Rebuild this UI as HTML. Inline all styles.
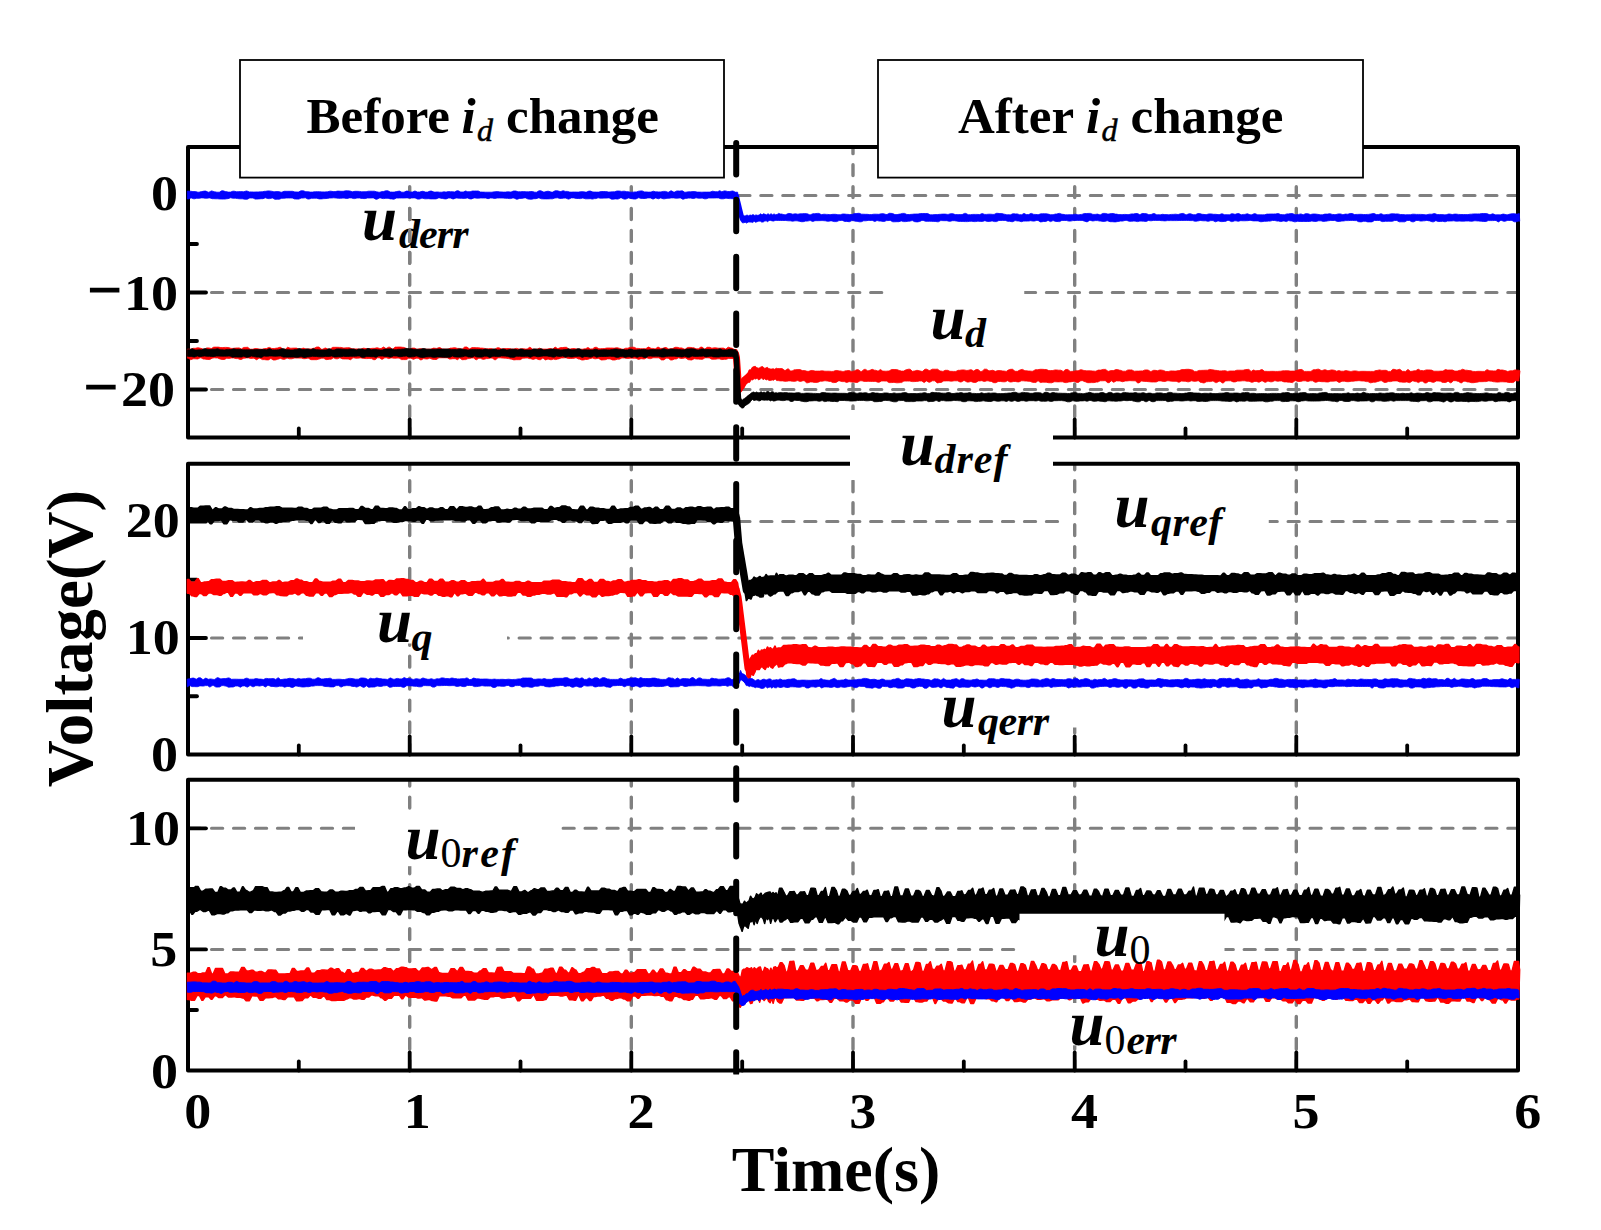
<!DOCTYPE html>
<html><head><meta charset="utf-8"><title>Voltage(V) vs Time(s)</title>
<style>html,body{margin:0;padding:0;background:#fff;overflow:hidden}svg{display:block}text{font-family:"Liberation Serif","Times New Roman",serif;fill:#000}.b{font-weight:bold}.bi{font-weight:bold;font-style:italic}.i{font-style:italic}</style></head><body>
<svg width="1601" height="1230" viewBox="0 0 1601 1230">
<rect x="0" y="0" width="1601" height="1230" fill="#fff"/>
<g stroke="#808080" stroke-width="3" stroke-linecap="round" stroke-dasharray="11.3 10.67" fill="none">
<line x1="189.5" y1="195.5" x2="1518.0" y2="195.5"/>
<line x1="189.5" y1="292.5" x2="1518.0" y2="292.5"/>
<line x1="189.5" y1="389.5" x2="1518.0" y2="389.5"/>
<line x1="189.5" y1="521.5" x2="1518.0" y2="521.5"/>
<line x1="189.5" y1="638.0" x2="1518.0" y2="638.0"/>
<line x1="189.5" y1="828.3" x2="1518.0" y2="828.3"/>
<line x1="189.5" y1="949.4" x2="1518.0" y2="949.4"/>
</g>
<rect x="883.75" y="283.00" width="140.50" height="20.00" fill="#fff"/>
<rect x="303.00" y="628.00" width="204.00" height="20.00" fill="#fff"/>
<rect x="1060.00" y="511.00" width="208.75" height="20.00" fill="#fff"/>
<rect x="355.00" y="818.00" width="206.25" height="20.00" fill="#fff"/>
<g stroke="#808080" stroke-width="3.4" stroke-linecap="round" fill="none">
<line x1="409.7" y1="147.00" x2="409.7" y2="437.50" stroke-dasharray="10.90 11.03" stroke-dashoffset="4.23"/>
<line x1="631.3" y1="147.00" x2="631.3" y2="437.50" stroke-dasharray="10.90 11.03" stroke-dashoffset="4.23"/>
<line x1="853.0" y1="147.00" x2="853.0" y2="437.50" stroke-dasharray="10.90 11.03" stroke-dashoffset="4.23"/>
<line x1="1074.7" y1="147.00" x2="1074.7" y2="437.50" stroke-dasharray="10.90 11.03" stroke-dashoffset="4.23"/>
<line x1="1296.3" y1="147.00" x2="1296.3" y2="437.50" stroke-dasharray="10.90 11.03" stroke-dashoffset="4.23"/>
<line x1="409.7" y1="463.75" x2="409.7" y2="754.50" stroke-dasharray="10.90 11.03" stroke-dashoffset="4.88"/>
<line x1="631.3" y1="463.75" x2="631.3" y2="754.50" stroke-dasharray="10.90 11.03" stroke-dashoffset="4.88"/>
<line x1="853.0" y1="463.75" x2="853.0" y2="754.50" stroke-dasharray="10.90 11.03" stroke-dashoffset="4.88"/>
<line x1="1074.7" y1="463.75" x2="1074.7" y2="754.50" stroke-dasharray="10.90 11.03" stroke-dashoffset="4.88"/>
<line x1="1296.3" y1="463.75" x2="1296.3" y2="754.50" stroke-dasharray="10.90 11.03" stroke-dashoffset="4.88"/>
<line x1="409.7" y1="779.75" x2="409.7" y2="1070.50" stroke-dasharray="10.90 11.03" stroke-dashoffset="4.58"/>
<line x1="631.3" y1="779.75" x2="631.3" y2="1070.50" stroke-dasharray="10.90 11.03" stroke-dashoffset="4.58"/>
<line x1="853.0" y1="779.75" x2="853.0" y2="1070.50" stroke-dasharray="10.90 11.03" stroke-dashoffset="4.58"/>
<line x1="1074.7" y1="779.75" x2="1074.7" y2="1070.50" stroke-dasharray="10.90 11.03" stroke-dashoffset="4.58"/>
<line x1="1296.3" y1="779.75" x2="1296.3" y2="1070.50" stroke-dasharray="10.90 11.03" stroke-dashoffset="4.58"/>
</g>
<rect x="395.00" y="601.00" width="30.00" height="42.50" fill="#fff"/>
<rect x="395.00" y="813.00" width="30.00" height="53.20" fill="#fff"/>
<rect x="1060.00" y="1003.00" width="30.00" height="42.30" fill="#fff"/>
<rect x="1060.00" y="688.00" width="30.00" height="39.50" fill="#fff"/>
<g stroke="#000" stroke-width="4" fill="none" stroke-linecap="round" stroke-linejoin="round">
<rect x="188.0" y="147.0" width="1330.0" height="290.5"/>
<rect x="188.0" y="463.75" width="1330.0" height="290.75"/>
<rect x="188.0" y="779.75" width="1330.0" height="290.75"/>
</g>
<g stroke="#000" stroke-width="3.8" fill="none" stroke-linecap="round">
<line x1="298.8" y1="437.5" x2="298.8" y2="428.5"/>
<line x1="409.7" y1="437.5" x2="409.7" y2="419.5"/>
<line x1="520.5" y1="437.5" x2="520.5" y2="428.5"/>
<line x1="631.3" y1="437.5" x2="631.3" y2="419.5"/>
<line x1="742.2" y1="437.5" x2="742.2" y2="428.5"/>
<line x1="853.0" y1="437.5" x2="853.0" y2="419.5"/>
<line x1="963.8" y1="437.5" x2="963.8" y2="428.5"/>
<line x1="1074.7" y1="437.5" x2="1074.7" y2="419.5"/>
<line x1="1185.5" y1="437.5" x2="1185.5" y2="428.5"/>
<line x1="1296.3" y1="437.5" x2="1296.3" y2="419.5"/>
<line x1="1407.2" y1="437.5" x2="1407.2" y2="428.5"/>
<line x1="298.8" y1="754.5" x2="298.8" y2="745.5"/>
<line x1="409.7" y1="754.5" x2="409.7" y2="736.5"/>
<line x1="520.5" y1="754.5" x2="520.5" y2="745.5"/>
<line x1="631.3" y1="754.5" x2="631.3" y2="736.5"/>
<line x1="742.2" y1="754.5" x2="742.2" y2="745.5"/>
<line x1="853.0" y1="754.5" x2="853.0" y2="736.5"/>
<line x1="963.8" y1="754.5" x2="963.8" y2="745.5"/>
<line x1="1074.7" y1="754.5" x2="1074.7" y2="736.5"/>
<line x1="1185.5" y1="754.5" x2="1185.5" y2="745.5"/>
<line x1="1296.3" y1="754.5" x2="1296.3" y2="736.5"/>
<line x1="1407.2" y1="754.5" x2="1407.2" y2="745.5"/>
<line x1="298.8" y1="1070.5" x2="298.8" y2="1061.5"/>
<line x1="409.7" y1="1070.5" x2="409.7" y2="1052.5"/>
<line x1="520.5" y1="1070.5" x2="520.5" y2="1061.5"/>
<line x1="631.3" y1="1070.5" x2="631.3" y2="1052.5"/>
<line x1="742.2" y1="1070.5" x2="742.2" y2="1061.5"/>
<line x1="853.0" y1="1070.5" x2="853.0" y2="1052.5"/>
<line x1="963.8" y1="1070.5" x2="963.8" y2="1061.5"/>
<line x1="1074.7" y1="1070.5" x2="1074.7" y2="1052.5"/>
<line x1="1185.5" y1="1070.5" x2="1185.5" y2="1061.5"/>
<line x1="1296.3" y1="1070.5" x2="1296.3" y2="1052.5"/>
<line x1="1407.2" y1="1070.5" x2="1407.2" y2="1061.5"/>
<line x1="188.0" y1="195.5" x2="206.0" y2="195.5"/>
<line x1="188.0" y1="292.5" x2="206.0" y2="292.5"/>
<line x1="188.0" y1="389.5" x2="206.0" y2="389.5"/>
<line x1="188.0" y1="521.5" x2="206.0" y2="521.5"/>
<line x1="188.0" y1="638.0" x2="206.0" y2="638.0"/>
<line x1="188.0" y1="828.3" x2="206.0" y2="828.3"/>
<line x1="188.0" y1="949.4" x2="206.0" y2="949.4"/>
<line x1="188.0" y1="244.0" x2="197.0" y2="244.0"/>
<line x1="188.0" y1="341.0" x2="197.0" y2="341.0"/>
<line x1="188.0" y1="579.75" x2="197.0" y2="579.75"/>
<line x1="188.0" y1="696.25" x2="197.0" y2="696.25"/>
<line x1="188.0" y1="888.9" x2="197.0" y2="888.9"/>
<line x1="188.0" y1="1010.0" x2="197.0" y2="1010.0"/>
</g>
<g>
<path d="M187.3 191.1h0.1l2.2 0.1h0.9l2.4 0.4h2.6l2.4 0.6h1.1l2.4-0.6h0.4l2.4-0.5h1.6l2.4 1.1h0.8l2.4-1.3h0.4l2.4 0.8h0.3l2.4 0.5h2.4l2.4-1.4h1.4l2.4 0.8h0.3l2.4 0.5h2.3l2.4-0.9h1.2l2.4 0.5h1.6l2.4-0.1h0.2l2.4 0.1h0.7l2.4-0.7h0.7l2.4 0.9h1.9l2.4 0.1h1.3l2.4-0.1h1l2.4-0.1h1.5l2.4-0.5h1l2.4-0.4h0.9l2.4 0.3h0.1l2.4 0.5h0.9l2.4-0.1h1.5l2.4 0.6h0.8l2.3-0.9h0.1h2.3h1.2h2.4h2.4l2.3 0.6h0.1l2.2 0.1h1.4l2.4-1.2h2.5l2.4 0.9h2.1l2.4 0.4h2.1l2.4-0.4h0.6h2.4h1.8l2.3 0.2h0.1h2.4h0.6l2.4-0.1h0.1l2.4-0.6h0.9l2.4 0.4h2l2.4-0.5h1l2.4 0.2h2.2l2.4-0.5h2l2.3 0.2h0.1l2.2 0.7h0.4l2.4-0.4h2l2.4 0.1h0.1l2.2 0.4h0.1l2.2-0.1h2.1l2.4-0.5h1.4h2.4h2l2.2 0.6h0.1l2.2 0.4h1l2.4-0.7h1.2l2.4-0.7h2.1l2.3 1.2h0.1l2.3 0.1h1.6l2.4-0.6h0.3l2.4-0.4h0.1l2.4 1.1h2.2l2.4-1.1h1.2l2.4 0.9h2.5l2.4-1h0.1l2.4 1h2.3l2.4-0.7h1l2.4 0.8h2.1l2.4-1h1.6l2.4 1h1.2l2.2-0.2h0.1l2.2 0.3h2.1l2.1-0.4h0.1l2 0.3h0.1l2.1-0.5h0.1l2.2 0.1h1.6l2.4 0.2h0.1l2.3-1.1h1.4l2.4 1.2h2.6l2.2-1h0.1l2.1 0.7h2.4l2.4-0.7h1.9h2.4h1.5l2.1 1h0.1l2.2 0.1h0.5l2.4 0.1h2.3h2.4h1.6l2.4-0.4h0.7l2.4-0.2h0.1l2.4 0.3h1.2l2.4 0.2h1.8l2.4-0.3h0.2l2.4 0.2h0.8l2.4-1h2.3l2.3 0.8h0.1l2.3-0.1h0.3l2.4-0.1h0.5l2.4 0.2h2.3l2.4-0.3h1.6l2.4 0.7h1.8l2.4-1.4h1.9l2.4 1.1h1.4l2.4-0.6h1.6l2.4 0.8h1.6l2.4-1.3h2.5l2.4 0.7h0.9l2.2-0.8h0.1l2.2 0.7h2l2.4 0.7h1.9l2.4-0.1h0.5l2.4 0.1h1.4l2.4-0.4h2.3l2.4 0.4h1l2.4-1h1.6l2.4 0.9h1.5l2.4 0.1h2l2.4-0.6h2l2.4 0.1h0.5l2.4 0.4h1.5l2.4-0.2h2.1l2.4-0.8h2.3l2.3 0.4h0.1l2.3-0.2h0.5l2.4 0.5h1.3l2.4 0.5h2.3l2.4-0.3h1.2l2.2-0.7h0.1l2.2-0.3h1.3l2.4 1h1.4l2.4 0.2h2.6l2.2-0.9h0.1l2.2 0.6h0.7l2.4 0.1h2.3l2.4-0.5h2.2l2.4 0.8h0.6l2.4-1.4h0.4l2.4 1.3h0.8l2.4-1.2h0.5l2.4 0.2h0.1l2.3-0.3h0.1l2.4 1.4h1.2l2.4-0.4h2.3l2.4-0.2h1.8l2.3 0.5h0.1h2.3h0.1l2.2 0.1h0.1l2.2-0.1h2.5h2.4h1.1l2.4-0.9h0.2l2.4 0.5h2.5l2.1-1h0.1l2 1.1h0.1l2.2-0.9h1.2l2.4 0.6h2.1l2.4-0.5h0.8l2.4 1.2h2.2l1.9 12.8h0.1l1.4 7h0.1l1.4 4.4h0.1l1.4-0.5h0.1l1.4-0.2h0.1l1.4-0.7h0.1l1.4 0.8h0.1l1.4-0.8h0.1l1.4 0.3h0.1l1.4-0.7h0.1l1.4 0.8h0.1l1.4-0.5h0.1l1.4 0.4h0.1l1.4-0.2h0.1l1.4-1.3h0.1l1.4 1h0.1l1.4-1.1h0.1l1.4 0.6h0.1l1.4 0.5h0.1l1.4-1.1h0.1l1.4 1.1h0.1l1.4-1.1h0.1l1.4 1.1h0.1l1.4-0.9h0.1l1.4 0.8h0.1l1.4-0.2h0.1l1.4-1.1h0.1l1.9 0.6h1.1l2.4 0.7h1.8l2.4-1.2h2.1l2.4 0.7h0.1l2.4-0.4h0.4l2.2 0.4h0.1l2.2-0.4h2l2.3-0.2h0.1l2.3 0.1h0.3l2.4 1h1.1l2.4-1h1.8l2.4-0.3h1.7l2.4 1.2h0.4l2.3-0.4h0.1l2.4 0.2h0.8l2.4 0.2h1l2.2-0.3h0.1h2.1h0.4l2.4 0.4h2.4l2.4-0.7h1.5l2.4 0.3h0.5l2.4 0.2h2.5l2.4-0.9h1.7l2.4-0.3h0.7l2.4 0.9h1.5l2.4 0.1h1.7l2.4 0.3h1.8l2.4-0.4h2.4l2.4 0.1h0.3l2.4-0.6h2.3l2.4 0.8h1l2.4-1.2h0.7l2.4 0.2h0.1l2.3 1.1h2.2l2.4-0.5h0.6l2.4-0.7h2l2.4 1.1h2.6l2.4-0.2h0.2l2.4-0.3h1.2h2.3h0.1l2.4-0.5h2.3h2.4h2.5l2.4 1.3h2.4l2.4-0.2h2.4l2.4-0.3h0.5l2.4-0.2h2.5l2.4 0.3h0.7l2.4-0.7h2.3l2.3 0.9h0.1h2.4h0.7h2.4h1.3l2.4-1.2h1.3l2.4 1.3h2.2l2.4-0.3h0.2h2.4h1.5l2.4 0.1h0.4l2.4-0.9h0.2l2.4 0.8h1.7l2.4-0.2h1.7l2.4 0.2h1.2l2.4-1.1h1l2.4 0.3h2l2.3 0.6h0.1l2.4 0.5h0.7l2.4 0.1h0.7l2.4-1.1h0.3l2.4 0.2h1.7l2.3 0.8h0.1h2h0.1l2.1-1.3h0.1l2.3 1.2h2.3l2.4-1.2h0.4l2.4 1h1.3l2.4 0.2h1l2.4-0.8h1.3l2.4-0.1h1.2l2.3 0.4h0.1l2.3 0.6h2.6l2.4-0.7h1.1l2.4-0.6h0.6l2.4 0.9h1l2.4 0.5h2.3l2.4-0.1h2.2l2.4-0.5h0.8l2.4 0.6h1l2.4-0.4h0.6l2.4-0.9h2.4l2.4-0.1h1.4l2.4 1h2.2l2.3-0.3h0.1l2.3 0.7h0.6l2.4-1.4h2.5l2.4 0.6h1.2l2.4-0.5h1.7l2.4 0.6h1l2.4 0.5h0.2h2.4h1.2l2.2-0.2h0.1l2.2 0.2h1.8l2.4-0.7h2.2l2.4-0.4h1.6l2.3 1.2h0.1l2.2-1.2h2.3l2.3 0.3h0.1l2 0.9h0.1l2.1-0.2h0.1l2.4-1h0.7l2.4 1.2h0.9l2.4 0.1h0.4l2.2-0.5h0.1l2.2 0.3h1.2l2.4 0.1h0.7l2.4-0.3h1.6l2.4-0.2h0.1l2.4 0.3h0.2l2.3-0.8h0.1l2.4-0.3h0.4l2.4 1.3h0.8l2.4-0.9h1.7l2.4 0.9h2.3l2.4-1.1h1.9l2.4 0.7h0.6l2.4 0.3h1.4l2.4-0.7h2.2l2.4 0.4h2.2l2.4 0.3h1.2l2.4-0.8h0.5l2.4 0.9h2.5l2.2 0.1h0.1l2.2-1.1h0.9l2.4 0.6h0.3l2.4-0.7h1.2l2.4 1.2h0.1l2.3-0.4h1.2l2.4-0.6h0.4l2.4 1h1.7l2.4-1.1h1.2l2.4 1.1h2.4h2.4h2l2.4-0.7h1.6l2.4-0.1h2.5l2.2-0.1h0.1l2.3-0.3h0.4l2.2 0.9h0.1l2.2 0.2h1.6l2.4-0.8h1.5l2.4-0.3h1.8l2.4 1.1h0.9l2.4-0.3h0.4l2.2-0.5h0.1l2.1 0.9h0.1l2.2-1.1h2.4l2.4 0.8h0.4l2.4-0.5h2l2.4 0.3h0.4l2.4 0.5h2.2l2.4-0.7h2.6l2.4-0.4h0.1l2.3 0.7h0.1l2.3 0.2h1.3l2.4-0.7h2.2l2.4 0.8h0.1l2.3-0.6h0.1l2.2 0.1h0.2l2.4-0.7h2l2.3 1h0.1l2.4-0.1h0.8l2.4-0.1h0.9l2.4 0.2h1.8l2.4-0.1h0.7l2.4-0.4h0.1l2.3-0.5h0.8l2.4 1.1h2.1l2.4-0.9h0.3l2.4 1.1h1.3l2.4-0.4h1.5l2.4-0.6h1.9l2.4 0.1h2.4l2.4 0.6h2.4l2.4 0.3h0.6l2.4-0.1h2.2l2.4-0.5h1.2l2.4 0.2h2.1h2.3h0.1l2.2 0.1h0.1l2.2 0.3h1.5l2.4-0.6h2.6l2.4-0.6h0.5l2.4 0.9h0.1l2.3 0.1h2.4l2.4 0.2h1.8l2.4-0.8h1.2l2.4 0.5h0.2l2.4-0.4h1.3l2.4 0.3h0.1l2.4 0.1h2.6l2.4 0.1h1.9l2.4-0.4h1l2.4-0.3h1.4h2.4h2l2.4-0.4h2l2.4 0.1h0.6l2.4 1h1.1l2.4-0.8h0.2l2.4 1h1.5h2.4h1.3l2.4-0.7h0.8l2.4 0.6h1.6l2.2-0.6h0.1l2.2-0.4h2l2.4 0.4h0.7l1.9-0.5h0.1l0.4 7.6h-0.1l-1.2-0.1h-0.1l-2.2 0.7h-1.8l-2.4-1.4h-1.2l-2.4 0.1h-1l-2.4 0.8h-1.1l-2.4-0.9h-0.7l-2.3 1.5h-0.1l-2.3-1.4h-1.3l-2.2 0.1h-0.1h-2.2h-1.9l-2.4 0.9h-2.3l-2.4-0.3h-0.3l-2.4-0.2h-0.4l-2.4-0.2h-1.2l-2.4 0.4h-1.3l-2.4-0.2h-2.5l-2.4 0.2h-1.2l-2.4-0.1h-0.9l-2.4 0.1h-0.4l-2.4-0.4h-0.2l-2.4 0.2h-1.1l-2.4 0.1h-0.3l-2.3 0.7h-0.1l-2.2-0.5h-0.1l-2.3 0.2h-2.2l-2.3-0.8h-0.1l-2.3 1.1h-1.4l-2.4-0.9h-0.5l-2.3-0.5h-0.1l-2.3 0.4h-0.7l-2.4 0.3h-0.8l-2.4-0.6h-2.1l-2.4 1.3h-1.8l-2.4-1.3h-2.4l-2.4 1.3h-0.6h-2.4h-2.5l-2.4-1.3h-2.1l-2.4 0.8h-0.1h-2.3h-1.6h-2.4h-0.4l-2.4 0.3h-1l-2.4-1.1h-2.4h-2.4h-0.5l-2.4 1.4h-0.3h-2.4h-1.6l-2.4-0.6h-1.7l-2.4 0.6h-0.4l-2.2-0.2h-0.1l-2.1-1.1h-1.5l-2.4-0.2h-1.7l-2.4 0.2h-2.6l-2.4 0.4h-1.5l-2.4 0.4h-2.2l-2.4-0.9h-0.6h-2.4h-1.5l-2.2 0.3h-0.1l-2.2 0.4h-0.5l-2.1 0.2h-0.1l-2.2-0.6h-2.4l-2.4 0.6h-1.9l-2.4-0.4h-0.1l-2.3 0.5h-2.2h-2.4h-1.6h-2.4h-0.9l-2.2-0.2h-0.1l-2.2 0.5h-1.2l-2.4-0.8h-1l-2.3-0.4h-0.1l-2.1 1h-0.1l-2.2-0.6h-1l-2.2 0.6h-0.1l-2.2-0.5h-1.4l-2.3-0.6h-0.1h-2.2h-0.2l-2.4 0.6h-1.4l-2.4 0.2h-2l-2.4 0.4h-1.3l-2.4-0.8h-2.3h-2.4h-0.2l-2.4-0.5h-1l-2.4 0.3h-0.6l-2.4 0.1h-0.7l-2.4-0.1h-0.8l-2.2 0.6h-0.1l-2.2-0.5h-1.2l-2.4 0.8h-1.1l-2.4-1.2h-1.2l-2.4 1h-0.9l-2.4 0.2h-0.9l-2.4-0.6h-0.9l-2.4 0.8h-0.1l-2.3-1.2h-2.2l-2.4 0.7h-0.4l-2.4-0.5h-2.4l-2.4-0.3h-0.8l-2.2 0.5h-0.1l-2.2 0.3h-0.4l-2.4-0.7h-1.7l-2.2-0.1h-0.1l-2.1-0.1h-2.5l-2.4 0.1h-2.6l-2.4 0.1h-2.5h-2.4h-1.4h-2.4h-0.6l-2.4 0.3h-0.1l-2.4-0.2h-0.8l-2.4-0.3h-1.2h-2.4h-2.2l-2.4 0.4h-0.3l-2.2-0.3h-0.1l-2.2 0.9h-0.3l-2.4-0.2h-0.1l-2.4-0.1h-1.2l-2.4 0.5h-0.1l-2.4-0.5h-1.3l-2.4 0.2h-2.1l-2.4-0.9h-1.7l-2.4 0.7h-2.3l-2.4 0.4h-0.1l-2.4 0.4h-0.9l-2.4-0.2h-2.2l-2.4-0.9h-0.6l-2.4 0.6h-1.5l-2.4-0.3h-0.8l-2.4-0.5h-2.3l-2.3 0.4h-0.1l-2.4-0.6h-0.9l-2.4 1.5h-0.1l-2.3-0.7h-0.1l-2.4-0.8h-2.4h-2.4h-1.9l-2.4 0.2h-0.2l-2.4 0.5h-1.7l-2.4-0.6h-2.2l-2.2-0.1h-0.1l-2.3 1.2h-1.2l-2.4-0.2h-0.4l-2.4-0.8h-0.2l-2.4 1h-0.2l-2.3-1.2h-0.1l-2.2 1.1h-2.4l-2.4 0.4h-0.6l-2.4-1.5h-1.2l-2.4 0.7h-1.5l-2.2-0.4h-0.1l-2.3 0.4h-0.7h-2.4h-1.5l-2.3 0.6h-0.1l-2.3-0.7h-1.5l-2.3-0.4h-0.1l-2.4 1.1h-0.9l-2.4-0.4h-1.7l-2.4-0.9h-0.1h-2.4h-0.3l-2.4 0.1h-1.2l-2.4 1.1h-2l-2.4-0.7h-0.1l-2.4 0.5h-2.3l-2.4-0.7h-0.1l-2.3 0.7h-2l-2.4-0.2h-0.3l-2.4 0.4h-1.3l-2.4-0.3h-1.8l-2.4 0.3h-1.9l-2.4-0.1h-0.4l-2.4-0.1h-1.4l-2.2-0.3h-0.1l-2.2-0.4h-2l-2.4 0.6h-0.9l-2.4-0.6h-2.6l-2.4-0.1h-1.1l-2.4 1.2h-0.7l-2.4-0.4h-1.6l-2.4-0.1h-1.7h-2.4h-1.6l-2.4-0.9h-1.2l-2.2 1.1h-0.1l-2.1 0.4h-0.5l-2.2-0.2h-0.1l-2.3-1.1h-0.4l-2.4 0.6h-1.4l-2.4 0.4h-2.3l-2.2-0.7h-0.1l-2.3 0.8h-2l-2.4 0.1h-1.7l-2.4-1.3h-1.1l-2.4 0.1h-0.3l-2.4 0.9h-0.9l-2.4-0.4h-1.6l-2.2-0.6h-0.1l-2.1 1h-0.1l-2.4-1h-0.8l-2.4-0.1h-0.9l-2.4 0.4h-2.3l-2.4 1h-1.8l-2.4-0.5h-1.5l-2.4-0.7h-1.2l-2.4 1.1h-0.5l-2.4-0.3h-1.9l-2.4-1h-0.8l-2.4 0.2h-0.1l-2.3 1h-2.5l-2.4-0.7h-1.3l-2.4 0.4h-0.6l-2.2-0.5h-0.1l-2.3-0.2h-1.8l-2.4 0.1h-0.1h-2.3h-1.3l-2.2 0.8h-0.1l-2.3-0.9h-0.6l-2.4 0.5h-1.8l-2.4 0.6h-1.8l-2.2-0.5h-0.1l-2.1-0.4h-2l-2.3 0.4h-0.1l-2.4-0.4h-1.9l-2.4-0.3h-0.7h-2.3h-0.1h-2.4h-0.3l-1.9-0.1h-0.1l-1.4 0.1h-0.1l-1.4-0.1h-0.1l-1.4 0.7h-0.1l-1.4-0.2h-0.1l-1.4-0.5h-0.1h-1.4h-0.1l-1.4 1.4h-0.1l-1.4-1h-0.1l-1.4 0.3h-0.1l-1.4 0.9h-0.1l-1.4 0.1h-0.1l-1.4-1h-0.1l-1.4 0.1h-0.1l-1.4 0.5h-0.1l-1.4 0.6h-0.1l-1.4-1h-0.1l-1.4 1.2h-0.1l-1.4-0.4h-0.1h-1.4h-0.1h-1.4h-0.1l-1.4 1h-0.1l-1.4-0.8h-0.1l-1.4 0.5h-0.1l-1.4-0.1h-0.1l-1.4-6.3h-0.1l-1.4-5.6h-0.1l-1.4-6.7h-0.1l-1.4-5.5h-0.1l-1.9 0.1h-1.3l-2.4-0.1h-1.3l-2.4-0.3h-1.1l-2.4 0.5h-2.4l-2.4-0.9h-1.9l-2.4 0.1h-2.1h-2.4h-1.1l-2.4 0.8h-1.7l-2.3-0.7h-0.1l-2.2 0.1h-1.5l-2.3-0.4h-0.1l-2.2 0.7h-0.7l-2.4-0.4h-2.4l-2.4 0.3h-0.5l-2.4 0.9h-0.1l-2.3-1.3h-1.3l-2.4 0.2h-0.9l-2.4-0.3h-2.4l-2.4 0.4h-1.8l-2.4 0.5h-1.5l-2.3-0.9h-0.1l-2.4 0.9h-0.1l-2.4-0.9h-0.1l-2.4 1.1h-0.5l-2.4-1.1h-2.6l-2.4 0.6h-0.3h-2.4h-1.4l-2.4-0.7h-0.6l-2.4 1.2h-2.4l-2.4-0.6h-0.4l-2.3-0.5h-0.1l-2.4 1.2h-1.9l-2.4-1.2h-1.2l-2.4 1.2h-0.1l-2.4-0.2h-0.4l-2.4 0.3h-1.1l-2.4-1.3h-0.8l-2.4 0.2h-2l-2.4 0.1h-1.2l-2.2-0.4h-0.1l-2.2 0.8h-1.3l-2.2 0.5h-0.1l-2-0.4h-0.1l-2.2 0.1h-2.6l-2.4-0.7h-0.4l-2.2 0.5h-0.1l-2.1-0.1h-1.9l-2.4-0.6h-2.6l-2.4 1.2h-0.7l-2.4-1h-1.9l-2.4 0.3h-1.8l-2.2-0.6h-0.1l-2.3 0.2h-0.2l-2.4 0.8h-2.2l-2.4 0.1h-0.2h-2.4h-0.9l-2.4-0.1h-0.5l-2.4-0.9h-0.7l-2.4 0.8h-2.1l-2.4 0.6h-0.2l-2.4-0.2h-0.8l-2.4-1.2h-1.6l-2.4 0.5h-2l-2.4 0.8h-0.9l-2.4-1.2h-1.2l-2.4 0.6h-0.7l-2.4-0.3h-1.8l-2.4-0.3h-1.2h-2.4h-2.4l-2.4 0.5h-0.1l-2.4-0.5h-1.8l-2.3 0.7h-0.1l-2.2-0.7h-1.9h-2.4h-0.9l-2.4 0.2h-1l-2.4-0.3h-0.8l-2.4 1h-1.6l-2.4-0.9h-0.5l-2.4 0.4h-0.5l-2.4-0.1h-2.5l-2.4-0.3h-0.9l-2.4 0.9h-0.8l-2.4-0.9h-1.8l-2.4 0.9h-1.2l-2.4-0.4h-0.5l-2.4-0.6h-1.2l-2.4 1h-0.9h-2.4h-2.1l-2.2-0.2h-0.1l-2.3 0.1h-1.3l-2.4-0.6h-0.6l-2.4 0.9h-1.9l-2.4-1.2h-1.3l-2.4 0.1h-0.9l-2.4-0.1h-1.6l-2.4 0.1h-0.1h-2.4h-1.9l-2.4 0.1h-1l-2.3 1.1h-0.1l-2.3-0.3h-1.1l-2.4-0.6h-2.2l-2.4 0.3h-0.5l-2.4-0.6h-1.2l-2.4 1.2h-1.2l-2.4-1.3h-1l-2.4 0.1h-2.5l-2.4 0.6h-0.1l-2.4-0.1h-0.7l-2.4-0.5h-2.5l-2.4 0.6h-0.9l-2.4-0.7h-1.9l-2.4 0.6h-0.5l-2.4-0.4h-1.2l-2.4 0.2h-2l-2.4-0.3h-0.1l-2.2-0.2h-0.1l-2.2 0.2h-1.9l-2.3 0.4h-0.1l-2.2 0.2h-1.1l-2.4 0.3h-2.4l-2.4-0.7h-2.6l-2.4 0.1h-0.2l-2.4 0.7h-1.3l-2.4-1.2h-0.4l-2.4 0.3h-1.4l-2.4 1h-0.9l-2.4-0.1h-0.8l-2.4-1h-1.6h-2.4h-2.1l-2.4 0.3h-2.1l-2.4 0.9h-2.1l-2.2 0.1h-0.1l-2.2-1.2h-0.7l-2.4 0.5h-1.8l-2.4-0.8h-0.1l-2.3 0.9h-1.9l-2.1 0.2h-0.1l-2.2 0.2h-1.5l-2.2-1.1h-0.1h-2.3h-0.9l-2.4 1.2h-2.6l-2.4-0.4h-2.4l-2.2-0.2h-0.1l-2.2-0.4h-2.4l-2.4-0.4h-0.2l-2.4 0.9h-0.9l-2.4 0.4h-1.3l-2.4-0.1h-1l-2.4-0.2h-1.5l-2.4-0.1h-1.4l-2.4-0.8h-0.9l-2.4 0.4h-1.1l-2.4-0.4h-1.7l-2.4 0.4h-2.3l-2.4 0.5h-0.5l-2.4-0.8h-0.5l-2.4 1h-1.1z" fill="#0000ff" stroke="#0000ff" stroke-width="0.8" stroke-linejoin="round"/>
<polyline points="735.5,195.0 736.5,196.2 737.5,200.3 738.5,204.4 739.5,208.5 740.5,212.6 741.5,216.6 742.5,219.5 743.5,219.4 744.5,219.2 745.5,219.1" fill="none" stroke="#0000ff" stroke-width="5" stroke-linejoin="round" stroke-linecap="round"/>
<path d="M187.4 349.2h0.1h2.3h1l2.4-0.9h2.1l2.4-0.6h0.6l2.4 0.6h0.2l2.4 0.9h1.1l2.4-1.3h2l2.4 0.6h0.2l2.4-1.4h0.6h2.4h1.6l2.4 0.5h1.9l2.4-0.2h0.5l2.4 0.1h0.6l2.4 0.9h1.7l2.4-0.3h0.1l2.4-0.2h1.5l2.3 1h0.1l2.2-1.5h1.3l2.4-0.1h0.3l2.4 1.9h2.5l2.4-0.6h1.8l2.4 0.4h0.1l2.3 0.2h0.7l2.4-0.7h1.7l2.4-1.1h0.6l2.4 1.1h2.5l2.4-0.4h0.6l2.4-0.8h0.8l2.4 1.8h0.4h2.2h0.1l2.1-1.9h0.1l2.3 1h1.6l2.4-0.1h2.4l2.4 1h1.8l2.4-1h0.4l2.4 0.8h2.1h2.4h1l2.4-0.7h0.5l2.4-1.2h2.3l2.4 2.2h1.3l2.4-1.2h0.4l2.4 1.1h2.4l2.4-1.8h2.1h2.3h0.1l2.3 0.1h1.4l2.4 0.5h1.6l2.4-0.2h2.2l2.4 1h0.8l2.4 0.2h2.5l2.4 0.2h0.8l2.4-0.9h0.6l2.4 0.4h0.2h2.4h1.4l2.4-0.3h1.9l2.4-0.5h0.5l2.4 0.7h1.3l2.4-1.5h0.1l2.4 1.6h0.1l2.4-1.4h1.3l2.4 1.9h0.6l2.4-2h1.7l2.4-0.1h0.9l2.4 0.3h0.6l2.1 0.6h0.1l2.2 1h2.3l2.4-0.8h2.1l2.4 1.1h0.6l2.4-0.5h1.5l2.4 0.3h1.3l2.2 0.2h0.1l2.1-0.1h1.6l2.4-1h0.4l2.4 0.3h0.5l2.4-0.8h0.8l2.4 1.3h0.8l2.4 0.2h2.6l2.4-1h1.5l2.4-0.4h0.6l2.4 0.7h1.9l2.4 0.7h0.6l2.4-2.1h2.2l2.4 1.8h0.4l2.4-1.2h1.6l2.4 0.1h2.1l2.4 0.4h1.6l2.2 0.3h0.1l2.2 0.4h1.7l2.4-0.2h0.3l2.4 0.6h1.3l2.4-1.4h1.8l2.4 1.1h0.3l2.4-0.3h0.1h2.4h2.5l2.4 0.4h2.4l2.4-0.6h0.3l2.4 0.7h0.1l2.4-0.4h1.6l2.4 0.3h1.7l2.4-1.7h0.5l2.4 1.8h1.3l2.4 0.1h0.9l2.2-1h0.1l2.2 0.8h0.1l2.2 0.1h0.1h2.2h1l2.4-0.6h0.5l2.4 0.6h0.2l2.4-2h0.1l2.3 1.4h0.7l2.4-0.9h1.8l2.4-0.3h1.7l2.4 1.8h1.2l2.4-0.6h1.5l2.4 0.4h2.1l2.4 0.3h1.6l2.4-0.5h0.7l2.3-1.2h0.1l2.3 1.4h2.1l2.4-1.6h1.7l2.4 1.4h1.4l2.4-0.1h1.6l2.4-0.6h1.3h2.4h0.5l2.4 0.1h1.1l2.4-0.4h0.5l2.4 0.7h0.1l2.3 0.8h1.2l2.4-1h2l2.3-0.8h0.1l2.3-0.2h1.7l2.4 1.2h1.6l2.4 0.3h2h2.4h0.9l2.4-1.6h0.6l2.4 1.3h1.1l2.4 0.4h0.8l2.4-1.7h0.3l2.4 1.3h1.8l2.4-0.9h1.3l2.4 1.4h0.8l2.4-0.4h1l2.4-1.2h2.1l2.4 0.6h2.2l2.4 1.2h1.1l2.4-1.7h2.4l2.4 0.3h1.2l2.4 1.1h2.3l2.4-1.7h1.3l2.4 2h0.3l2.4-1.8h2.4l2.3 0.9h0.1l2.2-0.4h1.5l2.4 0.4h1.5l2.4-0.1h1.4l2.3 1h0.1l2.3-1.9h0.4l2.4 0.9h1l2.4 1.4h2.5l1.9 33.2h0.1l1.4-0.1h0.1l1.4-4h0.1l1.4-1.7h0.1l1.4-0.9h0.1l1.4-1.6h0.1l1.4-1.4h0.1l1.4-3.2h0.1h1.4h0.1l1.4-2.5h0.1l1.4-0.7h0.1l1.4-0.3h0.1l1.4 1.3h0.1l1.4 0.6h0.1l1.4-0.5h0.1l1.4-1h0.1l1.4-0.1h0.1l1.4 1.6h0.1l1.4-0.2h0.1l1.4-0.7h0.1l1.4 1.2h0.1l1.4 0.4h0.1l1.4 0.1h0.1l1.4-0.3h0.1l1.4 0.6h0.1l1.4-1.1h0.1l1.4 0.4h0.1h1.9h2.4l2.4 1.7h1l2.4-1.5h0.3l2.4 2.1h1.5l2.4-1.2h1.1l2.4-0.1h2l2.4 1h2.3l2.4 0.7h1.6l2.4-0.8h1.6l2.4 0.6h0.3h2.4h1.7l2.4-0.3h0.6l2.4 0.4h1.9h2.3h0.1l2.2 0.2h1.8l2.4-0.9h1.2l2.4 0.4h0.8l2.4 0.5h1.2l2.4-0.7h0.6l2.3-0.2h0.1l2.4 0.9h0.5l2.3-0.5h0.1l2.4-1.2h1.6l2.4 1.7h1l2.4-2h1.5l2.2 1.5h0.1l2-0.6h0.1l2.1-1h0.1l2.3 0.9h0.8l2.4 0.7h0.6l2.1-1.4h0.1l2.2 1.6h0.4l2.4 0.1h0.7l2.4-0.2h0.5l2.4-1.5h2.6l2.4 0.1h0.4l2.2 0.8h0.1l2.2 0.7h2.2l2.4-1.3h0.1l2.4-0.6h1.6l2.3 2.1h0.1l2.3-0.4h0.1l2-0.6h0.1l2.1 0.4h0.1l2.3 0.6h1.1l2.4-2.1h1.7l2.4 1.3h0.8l2.4-1.3h0.7h2.4h2.2l2.4 1.8h0.7l2.2 0.4h0.1l2.2-1.1h2.4l2.4 1h1l2.4 0.1h2.4l2.4-1.1h1.5l2.4-0.4h1.8l2.4 0.5h1.7l2.4-0.7h0.9l2.3 1.3h0.1l2.4-1.5h1.9l2.4 1.9h1.6l2.4-2.2h2.1l2.4 1.6h1l2.4-0.5h0.6l2.4 1h0.1l2.4-0.7h2.6l2.4 0.4h1.1l2.3 0.4h0.1l2-1.4h0.1l2.3-0.7h1.9l2.4 2h2.5l2.2-1.2h0.1l2.2-0.7h0.5l2.4 1.3h1l2.4 0.3h0.9l2.4 0.2h1.3l2.4-1.5h2.5l2.4-0.4h2.2l2.4 0.2h1.6l2.4 1.1h1.8l2.2-0.1h0.1l2.2-0.6h1.2l2.4 0.3h2.2l2.3 1.2h0.1l2.3-1.9h2.2l2.4 1.9h0.8l2.3-0.1h0.1l2.3-0.5h2.4l2.4-1.1h1l2.4 0.8h0.3l2.4 0.3h1.3h2.3h0.1l2.3 0.2h0.1l2.3 0.2h0.8l2.4-1.1h2.6l2.4-0.7h2.4l2.4 1.9h0.5l2.4-0.7h2.5l2.4-1h1.7l2.4 0.7h0.6l2.4 0.9h0.5h2.2h0.1l2.2-1.3h0.3h2.4h1.2l2.4 1.3h0.4l2.4-0.1h1.4l2.4-0.2h1.8l2.4-1h0.5l2.4 0.1h0.1l2.4 1.4h0.8l2.4-1.1h1.5l2.3 0.4h0.1l2.3-0.7h1l2.4 0.4h0.2l2.4 1.1h2.6l2.4-0.6h1.7l2.4 0.2h1.1l2.4-0.5h0.9l2.4-1h2.4l2.4-0.3h2.4l2.4 0.5h0.8l2.4 1.6h2.2l2.4-1h1.8l2.4-0.1h0.2l2.4-0.1h1.7l2.1-0.8h0.1l2.2 0.4h0.7l2.3 0.5h0.1l2.3 0.2h0.1l2.2 0.4h1.5l2.4-0.2h1.8l2.2 0.7h0.1l2.1-0.4h0.1h2.2h2.4l2.4-0.8h2h2.4h1.8l2.4-0.6h0.2l2.4-0.2h0.8l2.2 2h0.1l2.1-1.4h0.1l2.3 0.8h0.1l2.3-0.2h1.1l2.4-1.1h0.5l2.4 1.8h1l2.4 0.1h1.2l2.4-0.1h1.6l2.4 0.1h2.3l2.4-0.2h0.5l2.4-0.4h1.4l2.4-0.1h0.9l2.4 0.4h1.5h2.4h0.5l2.4-0.8h0.1l2.4-0.8h2.4l2.4 1.9h2.4h2.4h1.8l2.4-1.7h2l2.4-0.5h1.1l2.4 1.3h1l2.4-0.8h0.6l2.4 0.9h1.3l2.4-0.7h0.9l2.2 0.4h0.1l2.1 0.9h0.1l2.1-0.6h0.1l2.2 0.6h2.4l2.3-0.6h0.1l2.1 0.4h0.1l2.2 0.4h1l2.4-0.5h2.2l2.4 0.5h1.4l2.4-0.1h2.5l2.4 0.1h1h2.4h0.1h2.4h0.7l2.4-0.9h1l2.4-0.6h0.2l2.2 0.5h0.1l2.3-0.1h2l2.2 1.1h0.1h2h0.1l2.2-2.1h1.2l2.4 0.6h0.7l2.4-0.6h0.4l2.4 2h0.7l2.4 0.1h0.2l2.3-2h0.1l2.3 1.9h1.7l2.4-0.6h1.4l2.3-1.5h0.1l2.2 1.2h0.4l2.4 0.3h0.6l2.4-0.8h2.6l2.4 0.2h0.3l2.4 1.1h1h2.4h1.3l2.4-0.1h2l2.3-1.5h0.1l2.3 0.5h0.1l2.4-0.1h2.2l2.4 1.1h2.5l2.4-0.8h0.7l2.3-1.1h0.1l2.4 1h1.5l2.4 0.4h1.4l2.4 0.8h0.2l2.4 0.1h0.3l2.4-0.2h1.5l2.4 0.1h2.4l2.4-1.7h0.5l2.4 1.1h1.5l2.4 0.1h1.8l2.4-1.6h0.1l2.4 0.7h2.2l2.4 0.6h0.4l2.3 0.9h0.1l2.3-0.7h2.4l2.4-0.9h0.3l2.4 0.3h1.2l1.1 0.6h0.1l-1.2 10.2h-0.7l-2.4-0.3h-0.1l-2.4 1.9h-0.4l-2.4-0.1h-1.7l-2.4-0.6h-1.1l-2.4-0.1h-2l-2.4 0.3h-1.6l-2.4-0.3h-0.6l-2.3-0.6h-0.1l-2.3-0.2h-0.8l-2.4 0.6h-1.7l-2.4 0.1h-2.6l-2.4 0.6h-0.8l-2.4 0.4h-2.2l-2.4-0.7h-1.4l-2.4-0.8h-1.4l-2.4 1.7h-0.5l-2.4-1.4h-0.1l-2.4-0.8h-2.5l-2.4 2.1h-0.8l-2.2-1.6h-0.1l-2.2 1.3h-0.1h-2.2h-0.9l-2.2-1.3h-0.1l-2.2-0.2h-1.7l-2.4 1.3h-1.6l-2.4-0.9h-1.4l-2.4 1.6h-1.4l-2.4-1.8h-1.6l-2.3 1.4h-0.1l-2.2-1h-0.7l-2.4-0.7h-0.8l-2.4 1.7h-0.7l-2.3-0.7h-0.1l-2.4 0.4h-0.9l-2.4-0.3h-1.5l-2.4-1.1h-2l-2.2 0.1h-0.1l-2.2 0.6h-2.4l-2.4 0.8h-1.7l-2.4-1.6h-1.6l-2.3 0.7h-0.1l-2.3 0.7h-2.2l-2.4 0.6h-0.6l-2.4-1.2h-1.5l-2.4-0.6h-2.2l-2.4-0.3h-1.1l-2.4 0.2h-0.7l-2.4 0.4h-1.6l-2.4 0.4h-1.9l-2.4-0.5h-2.5l-2.4 1.2h-0.6l-2.4-1.4h-1.3l-2.4 0.2h-2.2l-2.4 0.8h-1.7l-2.4-0.3h-2.4l-2.4-0.3h-0.8l-2.4 0.8h-1.2l-2.4-1.4h-2.3l-2.4 0.7h-0.2l-2.4-0.7h-2.3l-2.4 0.7h-2.5l-2.4-0.8h-0.7l-2.4 1.9h-0.5l-2.4-0.4h-1l-2.4-0.3h-2.3l-2.4-0.9h-1.7l-2.2 0.3h-0.1l-2.2-0.5h-0.9l-2.4 1h-1.8l-2.3-0.7h-0.1l-2.2 1.2h-0.8l-2.4-1.3h-1l-2.4 1.2h-0.4l-2.4-0.8h-1.5l-2.4 0.9h-1l-2.4-1.1h-2l-2.4-0.4h-2.1l-2.4 0.3h-2.5l-2.4 0.8h-2.1l-2.4-1.1h-2.3l-2.4 0.1h-0.4l-2.4 2.1h-0.8l-2.4-1.8h-0.9l-2.4 1.4h-1.2l-2.4-1.5h-0.4l-2.4 0.5h-1.7l-2.2 0.2h-0.1l-2.2 1.2h-0.2l-2.4-0.5h-0.8l-2.4-1.8h-0.1l-2.4 0.6h-1.9l-2.4-0.5h-0.1l-2.4 1h-1.4l-2.4-0.6h-1.2l-2.4-0.1h-0.1l-2.3 1.1h-0.6l-2.4-0.9h-2.2l-2.4-0.1h-0.3l-2.4-0.4h-1.6l-2.4 0.7h-1.5l-2.4-0.6h-2.4l-2.4 1.1h-0.3h-2.4h-2.1l-2.4-0.3h-0.4l-2.4-0.3h-1.8l-2.4-0.3h-0.6l-2.4 1.8h-1.3l-2.4-2.1h-2.5l-2.4-0.1h-1.2l-2.4 0.3h-1.6l-2.4 0.7h-0.4l-2.4-0.7h-0.7l-2.4-0.1h-0.7l-2.4 1.4h-0.2l-2.2-1.5h-0.1l-2.1 1.9h-1.5l-2.4-2h-0.5l-2.4 0.1h-2.2l-2.4 1.3h-1.4l-2.4 0.5h-2.5l-2.4 0.1h-1.4l-2.4-0.9h-0.3l-2.4-1.1h-1.8l-2.4 1.7h-1.7l-2.4-1h-1.2l-2.4 0.5h-1.7l-2.4 0.7h-1.7l-2.4-0.8h-1.8l-2.4 0.1h-0.1l-2.4-0.1h-1.6l-2.4 1h-1.1l-2.3-0.1h-0.1l-2.1-0.5h-0.1h-2.3h-1.1l-2.3 0.3h-0.1l-2.2-1.8h-0.1l-2.2 1.8h-1.1l-2.3-0.2h-0.1l-2.3-1h-1l-2.4-0.2h-1l-2.4-0.3h-1.8l-2.4 1.1h-1.3l-2.4-0.4h-1.6l-2.4 0.5h-1.4l-2.3-1.3h-0.1l-2.3 1.1h-2.2l-2.4-0.3h-2.4l-2.4 1.2h-2.1l-2.4-1.3h-0.9l-2.4-0.6h-1.1l-2.4 0.7h-0.3l-2.4-0.8h-0.1l-2.4 0.3h-1l-2.4 1.4h-2.5l-2.4-0.9h-0.1l-2.4 0.6h-1.4l-2.4-1.4h-1.1l-2.4 1.3h-1.2l-2.4-1.2h-0.5h-2.4h-0.6l-2.4 0.4h-0.4l-2.4-0.3h-2.2l-2.4 0.1h-0.7l-2.4 1.5h-1.3l-2.4 0.4h-0.3l-2.4-2.1h-2.5l-2.4 1.4h-1.1l-2.3-1.3h-0.1l-2.2 1.7h-0.1l-2.3-1.6h-2.3l-2.4 0.4h-0.6l-2.4 0.2h-1.9l-2.4-0.5h-2.2h-2.4h-1.3l-2.4 1.5h-1.3l-2.4 0.2h-1.2l-2.4-0.4h-0.6l-2.4 0.2h-2.2l-2.4-1.5h-0.4l-2.4-0.1h-2.2l-2.4 1.2h-1.3l-2.4-0.8h-0.7h-2.4h-2l-2.3-0.1h-0.1l-2.4 0.2h-1.2l-2.4-0.7h-2l-2.4 1.6h-1.7l-2.4-0.3h-1.6l-2.4-0.4h-0.5l-2.3 0.8h-0.1l-2.3-0.9h-2.2l-2.4-0.7h-1.2l-2.4 1.5h-0.1l-2.3 0.2h-0.7l-2.4-1.1h-0.6l-2.2-0.4h-0.1l-2.1-0.3h-1.1l-2.4 0.4h-1.7l-2.3 1h-0.1l-2.3 0.3h-1.1l-2.4-0.5h-1.9l-2.4 0.8h-1.3l-2.4-2.1h-1.2l-2.4 0.7h-0.7l-2.3-0.8h-0.1l-2.3 0.7h-2.6l-2.4-0.4h-1.4l-2.4 0.4h-1.4l-2.4-0.4h-2.5l-1.9-0.3h-0.1h-1.4h-0.1l-1.4-1.7h-0.1l-1.4 1.4h-0.1l-1.4-0.4h-0.1l-1.4 0.6h-0.1h-1.4h-0.1l-1.4-0.9h-0.1l-1.4 0.3h-0.1l-1.4-1.1h-0.1l-1.4 0.9h-0.1l-1.4-1.7h-0.1l-1.4 1.1h-0.1l-1.4 0.9h-0.1l-1.4-1.8h-0.1l-1.4 0.9h-0.1l-1.4-0.4h-0.1l-1.4 1.2h-0.1l-1.4-0.2h-0.1l-1.4 2.7h-0.1l-1.4 0.2h-0.1l-1.4 0.9h-0.1l-1.4 1.3h-0.1l-1.4 3.6h-0.1l-1.4 1h-0.1l-1.4 3.2h-0.1l-1.4 1.4h-0.1l-1.4-13.2h-0.1l-1.4-19.5h-0.1l-1.9-2.7h-0.8l-2.4-0.2h-2.4l-2.4 0.9h-1.9l-2.4 0.3h-0.2l-2.4-0.8h-1.4l-2.4 0.4h-1.2h-2.4h-0.2l-2.3-1.3h-0.1l-2.2-0.1h-2.1l-2.4 1.5h-2l-2.4-0.2h-1.5l-2.4-0.4h-0.1l-2.4 1.3h-0.7l-2.4-0.3h-0.5l-2.4-1.7h-1.1l-2.4 0.5h-1.5l-2.2-0.7h-0.1l-2.2 1.2h-1.7l-2.4 1h-1.6l-2.4-1.8h-2l-2.4 1.7h-2.4l-2.4-2.1h-2h-2.4h-1.5l-2.4 0.8h-1.5l-2.4-0.8h-0.1l-2.4 1.2h-0.4l-2.4-0.3h-0.5l-2.4 0.7h-0.2l-2.4-1.1h-1.5l-2.4-0.1h-1.9l-2.4 0.3h-1.1l-2.3-0.5h-0.1h-2.2h-0.3l-2.4 1.2h-2l-2.4 0.8h-2.5l-2.4-1.1h-2.6l-2.4 0.9h-0.9l-2.4 0.2h-0.7l-2.4-1.6h-0.8l-2.4 0.4h-0.6l-2.4-0.7h-0.3l-2.4 0.6h-0.1l-2.4 0.8h-1.8l-2.4 0.5h-1.3l-2.4-0.9h-0.7l-2.4-1.2h-0.8l-2.4 0.5h-0.5l-2.4 0.1h-1.9l-2.4-0.7h-1l-2.4 0.2h-1.4l-2.4 0.9h-0.7l-2.2 0.7h-0.1l-2.2-0.5h-0.1l-2.3 0.7h-0.1l-2.4-0.6h-0.9l-2.3 0.7h-0.1l-2.3-1.9h-0.1l-2.4 1.7h-1.6l-2.4-1h-1l-2.3 0.7h-0.1l-2.4-0.7h-0.8l-2.4-0.7h-1.5l-2.4 0.2h-0.9l-2.4 1.5h-1.6h-2.4h-0.2l-2.2 0.2h-0.1l-2.1-0.7h-0.4l-2.4-0.6h-0.4l-2.4-0.4h-0.6l-2.4-0.1h-0.4l-2.4-0.3h-2.3l-2.4 1.9h-1l-2.4-1.6h-1.5l-2.4 0.5h-1.8l-2.4 0.7h-1.4l-2.4-1h-1.5l-2.4 1.5h-0.4l-2.4-1.8h-1.9l-2.4 0.6h-1.3l-2.4 1h-0.8l-2.4 0.1h-0.3l-2.3-1.7h-0.1l-2.2 1.7h-0.1l-2.2-1h-2.4l-2.4 0.4h-0.8l-2.4-1.3h-0.3h-2.4h-2.3h-2.4h-0.9l-2.4 1.7h-1.8l-2.3-0.2h-0.1l-2.4-1.1h-0.1l-2.4 0.8h-1.3l-2.4-0.4h-0.1l-2.4 1.3h-0.6l-2.4-1.7h-2.1l-2.4 1.1h-0.5l-2.3-1.1h-0.1l-2.2 0.1h-0.1l-2.2 1.3h-0.4h-2.4h-2l-2.4-1.5h-2l-2.4 0.2h-0.3l-2.4-0.4h-1l-2.2 0.7h-0.1l-2.2-0.8h-1.7l-2.4 1.5h-0.7l-2.4-1.5h-1.8l-2.4 1.9h-1.4l-2.2-1.1h-0.1l-2.2-0.1h-0.4l-2.4 0.1h-0.4l-2.4-0.2h-0.2l-2.4-0.5h-0.9l-2.4 0.3h-2l-2.4-0.4h-0.3l-2.4 1.9h-0.1l-2.3-0.7h-0.1h-2.3h-0.7l-2.4-0.1h-0.3l-2.4-1.1h-0.1l-2.4 1h-1.7l-2.3-1h-0.1l-2.3 1.4h-1.7l-2.4 0.4h-1l-2.4-1.4h-1.9l-2.4 0.8h-0.3l-2.4 0.7h-2.4h-2.4h-0.9l-2.4-1.4h-1.1l-2.4 0.4h-1.3l-2.4-0.6h-0.1h-2.3h-1h-2.4h-1.3l-2.4 0.7h-2.5l-2.2-0.7h-0.1l-2.3 1.2h-1.8l-2.4-0.9h-0.3l-2.4 0.9h-0.2l-2.4 0.7h-2l-2.3-1.5h-0.1l-2.4 1.4h-1.7l-2.4-0.3h-1.9l-2.4-1.4h-0.9l-2.4 1.5h-0.3l-2.4-1.5h-0.8l-2.3 0.2h-0.1l-2.3-0.5h-1.8l-2.4 0.3h-0.6l-2.4 1.3h-1.1l-2.4-0.9h-1.8l-2.4-0.6h-2.4l-2.2 0.4h-0.1l-2.1-0.2h-0.1l-2.2 1.3h-2.4l-2.2-0.6h-0.1l-2.2-0.9h-1l-2.3-0.2h-0.1l-2 0.4h-0.1l-2.3 1.3h-2.5l-2.4-0.4h-1.5l-2.4-1.3h-0.8l-2.4 1.2h-0.4l-2.4-0.2h-1.8l-2.4 0.9h-0.2l-2.4-1.5h-0.8z" fill="#ff0000" stroke="#ff0000" stroke-width="0.8" stroke-linejoin="round"/>
<polyline points="735.5,353.5 736.5,357.9 737.5,372.5 738.5,387.1 739.5,388.8 740.5,387.2 741.5,385.7 742.5,384.2 743.5,382.6 744.5,381.1 745.5,379.7 746.5,378.9 747.5,378.0 748.5,377.1 749.5,376.2 750.5,375.4 751.5,374.5 752.5,373.6 753.5,373.0 754.5,373.1 755.5,373.1" fill="none" stroke="#ff0000" stroke-width="7" stroke-linejoin="round" stroke-linecap="round"/>
<path d="M187.4 349.7h2.1l2.4-0.9h0.7l2.4 1.2h1.9l2.4-0.2h2.4l2.4-1.1h1.6l2.4 0.8h2.1l2.4-0.3h2.5l2.4-0.5h0.3l2.4 1h1.3l2.4 0.2h0.9l2.4-0.5h1.3l2.4 0.2h0.1l2.4-0.8h0.4l2.4 0.5h0.2h2.4h1.5l2.4 0.5h0.7h2.2h0.1h2.2h2l2.4-0.1h1.2l2.2-0.1h0.1h2.3h2.6l2.4-0.2h0.6l2.4 0.4h0.6l2.4-1h0.8l2.4 1.1h0.1h2.3h1.9l2.3-0.1h0.1l2.4-1.1h2.2l2.4 1h2.4l2.4 0.3h2.3l2.4-0.6h1.1l2.4-0.8h0.9l2.4 0.9h1.9l2.4-0.5h1.8l2.3 0.7h0.1l2.3-1h0.6l2.4 1h2.2l2.4 0.3h2.5l2.4-0.1h0.6l2.4-1.1h1.2l2.4 1.2h2l2.4-1h0.3l2.4-0.1h0.4l2.4 0.3h1.5l2.4 0.2h1.8l2.4-0.4h0.1l2.4 0.1h1.3l2.2 0.8h0.1l2.2-0.9h1.3l2.4 0.1h0.7l2.1 0.9h0.1l2.2-1.4h1.6l2.4 1.1h0.6l2.4-0.4h0.6l2.4 0.4h0.8l2.4 0.3h1.9l2.4-0.9h2.2l2.4-0.2h2.5l2.4 0.8h1.9l2.4-0.4h2l2.4-0.3h0.6l2.4-0.4h1.1l2.4 0.2h1.8l2.4 0.5h2.3h2.4h2.3l2.4-0.7h1.1l2.4 0.6h1.7l2.4 0.1h2.5l2.2-0.1h0.1l2.2-0.1h1.4h2.4h2.6l2.4-0.1h2.5l2.4 0.6h2.6l2.4-0.2h0.3l2.4-0.5h2.3l2.4 0.7h1.6l2.4 0.4h0.4l2.4-0.5h0.9l2.4-0.1h2.5l2.4 0.1h1.4l2.1 0.3h0.1l2.2-0.7h1.6l2.4 0.4h2.4l2.4-0.5h1.7l2.4 0.9h1.9l2.4-0.8h2.2l2.4 0.8h1.6l2.4-0.7h2.5l2.4 0.1h0.1l2.4 0.7h0.1l2.4-0.9h1.7l2.4 0.8h1.2h2.4h0.6l2.4 0.1h0.2l2.4-1h1.6l2.4 0.2h1.2l2.4-0.4h0.1l2.3 1.1h1.4l2.4-0.4h1.2l2.4-0.4h2.2l2.3 0.1h0.1l2.1 0.3h0.1l2.3 0.4h2.1l2.4-0.3h1.5l2.3-0.8h0.1l2.4 1h1.7l2.4-0.1h0.2l2.4-0.9h1.8l2.4 1.2h1.1l2.2-0.2h0.1l2.2 0.1h1.9l2.4 0.1h1.3l2.4-0.8h0.6l2.4 0.8h1.6l2.4-0.2h0.2l2.4-0.1h0.3l2.4 0.2h2l2.4-0.4h0.3l2.4-0.5h1.9l2.3 0.4h0.1l2.4 0.2h1.5l2.4 0.3h2.2l2.4-0.8h1.2l2.4 0.9h2.6l2.4-0.3h1.8l2.4-0.3h1.8l2.4 0.5h1.9l2.4-0.3h2.4l2.4 0.1h2h2.3h0.1l2.4-0.9h1.6l2.4 0.9h1.1l2.4-0.6h2.4l2.4 0.1h1l2.4 0.3h0.3l2.4 0.3h0.8h2.3h0.1l2.3-0.8h2l2.4-0.2h0.9l2.4 0.3h0.1l2.4 0.9h1.9l2.4-1h2.2l2.4 0.5h1h2.4h1.3l2.2 0.1h0.1l2.3-0.2h2.2l2.4-0.6h0.3l2.4 1.1h0.9h2.4h1.4l2.4-0.7h1.4l2.4 0.5h0.2h1.9h0.1l1.4 19.1h0.1l1.4 25.5h0.1l1.4 3.4h0.1l1.4 3.1h0.1l1.4-1.5h0.1l1.4-0.9h0.1l1.4-0.9h0.1l1.4-1.7h0.1l1.4-0.9h0.1l1.4-1.3h0.1l1.4-1.1h0.1l1.4-0.5h0.1l1.4 0.7h0.1l1.4-0.7h0.1l1.4 0.7h0.1l1.4-0.1h0.1l1.4-0.9h0.1l1.4 0.9h0.1l1.4-0.5h0.1l1.4 0.6h0.1l1.4-1.2h0.1l1.4 0.1h0.1l1.4 1.1h0.1l1.4-0.9h0.1h1.4h0.1l1.4 1.1h0.1l1.4-0.2h0.1l1.4 0.3h0.1l1.9-0.4h0.3l2.4 0.1h1.1l2.4-0.1h0.2l2.4 0.3h2.4l2.4 0.2h1.7l2.4-0.4h1.9l2.4 0.7h2.3l2.4-0.3h1.6l2.4 0.1h0.7l2.4 0.2h2.3l2.4 0.2h1.5l2.4-1h2.5l2.4 0.4h1.7l2.4 0.2h0.6l2.4-0.1h1.6l2.4 0.2h2.3h2.4h2.2l2.3 0.2h0.1l2.4-1.1h0.4l2.4 0.3h2l2.4 0.7h0.5l2.4-0.6h0.7l2.4 0.2h0.1l2.4-0.3h0.7l2.4 0.8h1.5l2.4-0.9h0.6l2.4 0.5h2.2l2.4 0.4h2.1l2.4-0.6h0.8l2.2 0.1h0.1l2.2 0.5h2.2l2.1-0.6h0.1l2.2 0.5h1.6l2.4-0.1h0.6l2.2-0.6h0.1l2.3-0.1h0.3l2.4 1h1.5l2.4-0.1h1.9l2.4 0.1h1.5l2.4-0.4h1.4l2.4-0.5h1.1l2.4 0.9h1.9l2.4-1.3h0.1l2.4 0.3h0.9l2.4 0.1h1.2l2.3 0.4h0.1l2.2 0.1h1.9l2.4-0.6h1.7l2.4 0.9h2.1l2.4-0.5h2.3l2.4-0.4h0.2l2.4 0.7h0.3l2.4-0.2h0.9l2.4-0.6h0.1l2.4 0.9h2l2.4 0.2h2.6l2.3-0.9h0.1l2.3 0.8h0.3l2.2-0.2h0.1l2.1-0.4h0.1l2 0.3h0.1l2.2-0.2h2.2l2.4 0.6h0.6h2.4h2.5l2.4-0.3h1.1l2.4-0.3h1.9l2.4-0.7h2.4l2.4 0.9h1.8l2.4-0.8h1.2l2.4 0.3h1.8l2.4 0.6h2.4l2.4-0.6h2.1h2.4h0.7l2.4 1h0.1l2.3-1.4h2.2l2.4 1h0.9l2.4-0.9h0.3l2.4 0.5h0.3l2.4 0.3h2.1l2.4 0.1h2.5l2.4 0.2h1.9l2.4-0.7h1l2.4-0.2h0.4l2.4 0.8h2.4l2.4 0.3h1.1l2.4-0.7h0.8l2.4-0.7h0.1l2.4 0.8h0.1l2.2 0.3h0.1l2.2-0.1h2l2.4-0.7h2.1l2.4 1h0.9l2.4-1.2h2.1l2.4 1.2h0.3l2.4-0.6h2.1l2.4 0.6h0.4l2.4-1.2h1.1l2.4 0.4h0.1l2.4 0.2h0.4h2.4h0.9l2.3-0.5h0.1l2.4 0.7h2.6l2.4-0.5h0.8l2.4 0.9h0.1l2.4-0.5h1.7l2.4 0.6h1.5l2.4-0.8h2.2h2.3h0.1l2.3 0.6h2.6l2.4-1.1h2.4l2.4 0.8h2.1l2.4 0.2h1l2.4 0.2h1.9l2.4-0.5h1.2l2.4-0.6h2.4l2.4 0.5h1.1l2.4 0.1h1.7l2.4 0.5h0.4l2.4-0.3h1.3l2.4 0.1h0.4l2.3-0.3h0.1l2 0.5h0.1h2.3h1.9l2.4-0.4h1.7l2.4-0.1h0.3l2.4-0.6h1.2l2.4 0.7h2.5l2.4-0.2h0.7l2.3 0.1h0.1l2.2 0.4h0.1l2.3-0.8h1.9l2.4-0.3h1l2.4 1h0.1l2.4-0.1h1.4l2.4 0.4h1.5l2.4-0.1h1.8h2.4h0.4l2.4 0.1h1.7l2.4-0.3h2.6h2.4h0.3l2.4 0.1h1.1l2.4-0.7h1.8l2.4-0.3h1.5l2.4 1.1h1.8l2.4-0.4h0.4l2.4 0.1h0.5l2.4-0.6h1l2.4-0.1h1.3l2.4 1.1h1.4l2.4-0.1h2.6l2.4 0.1h0.8l2.4-0.8h1.1l2.4-0.4h0.5l2.4-0.1h0.1l2.3 1.2h2l2.3 0.1h0.1l2.3-0.2h1.3l2.4 0.2h2.6l2.4-0.3h2l2.2-0.6h0.1l2.1 0.8h1.4h2.4h0.7l2.3-0.5h0.1l2.4 0.5h1.2l2.4-1.3h0.5l2.4 0.9h0.6l2.4 0.5h0.1l2.4-0.2h1.4l2.4 0.1h1.9l2.4-0.6h0.7l2.4 0.4h1.6l2.4-0.3h1.8l2.4-0.3h2.1l2.4 0.7h2l2.3 0.2h0.1l2.3-0.4h0.6l2.4 0.3h0.4l2.4-0.1h0.9l2.2-0.8h0.1l2.1 0.9h1.2l2.4-0.5h0.6l2.3 0.1h0.1l2.3 0.4h1.8l2.4-1h1.1l2.4 0.7h1.7l2.2-0.8h0.1l2.2 0.3h2.6l2.4 0.3h0.2l2.4 0.1h2.1l2.4-0.1h2.5l2.1 0.4h0.1l2.2-1.1h2.6l2.4 1.2h2.3l2.4-0.5h0.4l2.2-0.5h0.1l2.2 0.3h1.1l2.4 0.5h1.4l2.4 0.2h2.3l2.4-0.2h1.2l2.4-0.5h1.7l2.4 0.6h1l2.4 0.3h0.2h2.4h0.9l2.4-1.4h0.7l2.4 1h1.5l2.4-1h2.5l2.4 1.1h1.9l2.4-0.7h2.3l1.9 0.5h0.1l-0.5 8.1h-0.2l-2.4-0.8h-1.9l-2.2 0.1h-0.1l-2.2 1.2h-0.8l-2.4-0.9h-0.4l-2.4-0.1h-2.4l-2.4 0.2h-0.7l-2.4 0.6h-0.8l-2.4-1.1h-1l-2.4 0.1h-0.5l-2.4 0.5h-2.1l-2.4-0.4h-0.1l-2.1 0.5h-0.1l-2.3 0.3h-1.9l-2.4-0.2h-2.1l-2.2 0.5h-0.1l-2.2-0.4h-2.2l-2.4-0.2h-1.7l-2.4 0.1h-1l-2.4-0.6h-0.1l-2.3 1.1h-1.9l-2.4-1.3h-1.2l-2.4 1.4h-0.8l-2.2-0.7h-0.1l-2.2-0.4h-2h-2.4h-1.2l-2.4 0.9h-2.1l-2.4-1.2h-1l-2.4 0.1h-1.9l-2.4 1.1h-0.2l-2.4-0.4h-1.2l-2.4-0.1h-1.1l-2.4-0.7h-0.7h-2.4h-2.6h-2.4h-0.2h-2.4h-1.9l-2.4 0.6h-0.3l-2.4-0.6h-0.7l-2.4 0.5h-0.5l-2.4 0.2h-1.9l-2.4-0.5h-2.1l-2.4-0.2h-0.7l-2.4 1.2h-1.8l-2.4-1.2h-0.1l-2.4 0.3h-1.3l-2.4 0.1h-2.3l-2.3 0.3h-0.1l-2-0.3h-0.1l-2.2-0.4h-2.2l-2.4 0.9h-2.2l-2.4-0.1h-0.3l-2.4-0.9h-2.1l-2.4 1.3h-0.6l-2.4-0.6h-2.1l-2.4-0.4h-0.1l-2.4-0.3h-2l-2.4 0.2h-1.1l-2.4 0.3h-2.5l-2.4 0.1h-2.3l-2.4-0.1h-1.6l-2.4-0.4h-0.8l-2.4 0.3h-1.2l-2.4 0.8h-1.3l-2.4-0.8h-0.7l-2.4-0.1h-1.7l-2.4 0.7h-0.3h-2.4h-0.2l-2.4 0.1h-0.7l-2.4-1h-2.3h-2.4h-0.3l-2.4 0.6h-2.2l-2.4 0.6h-2.5l-2.4-0.8h-0.8l-2.4 0.1h-1.8l-2.4 0.1h-2.3l-2.4 0.1h-1.5l-2.2-0.7h-0.1l-2.2 0.6h-1.1l-2.4-0.1h-2l-2.4 0.8h-0.4l-2.4-1.1h-1.1l-2.4 0.7h-0.5l-2.4-0.2h-1.2l-2.4-0.2h-1.9l-2.2-0.4h-0.1l-2.2-0.1h-2.2h-2.2h-0.1h-2.2h-0.1l-2.1 0.5h-0.1l-2.2 0.4h-1.7l-2.4-0.3h-1.3l-2.4 0.3h-0.9l-2.4-0.8h-2.3l-2.3 0.3h-0.1l-2.3-0.4h-0.9l-2.3 0.1h-0.1l-2.2 0.3h-2.2l-2.3-0.3h-0.1h-2.3h-1.4l-2.4 0.6h-1.8l-2.4 0.4h-0.3l-2.4-1.2h-0.3l-2.4 0.1h-1.8h-2.4h-1.8l-2.4 1.1h-2.3l-2.4-1.2h-0.6l-2.4 1.2h-0.9l-2.4-1.2h-1.5l-2.4 1.3h-2.3l-2.4-0.5h-0.5l-2.4-0.8h-2.5l-2.2 0.2h-0.1l-2.2-0.2h-1.4l-2.4 0.5h-2.3l-2.4 0.3h-0.1l-2.4-0.2h-2l-2.4-0.3h-1.5l-2.4 0.9h-1l-2.4-0.4h-1l-2.4-0.4h-0.9l-2.4 0.4h-2l-2.4-0.8h-1.3l-2.4 0.7h-0.2l-2.2-0.5h-0.1l-2.2 0.2h-2.3l-2.4 0.4h-2.2l-2.4-0.5h-0.9l-2.4 1h-2.5l-2.4-0.9h-0.8l-2.4-0.3h-0.6h-2.2h-0.1l-2.2 0.1h-2.5l-2.4 0.7h-1.3l-2.4-0.6h-0.1l-2.2 0.5h-0.1l-2.2-0.1h-2.5l-2.4-0.7h-0.2l-2.4 0.5h-0.3l-2.3-0.3h-0.1h-2.3h-2l-2.4 0.6h-0.5l-2.4-0.6h-2.6l-2.4 0.7h-1.3l-2.4-0.9h-0.3l-2.4 0.8h-1.4l-2.2-0.7h-0.1l-2.1 0.9h-0.1l-2.4-0.7h-2.5l-2.4 0.4h-2l-2.4-0.5h-1.3l-2.4 0.8h-1.8l-2.4-0.2h-0.7l-2.4-0.5h-0.7l-2.4 0.5h-2l-2.4 0.3h-0.7l-2.4-0.7h-1.2l-2.4-0.1h-1.7l-2.4 0.9h-2.6l-2.4-0.9h-0.8l-2.4-0.2h-0.3l-2.4-0.1h-1.1l-2.4 0.4h-1.1l-2.4 0.1h-1.5l-2.4-0.4h-2.3l-2.2 1h-0.1l-2.3-1h-1l-2.4 0.8h-2.4l-2.2 0.3h-0.1l-2.2-1.1h-2l-2.4 0.4h-2.4h-2.4h-0.6l-2.4 0.6h-0.2h-2.4h-1.4h-2.4h-2.1l-2.4-1.1h-1.4l-2.4 0.1h-0.8l-2.4 1.2h-2.5l-2.3-0.5h-0.1l-2.3-0.7h-1l-2.4-0.2h-1.8l-2.4 1.1h-2.2l-2.4 0.2h-2.5l-2.4-1.2h-1.7l-2.4 0.3h-1.9l-2.4-0.4h-1.7l-2.4 0.1h-1.9l-2.4 0.4h-1l-2.4 0.2h-1.3l-2.4-0.4h-1.4l-2.4-0.2h-2.3h-2.2h-0.1l-2.2 1.2h-0.4l-2.4-0.3h-0.3l-2.4 0.1h-0.3l-2.4-0.4h-1.7l-2.4 0.5h-0.7l-2.3-1h-0.1l-2.2 0.6h-1.2l-2.4-0.5h-2.1l-2.3 0.2h-0.1l-2.3 0.1h-0.3l-2.4 0.7h-2.3l-2.4-0.4h-0.5l-2.4-0.8h-2.2l-2.2-0.3h-0.1l-2.2 1.3h-1.8l-2.4-1.4h-2l-2.4 0.5h-2l-2.2-0.4h-0.1l-1.6-0.1h-0.1l-1.4 0.3h-0.1l-1.4 0.5h-0.1l-1.4 0.2h-0.1l-1.4-0.8h-0.1l-1.4 0.6h-0.1l-1.4-1h-0.1l-1.4 0.3h-0.1l-1.4-0.1h-0.1l-1.4 0.2h-0.1l-1.4-0.3h-0.1l-1.4-0.1h-0.1l-1.4 1h-0.1l-1.4-0.1h-0.1l-1.4-0.8h-0.1l-1.4 0.2h-0.1l-1.4 0.3h-0.1l-1.4-1h-0.1l-1.4 1.2h-0.1l-1.4 2.4h-0.1l-1.4 0.9h-0.1l-1.4 0.9h-0.1l-1.4 0.9h-0.1l-1.4 2.1h-0.1l-1.4 0.2h-0.1l-1.4-1.2h-0.1l-1.4-3h-0.1l-1.4-19.5h-0.1l-1.4-25.5h-0.1l-1.8-1.9h-0.1l-2.4-0.5h-1.9h-2.4h-1.9l-2.4 0.1h-1.8l-2.4 0.4h-1.7l-2.4-0.1h-0.9l-2.4-0.6h-2.3l-2.4 0.6h-1l-2.2-0.8h-0.1l-2.3 0.2h-1.9l-2.4 0.1h-2.2l-2.4-0.3h-0.2l-2.4 1.1h-2.3l-2.4-1h-0.3l-2.4 0.7h-0.6l-2.4-0.4h-2.3l-2.4-0.3h-1.2h-2.4h-2.1l-2.4 0.2h-0.1l-2.4 0.6h-2.5l-2.4-0.8h-0.1h-2.4h-1l-2.3 0.1h-0.1l-2.3-0.2h-2.2l-2.4 1.3h-2l-2.4-1h-2.2l-2.4 0.9h-0.1l-2.4-0.8h-0.6l-2.2 0.9h-0.1l-2.1-0.7h-1.7l-2.4 0.6h-0.7l-2.4-0.9h-1.7l-2.4 0.9h-2.2l-2.4-0.9h-1.3l-2.4-0.2h-1l-2.4 0.3h-2.5h-2.4h-2.6l-2.4 0.7h-0.1l-2.4-1.1h-0.7l-2.4 1h-1.8l-2.4-0.6h-2.4l-2.3 0.9h-0.1l-2.3-1.1h-1.7l-2.4 0.1h-1l-2.4 0.5h-1.4l-2.4-0.3h-0.7l-2.4 0.6h-0.2l-2.4-1.1h-0.1l-2.4 0.3h-1.6l-2.2-0.3h-0.1l-2.2 1h-1.4l-2.4-0.6h-1l-2.4-0.5h-1.1h-2.4h-0.1l-2.4 0.3h-0.1l-2.4 0.4h-1.2l-2.4-0.7h-2l-2.4 1.3h-0.3l-2.4-1h-2.1l-2.4 0.1h-0.9l-2.4-0.1h-0.5h-2.4h-0.9l-2.2 1h-0.1h-2.3h-1.4l-2.4-0.9h-0.4l-2.4-0.3h-1.3l-2.2-0.1h-0.1l-2.2 0.6h-2.5l-2.4-0.3h-1.6l-2.4 1.1h-0.9l-2.4-1.2h-0.2h-2.4h-0.1l-2.4 0.9h-2l-2.4-0.1h-0.7l-2.3-1h-0.1l-2.4 1.2h-0.1l-2.4-0.2h-1.1l-2.4-0.9h-1.2l-2.4 0.7h-0.1l-2.3 0.3h-2l-2.4-0.2h-0.9l-2.3-0.8h-0.1l-2.3 1.1h-1.9l-2.4 0.1h-2.4l-2.4-0.2h-0.8l-2.4-0.2h-0.2l-2.4 0.4h-2.1l-2.4-0.5h-1.8l-2.4 0.1h-0.5l-2.4 0.5h-2.2l-2.2-0.4h-0.1l-2.1-1h-1l-2.4 0.8h-1.1l-2.4 0.2h-1.5l-2.2-1h-0.1l-2.3 0.3h-0.7l-2.4 0.4h-1.6l-2.3-0.6h-0.1l-2.2-0.1h-1.3l-2.4 1.1h-1.1l-2.4-0.7h-2.3l-2.4-0.3h-0.7l-2.4-0.1h-1.2l-2.4 1.3h-0.1l-2.4-0.6h-2.2l-2.3-0.3h-0.1h-2.3h-0.1l-2.4 0.9h-2.4l-2.4-1.3h-1.5l-2.4 0.3h-2.1h-2.4h-0.9l-2.4 0.2h-1.6l-2.4-0.2h-0.5l-2.4 0.5h-0.1l-2.3-0.1h-0.2l-2.4 0.2h-1.5l-2.4-0.8h-0.4l-2.4 0.3h-1.1h-2.4h-0.4l-2.3 0.4h-0.1h-2.4h-1.6l-2.4-0.4h-1.6l-2.4-0.1h-0.2l-2.4 0.5h-0.3l-2.2 0.1h-0.1l-2.1 0.5h-1.1l-2.4-0.6h-1.3l-2.4 0.5h-1.7l-2.4-0.2h-2h-2.4h-1.3h-2.4h-2.4l-2.4-1.1h-1.9l-2.4 0.2h-2.3l-2.4-0.2h-2.2l-2.4 0.3h-1l-2.3-0.3h-0.1l-2.2 1.4h-0.6l-2.4-0.3h-2.3l-2.4-0.6h-0.3l-2.3-0.4h-0.1l-2 0.8h-0.1l-2.2 0.4h-0.8l-2.3-1.1h-0.1l-2.2 0.9h-2.6l-2.4-0.1h-1.9l-2.3 0.2h-0.1l-2.2-1.1h-1.3l-2.4 0.1h-1.9h-2.4h-0.7l-2.4-0.1h-2.5l-2.4 0.4h-2.3l-2.4-0.2h-2.4l-2.4-0.3h-0.1l-2.2 0.3h-0.1l-2.2 0.4h-0.1l-2.4-0.6h-0.4l-2.4 0.9h-0.9l-2.4-0.5h-1.2l-2.4-0.2h-0.4z" fill="#000000" stroke="#000000" stroke-width="0.8" stroke-linejoin="round"/>
<polyline points="735.5,353.0 736.5,359.7 737.5,382.2 738.5,398.6 739.5,400.8 740.5,403.0 741.5,404.3 742.5,403.7 743.5,403.1 744.5,402.4 745.5,401.7 746.5,400.9 747.5,400.0 748.5,399.2 749.5,398.3 750.5,397.5 751.5,396.6 752.5,396.0 753.5,396.0" fill="none" stroke="#000000" stroke-width="5.5" stroke-linejoin="round" stroke-linecap="round"/>
<path d="M187.2 679.1h0.1l2.3-0.4h0.4l2.4-0.6h1.5l2.3 1.1h0.1l2.3-1.4h1.8l2.4 1.7h0.6l2.4-1.4h0.1l2.3 1.2h0.1l2.3-0.4h0.2l2.4 0.5h1.5l2.4-1.7h1l2.4 1.1h1.1l2.4-0.2h1.8l2.4-0.7h0.9l2.4 1.4h0.1l2.4-0.1h2.5l2.3 0.1h0.1h2.3h2.4l2.4-1.1h1.2l2.2 1h0.1h2.2h1.8l2.4-0.6h0.6l2.4 0.5h2l2.4 0.4h0.1l2.4-1.1h0.5l2.4 0.3h2.3l2.4-0.2h0.1l2.2 0.9h0.1l2.3-1.7h0.1l2.3 1.8h1.5l2.4-0.5h2.4l2.4-0.7h0.1l2.4 0.2h1.1l2.4 0.8h1l2.1-0.9h0.1l2.2 0.5h1l2.4-0.2h1.5l2.4-0.5h2.3l2.4 1h2.4l2.4-1.4h1.5l2.4 1.2h1.9l2.4-0.4h1.8l2.4-0.4h0.5l2.3 1.2h0.1h2.3h0.2l2.4-0.2h2.2l2.4 0.3h2.5l2.3-0.6h0.1l2.2-0.5h1.5l2.3 0.3h0.1l2.3 0.5h0.2h2.4h0.3l2.4-1.2h2.2l2.4 0.3h0.1l2.4 1.2h0.3l2.2-1.3h0.1l2.3 0.5h1.6l2.4-0.7h0.1l2.3 0.6h1.1l2.4 0.5h2.1l2.4 0.3h0.5l2.4-1.4h0.6l2.4 1.2h1.5l2.4-0.8h0.4l2.4 0.5h2.2l2.1-1.3h0.1l2.2 0.9h2.2l2.2 0.3h0.1l2.2 0.6h0.5l2.4-0.7h0.8l2.4 0.5h1.2l2.4-1.2h0.3l2.3 0.7h0.1l2.3 0.6h1.3l2.2-0.6h0.1l2.2 0.7h1.2l2.2-0.7h0.1l1.9 0.2h0.1l2.2-1h1.9l2.4 0.6h1.3l2.4 0.2h0.1l2.3-0.7h0.4l2.4 0.5h0.7l2.4 0.4h1.9l2.4-0.2h2.4l2.4-0.8h0.4l2.4 1.6h1.6l2.4-1.4h0.4l2.4 0.7h1.6l2.4 0.3h2.4l2.4-0.1h1.7l2.4 0.3h0.4l2.3 0.1h0.1l2.3-0.3h0.1l2.4 0.3h2.5l2.4-0.1h0.9l2.4 0.2h0.9l2.4-0.3h0.4l2.4 0.3h1.2l2.4-0.1h1.1l2.4-0.5h2.2l2.4-0.9h1.9h2.4h0.5h2.4h1.3l2.4 1.3h2l2.4-0.4h1.5l2.2 0.3h0.1l2.2-0.6h0.3l2.4 0.7h0.6h2.4h2l2.4-1h1.8h2.4h0.2h2.4h1.6l2.4-0.6h2.5l2.4 1.4h0.9h2.4h0.1l2.3-1.2h1.5l2.4 0.8h0.1l2.4-0.9h0.1l2.3 1.6h2.4l2.3-1.5h0.1l2.2 1.1h0.9l2.4-1.2h2.6l2.4 1.4h0.3l2.4-1.5h2.4l2.4 1.2h0.9l2.4 0.5h2h2.4h0.5h2.4h0.1l2.4-1.2h0.5l2.4 1.1h2.4l2.4-0.7h0.2l2.4-0.5h1.6l2.4-0.3h1.2l2.4 1h0.1l2.3-1.2h0.1l2.4 0.9h2.6l2.4 0.1h2l2.4-0.5h2.5l2.4 0.7h1.1l2.4 0.6h1.7h2.4h0.9l2.4-1.7h0.8l2.4 0.5h1.1l2.3 1.3h0.1l2.3-1.5h0.2l2.4 1.4h0.3l2.4-0.8h1.8l2.4 0.1h0.1l2.4 0.3h0.3l2.4-1.4h1.1l2.4 1.8h0.8l2.4-1.5h1.6l2.4 1.3h2.1l2.4 0.2h2.3l2.3-1.3h0.1l2.4 0.6h1.7l2.4 0.5h1.7l2.4-0.3h2.4l2.4-1.1h1.9l2.4 1.7h1.2l2.4-1.9h1.9l1.9-2.9h0.1l1.4-4.3h0.1l1.4 3.4h0.1l1.4 0.2h0.1l1.4 1.1h0.1l1.4 1.1h0.1l1.4 2.5h0.1l1.4-1.3h0.1l1.4 1.1h0.1l1.4 0.3h0.1l1.4 1.1h0.1l1.4 0.8h0.1l1.4-0.9h0.1l1.4-0.2h0.1l1.4 0.9h0.1l1.4-0.5h0.1l1.4-0.8h0.1l1.4 0.1h0.1l1.4 0.8h0.1l1.4-0.7h0.1l1.4-0.5h0.1h1.4h0.1l1.4 1.5h0.1l1.4-0.4h0.1h1.4h0.1l1.4-0.4h0.1l1.4 0.5h0.1l1.9-1.2h0.1l2.4 1.1h0.9l2.4-0.1h0.1l2.3-0.6h2.1l2.4-0.5h2l2.4 1.5h2.6l2.4-0.2h1.7l2.4 0.1h0.3l2.4 0.1h1.9l2.4-0.2h1.3l2.4-0.2h1.9l2.2-1.4h0.1l2.3 1.2h0.3l2.4 0.4h0.1l2.4 0.2h1l2.1-1h0.1l2.2-0.9h0.7l2.4 1.9h2.5l2.4-0.3h1.4l2.3-1h0.1l2.2 1h0.8l2.4 0.1h1.1l2.4-0.3h1.5l2.4-0.5h2.5l2.4-0.9h2l2.3 0.4h0.1l2.3 0.8h0.8l2.4-0.3h1.4l2.4 0.8h2.1l2.4-1h1.4l2.4 1.1h0.7h2.4h2.3l2.4-0.9h1.5l2.4-0.9h1.5l2.4 1.6h2.5l2.4-1.2h1.7l2.4 0.3h1.1l2.2 0.5h0.1l2.2-0.7h0.9l2.4-0.4h0.4l2.4 0.5h1.7l2.4 0.5h2.4l2.4 0.8h1.1l2.3-1.5h0.1l2.3 0.1h1.4l2.4 1.2h0.9l2.3-1.7h0.1l2.4 1.7h1.8h2.4h0.4l2.4-0.9h0.6l2.4-0.5h0.8l2.3 1.5h0.1l2.2-1.5h2l2.4 1.3h1.5l2.4 0.2h1.4l2.4-0.6h1.2l2.3-0.7h0.1l2.2 1.2h2.4l2.4 0.1h2.2l2.4-1.5h1.8l2.4 0.1h1.1l2.4 0.6h2.4l2.4-0.9h1.4l2.4 0.5h0.5l2.4 0.1h1.7l2.4 0.9h1.6l2.4-0.8h2.3l2.4 0.8h0.6l2.4 0.2h1.8l2.4-0.2h1.1l2.4-1h2.4l2.4 0.2h0.9l2.4 1h1.1l2.4-1h0.8l2.4-0.8h1.2l2.4 1h0.7l2.4-0.9h0.7l2.4 1h2.3l2.4 0.1h0.2l2.4 0.1h2l2.4-0.9h2.4l2.3 0.6h0.1l2.4-1h2.2l2.3 1.7h0.1l2.3-0.7h1.1l2.4-0.9h0.4l2.4 0.5h0.2l2.4 1.2h1.9l2.2-1h0.1l2.2 0.8h0.1l2.3-0.5h2.2l2.4-1.1h0.7l2.4 1.6h0.9l2.4-0.5h0.9l2.4-0.8h2.1l2.4 0.9h0.2l2.4 0.4h2.4l2.4-0.4h0.2l2.4 0.2h2.4l2.4 0.2h1.2l2.4-0.2h0.1l2.3-0.9h1l2.4-0.1h0.9l2.4 1.3h2.4l2.4-0.2h1.7l2.4 0.2h0.7l2.4-1.5h1.4l2.4 0.4h0.5l2.4 0.6h2.1l2.4 0.5h0.5l2.4-0.3h2.3l2.4-0.3h1.6l2.4 0.3h2.2l2.4-1.4h2.1l2.4 1.4h2.1l2.4-0.2h0.5l2.4-0.5h2l2.4 0.4h0.4l2.4-0.8h0.3l2.4 1h2.2l2.4-0.3h2.4l2.4 0.8h0.8l2.4-1.6h0.6l2.4-0.2h1.8l2.2 0.4h0.1l2.2-0.5h1.2l2.4 1.1h1.8l2.4-1.1h1.6l2.3 1.7h0.1l2.3-0.2h0.8l2.4-0.6h1.3l2.4 1h1.6l2.4-0.2h2.2l2.3-1.3h0.1l2.3 1.2h0.2h2.4h0.6l2.4 0.1h1.7l2.4-0.7h2.2l2.4-0.9h1.9l2.4 0.8h2.3l2.4 0.7h1.7l2.4-0.5h0.6l2.4 0.1h0.7h2.4h0.9l2.4 0.5h0.8l2.4-0.1h1.8h2.4h0.1l2.4 0.3h1.2l2.4-0.4h1.6l2.4-0.8h0.5l2.4 1h1.9l2.4 0.2h1.5l2.4-0.3h2.6l2.4-0.4h0.9l2.4-0.9h0.5l2.4 1.4h2.6l2.3-0.1h0.1l2.3 0.3h0.7l2.4-1h0.7l2.4 0.6h0.2l2.4-0.3h0.9l2.4 0.5h1.2l2.4-1h1.3l2.4 0.4h2.6l2.4 0.1h2.5l2.4-0.6h2.2l2.4 1.2h0.7h2.4h0.5l2.4-1.3h0.8l2.4 0.5h1.2l2.4-0.6h2l2.4 0.1h1.9l2.4 1h0.7l2.4 0.2h1.2h2.2h0.1l2.3-1.6h1.6l2.4 0.5h1.6l2.3 0.8h0.1l2.2-0.3h1.5l2.4-1.1h0.6l2.4 0.7h0.3l2.4-0.8h1l2.1 0.8h0.1l2.2-0.3h2.1l2.2 1h0.1l2.2-0.2h1.1l2.4 0.6h0.2l2.4-1.8h1.4l2.4 1.5h1.2l2.4-1.5h0.1l2.4 1.8h2.2l2.4-1.2h2.1l2.4 0.4h0.5l2.4 0.3h0.7l2.4-1h1.2l2.4 1.4h0.6l2.4-0.3h2.3l2.4-1.1h0.2h2.4h1l2.4 1.4h2.5l2.4-0.4h1.8h2.4h0.8l2.4-0.8h1.1l2.4 0.8h0.1l2.4 0.4h0.2l2.3-1.7h0.1l2.2 1.1h0.7h2.4h0.2l2.2-0.2h0.1l1.5 0.3h0.1l-0.7 8.4h-0.7l-2.4-1.1h-1.1l-2.4 0.9h-0.5l-2.4-1.3h-1l-2.4 0.6h-1.4l-2.4-0.1h-2.3l-2.4-0.2h-1.2l-2.4-0.1h-1.8l-2.4-0.3h-2.3l-2.4-0.1h-2.5l-2.4 0.9h-0.2l-2.4 0.1h-0.2l-2.4 0.8h-0.5l-2.4-1h-2.2l-2.4 0.3h-1.1l-2.4-0.4h-0.5l-2.2-0.7h-0.1l-2.3 0.1h-0.6l-2.4 0.4h-1.5l-2.4 0.7h-0.3l-2.4-0.9h-2.5l-2.4-0.1h-0.1l-2.4 0.2h-0.9l-2.4 0.2h-2.2l-2.4 0.4h-2.5l-2.4 0.4h-1.5l-2.4 0.5h-1.6l-2.4-1.1h-0.8l-2.4-0.1h-2.6l-2.4 1.2h-2l-2.4-1.3h-1.7l-2.4-0.1h-0.1l-2.4 0.6h-2l-2.4-0.5h-1.5l-2.4 0.6h-0.1l-2.4-0.6h-0.1l-2.4 0.1h-2.2l-2.4 1.1h-2.4l-2.3-0.3h-0.1l-2.2-1.3h-2.6l-2.2 1.8h-0.1l-2-1.6h-0.1l-2.2-0.2h-2.6l-2.4 0.1h-1.9h-2.4h-2.5l-2.4-0.3h-1.1l-2.4 0.3h-1.1l-2.2 0.2h-0.1l-1.9-0.5h-0.1h-2.1h-0.1l-2.2 0.1h-0.2l-2.4-0.1h-2.2l-2.4 0.5h-1.7l-2.4-0.3h-0.5l-2.4 1.5h-2.5l-2.4-0.8h-2.3l-2.4 0.5h-2l-2.4-0.8h-2l-2.4 0.2h-2.1l-2.4 0.7h-0.7l-2.4-0.8h-1.4l-2.4 0.8h-1.8l-2.2-0.4h-0.1h-2.2h-0.6l-2.3-1.1h-0.1l-2.3 1.1h-1.5l-2.4 0.1h-1.7l-2.4-0.4h-1.2l-2.4-0.5h-0.6l-2.4-0.3h-1l-2.4 1.2h-2.6l-2.4 0.7h-0.5l-2.4-1.9h-1.2l-2.4 0.1h-0.9l-2.4 1.7h-0.9l-2.3-0.5h-0.1l-2.3 0.5h-2.4l-2.4-0.1h-2.1l-2.4-1.2h-1.4l-2.4 0.1h-2.5l-2.4 0.5h-1.1l-2.4-1h-2.1l-2.4 1.5h-2.2l-2.3-1.3h-0.1l-2.2 0.1h-0.1l-2.3 1.2h-0.1l-2.4-0.5h-1.8l-2.4 0.5h-0.9l-2.4 0.3h-0.3l-2.4-0.3h-1.4l-2.4-0.7h-1.2l-2.4-0.2h-0.2l-2.2 0.9h-0.1l-2.2-0.9h-1.8l-2.4 0.9h-0.8l-2.3-0.9h-0.1l-2.2-0.5h-1.1l-2.4 0.5h-2.4l-2.4-0.2h-0.5l-2.4-0.4h-1.7l-2.4 1.3h-0.6l-2.4-1.3h-0.6l-2.4 0.2h-0.1l-2.4 0.1h-0.1l-2.2-0.2h-0.1l-2.3 1.7h-2.3l-2.4-0.7h-2.5l-2.4-1h-0.2l-2.4 1.7h-0.5h-2.3h-0.1l-2.4-1.8h-1.9l-2.4 1.9h-1.4l-2.4-1.6h-1.1l-2.4 0.6h-2l-2.4-0.5h-1.9l-2.4 0.7h-0.8l-2.4-1.1h-2.2l-2.4 0.2h-2.4l-2.4 0.6h-1.5l-2.4 1h-2.2l-2.4-1.7h-1.6l-2.4 0.2h-2.3l-2.4 0.5h-2.3l-2.3-0.5h-0.1l-2.2 0.5h-2.4l-2.4 0.9h-0.4l-2.4-1.4h-0.4l-2.4-0.3h-1.6l-2.4 0.2h-1.2l-2.4 0.3h-2.2l-2.2 0.8h-0.1l-2.3-1.3h-1.4l-2.4 0.3h-0.1l-2.3 0.5h-0.1l-2.3-0.4h-0.1l-2.4 0.3h-1.5l-2.4-0.4h-2.4l-2.4 1h-1.4l-2.4-0.9h-0.5l-2.4 0.1h-1.6l-2.4-0.5h-2.2l-2.4 1.3h-0.2l-2.2 0.6h-0.1l-2.1-1h-1.1l-2.4-0.6h-2.1l-2.4-0.3h-0.3l-2.4 1.1h-1.1l-2.4-0.8h-2.1l-2.4 1.1h-1.1l-2.4-1.4h-1.6l-2.4 1.7h-1.4l-2.4-1.7h-1l-2.4 0.7h-1.4l-2.4-0.7h-0.4l-2.4 1h-2.2l-2.4-0.2h-2.3l-2.4 0.3h-0.6l-2.4-1.1h-1.2l-2.2 1.9h-0.1l-2.2-0.3h-0.5l-2.4-0.5h-1.6l-2.4-1.1h-0.6l-2.4 1.6h-0.3l-2.4-1.2h-0.7l-2.4 0.6h-0.6l-2.4 0.1h-0.3l-2.4-1.1h-0.5l-2.4 1.9h-2.3l-2.4-1.8h-0.5l-2.2-0.1h-0.1l-2.2 0.5h-0.3l-2.4 1.2h-2.2l-2.4-1.3h-0.8l-2.4-0.2h-1.2l-2.4 1.5h-0.3l-2.4 0.1h-2.6l-2.4-1h-2l-2.4 0.6h-1.1l-2.4-1.1h-2.2l-2.4-0.3h-0.1l-2.4 1.9h-2.2l-2.4-0.9h-1.1l-2.2 0.9h-0.1l-2-0.3h-0.1l-2.2-0.2h-1.4l-2.4-1.3h-2.1l-2.4-0.1h-0.6l-2.4 1.3h-2.4l-2.4-1.3h-1.7l-2.3 0.4h-0.1l-2.4 0.6h-1.9l-2.4-0.5h-0.3l-2.4 0.8h-1.5l-2.4-0.9h-0.5l-2.4 0.7h-0.9l-2.3-0.3h-0.1l-2.2-0.2h-2.1l-2.2 1.1h-0.1l-2.1-1.5h-1.4l-2.4 0.8h-0.2l-2.4-0.5h-2.2l-2.4 1.2h-2l-2.4-1.4h-1.7l-2.4 0.6h-2.5l-2.4-0.3h-0.3l-2.4-0.1h-1.8l-2.4 0.7h-1.8l-2.4-0.7h-0.6l-2.4 0.7h-1.3l-1.9-0.7h-0.1l-1.4 1h-0.1h-1.4h-0.1l-1.4-0.9h-0.1l-1.4 1.3h-0.1l-1.4-1.2h-0.1l-1.4 0.3h-0.1l-1.4 0.7h-0.1l-1.4-1.4h-0.1l-1.4 1.2h-0.1l-1.4 0.6h-0.1l-1.4 0.1h-0.1l-1.4-0.7h-0.1l-1.4-0.4h-0.1l-1.4-0.3h-0.1l-1.4 0.6h-0.1l-1.4-0.8h-0.1l-1.4-0.2h-0.1l-1.4-0.8h-0.1l-1.4 0.7h-0.1l-1.4-0.9h-0.1l-1.4-0.1h-0.1l-1.4-2.7h-0.1l-1.4-1.7h-0.1l-1.4-1h-0.1l-1.4-1h-0.1l-1.4 4.1h-0.1l-1.4 2.8h-0.1l-1.9 1.1h-1.4l-2.4-1.6h-1.9l-2.1 0.7h-0.1l-2.2-0.8h-2.4l-2.4 0.5h-1.7l-2.4-0.2h-0.7h-2.4h-1.1l-2.4 0.4h-2.3l-2.4-0.4h-2.2l-2.4-0.1h-0.1l-2.3-0.1h-1.2l-2.4 0.2h-2.4l-2.4 0.1h-1.1l-2.4 0.5h-1.7l-2.4-0.9h-1.2l-2.4 1.2h-0.6l-2.4 0.1h-1.2l-2.4 0.1h-1.7l-2.4-1.4h-0.8l-2.3 0.6h-0.1l-2.2 0.4h-2l-2.4 0.1h-2l-2.4-0.4h-1.3l-2.4 0.5h-1.8l-2.4-0.5h-2.6l-2.4 1h-1.2l-2.4-1.2h-1.7l-2.4 0.7h-1.1l-2.4-1.1h-2.5l-2.4 1.1h-0.3l-2.4-1.2h-2.3h-2.2h-0.1l-2.2 0.2h-2.2l-2.4 1.7h-0.2l-2.4-0.4h-1.3l-2.4-0.9h-0.8l-2.4 0.2h-2.6l-2.4 0.6h-1.2l-2.4-1.1h-2.1l-2.4 0.3h-0.9l-2.4-0.5h-0.7l-2.4 1.6h-2.3l-2.4-0.9h-1l-2.4 0.9h-1.4l-2.4-1.2h-2.3l-2.1 0.6h-0.1l-2.2-1.1h-2.5l-2.4 0.4h-2l-2.4 0.7h-1.5l-2.4 0.4h-0.4l-2.4-0.3h-1l-2.4-1h-0.1l-2.3-0.1h-0.7l-2.3 0.6h-0.1h-2.3h-0.8l-2.4 1.1h-2.1l-2.4-0.6h-1.5l-2.4 0.4h-1.8l-2.4-1.6h-0.1l-2.3 0.1h-2l-2.4 1.1h-2.3l-2.4-1.2h-1.5l-2.4 0.8h-2.4l-2.4-0.2h-2.2l-2.4 1.3h-2.1l-2.4-1.3h-1.8h-2.4h-1.6l-2.4-0.4h-0.6l-2.4 0.5h-0.5l-2.4 0.4h-2.2l-2.2-1.1h-0.1h-2.3h-2.3l-2.4 1.1h-2l-2.4-0.7h-0.6l-2.4 0.5h-1.1l-2.4-0.8h-2l-2.4 0.1h-0.5l-2.4-0.2h-2.4l-2.4 0.1h-0.2l-2.2 0.1h-0.1l-2.3-0.1h-0.2l-2.4 1.5h-2l-2.4-1.4h-2.6l-2.4-0.1h-1.5l-2.4 1.2h-2.4l-2.4-0.5h-2l-2.4-0.4h-1.5l-2.4-0.2h-1.5l-2.4 1.6h-1.4l-2.4-0.9h-2.6l-2.4 0.1h-2.2l-2.4 0.7h-1.6l-2.3-1.7h-0.1l-2.3 0.3h-1l-2.4 0.6h-1l-2.4-0.3h-0.8l-2.4 0.9h-0.7l-2.4 0.1h-0.6l-2.2 0.2h-0.1l-2.1-1.5h-0.1l-2.2 1.5h-1.1l-2.4-1.4h-1.5l-2.3 1.2h-0.1l-2.2-0.6h-2.1l-2.4-0.8h-0.5l-2.4-0.1h-0.7l-2.4 0.3h-0.5l-2.4 1.2h-0.2l-2.4-1.5h-2.5l-2.4 1.3h-0.8h-2.4h-0.1l-2.3-0.3h-1.1l-2.4-0.2h-0.1l-2.4-0.8h-2h-2.4h-1.9l-2.4 0.5h-2.2l-2.4 0.6h-2.5l-2.4 0.3h-1.7l-2.4-0.4h-0.5l-2.4-0.5h-1.6l-2.4 1.3h-1.3l-2.4-0.9h-2.1l-2.4 0.7h-0.1l-2.4-1h-0.3h-2.4h-0.1l-2.3 0.6h-1.7l-2.4-0.4h-1.9l-2.4-0.9h-1l-2.3 1.5h-0.1l-2.3-1.5h-0.9l-2.4 0.6h-0.1l-2.3-0.4h-1.6l-2.4 1.1h-0.4l-2.4-1.2h-0.6l-2.4 1.5h-0.4l-2.4-1.2h-2l-2.3 1.3h-0.1l-2.3-1.2h-2.4l-2.4 1h-2.2l-2.4 0.2h-0.1l-2.4-1.1h-0.4l-2.4-0.5h-1.4l-2.4 1.4h-0.6l-2.4 0.1h-0.5l-2.4-1.5h-1.4l-2.3 1.5h-0.1l-2.2-1.5h-2l-2.3 0.5h-0.1l-2.4-0.2h-1l-2.4 0.8h-0.9l-2.4-0.1h-2.2l-2.2-1.1h-0.1l-2.2 1.3h-0.1z" fill="#0000ff" stroke="#0000ff" stroke-width="0.8" stroke-linejoin="round"/>
<polyline points="736.5,682.5 737.5,681.8 738.5,679.3 739.5,676.8 740.5,675.3 741.5,676.3 742.5,677.3 743.5,678.3 744.5,679.3 745.5,680.3 746.5,681.1 747.5,681.5 748.5,681.9 749.5,682.2 750.5,682.6 751.5,683.0 752.5,683.4 753.5,683.7" fill="none" stroke="#0000ff" stroke-width="5" stroke-linejoin="round" stroke-linecap="round"/>
<path d="M187.4 579.5h1.4l2.4 2.8h3.6l2.4-3.4h1.1l2.4 3.9h1.6l2.4-0.7h1.1l2.4-0.3h0.7l2.4-1.9h2.6l2.4-0.5h3.6l2.4 2.2h3.9l2.4-0.9h3.4l2.4 1.8h0.7l2.4-0.1h1.3l2.4-0.4h1.4l2.4 0.3h1.3l2.4-1.7h1.4l2.4 2.1h1.6l2.4-1h3.8l2.4-1.2h4l2.4 2.2h1.4l2.4-0.6h3.6l2.4-1.6h0.8l2.4 2.3h0.6l2.4-0.6h3.3l2.4-1.3h3.2l2.4-1.9h0.8l2.4 1.2h1.8l2.4 1.6h2.8l2.4 1h3.7l2.4-3.7h1.7l2.4 2.5h1.2l2.4 0.7h3.6l2.4 0.1h1.7l2.4-1.2h3.1l2.4-1.9h2.1l2.4 3.4h3l2.4-2.2h3.9l2.4 0.5h3.5l2.4 0.8h4.1l2.4-0.7h2.1l2.4 0.1h1.8l2.4-1.2h3.8l2.4-0.1h1.3l2.4 2.6h0.9l2.4-1.9h2l2.4 0.3h1.1l2.4-1.9h2.6l2.4-0.1h1.8l2.4 0.6h1.6l2.4 1.1h2.9l2.4 2.1h2.1l2.4-1.3h2.2l2.4 1.4h2.7l2.4-3.5h2.3l2.4 2.2h3.6l2.4-2.2h2.4l2.4 3h4.1l2.4-1.4h2.5l2.4 1.3h2.6l2.4-1.4h3.3l2.4 1.9h2.5l2.4-0.9h3.3l2.4-0.2h2.9l2.4-2.2h0.6l2.4 3.2h2.5l2.4-0.1h2.2l2.4-1.1h3.8l2.4-1.8h1.3l2.4 2.7h2.9l2.4 0.2h2.8l2.4-0.9h3.3l2.4 1.1h3.4l2.4-1.3h1.7l2.4 1.3h3.7l2.4 0.2h4.1l2.4-1.7h1.2l2.4 0.1h2.6l2.4-1h1l2.4 0.1h3.3l2.4 1.4h3.8l2.4 0.4h1.9l2.4 0.5h3.4l2.4-3.8h3.9l2.4 2.6h2.4l2.4-1.9h2.2l2.4 2.9h4l2.4-2.9h3.3l2.4 2h2.1l2.4 0.6h0.6l2.4-1.2h2.5l2.4-1.3h3.1l2.4 2.5h1.9l2.4-0.7h1.3l2.4-0.9h1.2l2.4-0.1h0.9l2.4-0.8h1l2.4 1.1h3.5l2.4 1.1h4l2.4 0.5h2.1l2.4-0.8h2.6l2.4-0.7h4.1l2.4 1.6h0.6l2.4-3h3l2.4-0.7h2.7l2.4 1.2h3.6l2.4 1.9h3l2.4-0.9h0.7l2.4-1.6h3l2.4 2.1h2.7h2.4h0.9l2.4-0.6h4l2.4-1.9h3.2l2.4 3.2h1.5l2.4 0.7h3.2l2.4-3.2h1.8l1.9 3h0.1l1.4 9.7h0.1l1.4 12h0.1l1.4 8.6h0.1l1.4 14.1h0.1l1.4 12.1h0.1l1.4 11.5h0.1l1.4 8.4h0.1l1.4 0.9h0.1l1.4-2.3h0.1l1.4-2.5h0.1l1.4 0.4h0.1l1.4-1.8h0.1l1.4-0.1h0.1l1.4-3.3h0.1l1.4 2.5h0.1l1.4-2.9h0.1l1.4 0.3h0.1l1.4-1h0.1l1.4 1.1h0.1l1.4-3.3h0.1l1.4 1.8h0.1l1.4-1.2h0.1l1.4 1.8h0.1l1.4-0.7h0.1l1.4-2.7h0.1l1.4 3h0.1l1.4-1h0.1l1.9-0.1h1.3l2.4-2.4h2.8l2.4-0.4h2.4l2.4-0.3h3.1l2.4 0.3h1.2l2.4-0.4h3.2l2.4 3.1h0.7l2.4 0.1h0.7l2.4-1.6h1.4l2.4 1.4h2.1h2.4h3.2l2.4-0.5h4.1l2.4 0.4h0.8l2.4-0.2h0.7l2.4-0.4h2.9l2.4 0.1h0.6l2.4 0.2h1.8l2.4 0.4h3.2l2.4 0.2h2.5l2.4-2.5h2.3l2.4 2.4h1.7l2.4-3.4h2.6l2.4 2.3h3.1l2.4 0.4h2.7l2.4-1.9h1.9l2.4 1.2h3.7l2.4-1.3h3.3l2.4-0.4h2.7l2.4 1.7h2.7l2.4-0.3h3.1l2.4-0.8h3.7l2.4 0.4h2.5l2.4 1.1h3.7l2.4-1.7h1.8l2.4 1.3h0.9l2.4-0.7h0.8l2.4-1.2h3.8l2.4 0.5h2l2.4 2.5h2.8l2.4-1.3h0.8l2.4-1.3h1.8l2.4 1.4h3.9l2.4 1.4h2.8l2.4-2.5h1.7l2.4 2h2.4l2.4-0.7h2.4l2.4 0.2h2.3l2.4-2.1h2.5l2.4 1.8h3.7l2.4-1.5h0.7l2.4 2.8h2.9l2.4-1.2h3.6l2.4-1.2h1.4l2.4-0.2h1.6l2.4 2h2.7l2.4 0.2h1.7l2.4 0.1h1.2l2.4-0.1h1.8l2.4-0.2h2.1l2.4-0.7h3.5l2.4-0.1h1.2l2.4-0.7h1.5l2.4-1h2.1l2.4 3h0.9l2.4-0.2h3.2l2.4-1.1h0.7l2.4 0.4h3.8l2.4 1.2h2.4l2.4-3.6h3.4l2.4 3.3h0.7l2.4-2.5h1.3l2.4-0.5h4l2.4 2.5h1.3l2.4 0.3h3l2.4-0.5h3.8l2.4 0.7h1.5l2.4 0.1h4l2.4 0.1h4l2.4-0.6h3.4l2.4-2.5h3.9l2.4 2.6h3.8l2.4-2.9h0.8l2.4 3.1h2.7l2.4-2.8h2.3l2.4 1.4h0.9l2.4 0.8h0.7h2.4h2.9l2.4-0.1h3.2l2.4 0.2h2.5l2.4-0.2h2.3l2.4 0.9h1.5l2.4-0.2h3l2.4-3h0.7l2.4 3.3h1.1l2.4-0.9h2.7l2.4-0.6h3.1l2.4-0.4h2.6l2.4-0.5h1.2l2.4 0.2h2l2.4 2.1h2.5l2.4-0.8h1.4l2.4-0.5h0.6l2.4 0.1h0.9l2.4-1.8h4l2.4 3.1h2.9l2.4-0.7h2.1l2.4-2.1h1.3l2.4 2.3h1.8l2.4 0.3h3.3l2.4-0.4h3l2.4-0.3h2.7l2.4 0.6h3.7l2.4 0.3h3.7l2.4-3.5h0.8l2.4 2.1h2l2.4-1.8h1l2.4 0.7h2.3l2.4 2.2h2.9l2.4-0.1h2.8l2.4-1h2.9l2.4 0.8h0.8h2.4h1.1l2.4 0.7h3.4l2.4-2.9h1.4l2.4 2.3h1l2.4-1.5h1.9l2.4 0.8h4l2.4-2.1h2.6l2.4 2.6h3h2.4h3.4l2.4 0.2h1.1l2.4-0.8h2l2.4-1.2h1.6l2.4-0.7h2l2.4 0.6h3.9l2.4 2.2h4.1l2.4-0.4h1l2.4 0.4h2.7l2.4-1.3h3.2l2.4 1.6h1.2l2.4-2.8h2.5l2.4 0.5h0.9l2.4-0.9h2.5l2.4 3.3h3.2l2.4-1.5h4.1l2.4 0.5h3.8l2.4-2.2h0.8l2.4 2.7h1.5l2.4-2.8h3.8l2.4 0.6h3.3l2.4 1.3h2.9l2.4 0.9h1.3l2.4-1.7h3.8l2.4 2.1h2l2.4-0.4h1.1l2.4-0.2h1l2.4-2.6h0.7l2.4 2.4h0.8v15.6h-0.3l-2.4-0.3h-1.5l-2.4 3.8h-2.7l-2.4-0.9h-1.1l-2.4-1.2h-4l-2.4-1.3h-1l-2.4 1.2h-3.1l-2.4 0.8h-2.1l-2.4 0.3h-0.8l-2.4-1.8h-0.6h-2.4h-1.2l-2.4 2.6h-0.9l-2.4-0.2h-2l-2.4-0.2h-2.9l-2.4-0.2h-2.5l-2.4-1.8h-1l-2.4-0.8h-1.9l-2.4 0.5h-3.6l-2.4 0.7h-2.6l-2.4-1.8h-3.7l-2.4 3.5h-0.7l-2.4-0.2h-1.7l-2.4 0.3h-2.2l-2.4-3.3h-1.4l-2.4 2.3h-2.8l-2.4 1.5h-1.4l-2.4-1.8h-3.3l-2.4-1.6h-3.1l-2.4 3.1h-3.2l-2.4-3.4h-3.3l-2.4 0.5h-3.4h-2.4h-2l-2.4 0.6h-3.1l-2.4 2.7h-2.3l-2.4-1.8h-1.4l-2.4 1.9h-1.3l-2.4-1.4h-1.6l-2.4-1.1h-1.2l-2.4 1.2h-3.1l-2.4 0.8h-1l-2.4-2.2h-4l-2.4-0.4h-1.6l-2.4 1.9h-3.3l-2.4-2.3h-3.7l-2.4-0.6h-2.7l-2.4-0.1h-3.4l-2.4 1h-3.6l-2.4 0.2h-3.1l-2.4-1.2h-3l-2.4 3.7h-1.4l-2.4-0.5h-1.9l-2.4-1.3h-2.8l-2.4-0.3h-3.7l-2.4-1.3h-1.7l-2.4 1.7h-1.9l-2.4-1.9h-3l-2.4 4.3h-2.2l-2.4-0.8h-0.9l-2.4-1.1h-1.5l-2.4-2.5h-3.7l-2.4 2.4h-3.9l-2.4-1.3h-2.5l-2.4 2.9h-2l-2.4-1.5h-2.1l-2.4-1.6h-3.6l-2.4 0.9h-2.8l-2.4-0.5h-3.4l-2.4 2.6h-1.7l-2.4-2h-2.5l-2.4-0.8h-2.6l-2.4 1.8h-1.9l-2.4-1.5h-2.6l-2.4 2.9h-0.9l-2.4-0.4h-1l-2.4-2.6h-0.9l-2.4 2.2h-1.7l-2.4-3.5h-2.6l-2.4 4h-0.9l-2.4-3.2h-3.8l-2.4 3.6h-2.6l-2.4-3.9h-2l-2.4 1.7h-3.2l-2.4-0.6h-2.4l-2.4 2.9h-3.8l-2.4-4.3h-3.3l-2.4 4.3h-1l-2.4-3.3h-2.3l-2.4 1.5h-1.3l-2.4-0.8h-2.5l-2.4-1.2h-1.8l-2.4 2.2h-1.5l-2.4 0.2h-1.4l-2.4 0.6h-2.2l-2.4-0.6h-0.9l-2.4 0.7h-1.6l-2.4-1h-0.9l-2.4-0.7h-3.9h-2.4h-2.7l-2.4 0.2h-3.2l-2.4-0.1h-2l-2.4-2h-2.9l-2.4 2.2h-2.1l-2.4-0.9h-2.5l-2.4-1.3h-3.8l-2.4 3.1h-0.9l-2.4-0.9h-3.8l-2.4-2.2h-0.6l-2.4 1.9h-1.1l-2.4-2.1h-3.2l-2.4 0.4h-1.6l-2.4 1.5h-3.9l-2.4-0.5h-0.9l-2.4 0.7h-1.2l-2.4-1.7h-2.4l-2.4 3.1h-3.8l-2.4-1h-0.9l-2.4-0.2h-4.1l-2.4 1.1h-1.4l-2.4-0.7h-2.8l-2.4 0.8h-0.7l-2.4 0.6h-3.9l-2.4-2.5h-2.7l-2.4 0.7h-1l-2.4-0.9h-3.6l-2.4-0.2h-0.7l-2.4-0.6h-3.2l-2.4 1.4h-2.3l-2.4-2h-0.7l-2.4 3.3h-3.3l-2.4 1.1h-3.2l-2.4-4.4h-3.5l-2.4 0.6h-1.1l-2.4 2.1h-1.7l-2.4 1.4h-3.7l-2.4-3.6h-3.5l-2.4 1.7h-1.6l-2.4-2h-1.9h-2.4h-0.8l-2.4 4.1h-0.7l-2.4-0.1h-3.4l-2.4-3.7h-2.6l-2.4 3h-0.6l-2.4 0.8h-2l-2.4-2.7h-1.3l-2.4-1.4h-1l-2.4 0.2h-0.7l-2.4 3.9h-3.1l-2.4-3.5h-0.7l-2.4 0.2h-2.9l-2.4 2.4h-3.3l-2.4-0.6h-2.8l-2.4-2h-3l-2.4-0.3h-2l-2.4-0.2h-0.9l-2.4 2.5h-2.7l-2.4-1.4h-3.1l-2.4-0.4h-0.8l-2.4-0.5h-3.4l-2.4 1.2h-0.7l-2.4 2.6h-1.9l-1.9 0.6h-0.1l-1.4-3.7h-0.1l-1.4 1.4h-0.1l-1.4 1.2h-0.1l-1.4 2.2h-0.1l-1.4-0.7h-0.1l-1.4-2.7h-0.1l-1.4 2.5h-0.1l-1.4-0.9h-0.1l-1.4 3.1h-0.1l-1.4-1.2h-0.1l-1.4-1.9h-0.1l-1.4 1h-0.1l-1.4 2.2h-0.1h-1.4h-0.1l-1.4-0.5h-0.1l-1.4 3.5h-0.1l-1.4 2.8h-0.1l-1.4-2.8h-0.1l-1.4 4.6h-0.1l-1.4 0.7h-0.1l-1.4-1.6h-0.1l-1.4-10.8h-0.1l-1.4-13.3h-0.1l-1.4-14.1h-0.1l-1.4-9.5h-0.1l-1.4-13.6h-0.1l-1.4-10.8h-0.1l-1.9-7.3h-1.5l-2.4-2.5h-1.7l-2.4-1.6h-4l-2.4-0.2h-1l-2.4 3.9h-3.7l-2.4-2h-3.3l-2.4 2.2h-1.8l-2.4-3.1h-2.7l-2.4-0.2h-3.3l-2.4 3h-1.9l-2.4-0.3h-3l-2.4-0.1h-3.9l-2.4-1.5h-2.1l-2.4-2h-1.1l-2.4 2.8h-2.7l-2.4-2h-2.7l-2.4 3h-3.6l-2.4-3.8h-3.5l-2.4 0.3h-0.9l-2.4 3h-1.7l-2.4-3.2h-1.3l-2.4 3.3h-1.1l-2.4 0.5h-3.1l-2.4-3.9h-1.2l-2.4-0.1h-2.1l-2.4 1.6h-2.4l-2.4 1.1h-1.3l-2.4 0.4h-3.8l-2.4 0.8h-0.6l-2.4-2.3h-1.4l-2.4 2.9h-3.2l-2.4-2.1h-3.5l-2.4-1.3h-1.4l-2.4 2.5h-0.8l-2.4-3.4h-3.6l-2.4 1.2h-2.2l-2.4 3.1h-0.9l-2.4-0.7h-1.3l-2.4 0.1h-2.6l-2.4-3.3h-1.8l-2.4 1h-3l-2.4-0.6h-3.1l-2.4 0.8h-2.8l-2.4 0.8h-1.5l-2.4 1.4h-2.7l-2.4-1.4h-2.3l-2.4-2.6h-3.2l-2.4 3.1h-1.5l-2.4 0.5h-3.2l-2.4-0.6h-2.2l-2.4 0.5h-1.6l-2.4-2.5h-0.8l-2.4 2.3h-2.3l-2.4-2.9h-2.7l-2.4 2.1h-1.6l-2.4-1.4h-1l-2.4-1.1h-1.8l-2.4 2.8h-3.9l-2.4-1.8h-1.4l-2.4 0.4h-1.8l-2.4 2.1h-0.7l-2.4-3.1h-0.7l-2.4 4h-1.4l-2.4-1.1h-1.2l-2.4 0.7h-1.6l-2.4-1.1h-1.8l-2.4-2.1h-2.2l-2.4 1.9h-1.1l-2.4-1.3h-4l-2.4-0.8h-1.1l-2.4 3.3h-3.6l-2.4-1h-2.9l-2.4 0.5h-4l-2.4-3.3h-1.4l-2.4 2.2h-1.9l-2.4-1.8h-1l-2.4 1.6h-3.3l-2.4 1.9h-2.5l-2.4-3h-3.8l-2.4 1.7h-0.7l-2.4-0.9h-2.3l-2.4-1.6h-1.6l-2.4 3.8h-2.2l-2.4-2.3h-1.5l-2.4-1.6h-1.5l-2.4 0.5h-4.1l-2.4 0.4h-3.8l-2.4 1.2h-1l-2.4 2h-2.4l-2.4-3.5h-2.6l-2.4 2.3h-1l-2.4-2.6h-3.2l-2.4 3.2h-3.6l-2.4-0.7h-0.8l-2.4-2.4h-2.6l-2.4 1.9h-1.4l-2.4-1.8h-0.7l-2.4 1h-3.1l-2.4 1.9h-2.5l-2.4-0.4h-0.7l-2.4-0.7h-1.7l-2.4-2.3h-2.2l-2.4 0.4h-1l-2.4 1.8h-3.5l-2.4-1.3h-0.7l-2.4 1.5h-3.5l-2.4-2.1h-3.9l-2.4-0.1h-2l-2.4 2.6h-1l-2.4-2.3h-2.7l-2.4 3.4h-1.6l-2.4-4h-2.1l-2.4 1.1h-0.7l-2.4 1.9h-1.1l-2.4-0.9h-3.8l-2.4-1.5h-2.6l-2.4 2.6h-2.4l-2.4-2.1h-2.3l-2.4 3.1h-1.4l-2.4-0.8h-1l-2.4-2.6h-2z" fill="#ff0000" stroke="#ff0000" stroke-width="1.6" stroke-linejoin="round"/>
<polyline points="735.5,587.6 736.5,588.8 737.5,592.7 738.5,596.7 739.5,603.9 740.5,612.0 741.5,620.0 742.5,628.1 743.5,636.2 744.5,644.2 745.5,652.3 746.5,660.3 747.5,668.4 748.5,668.9 749.5,667.7" fill="none" stroke="#ff0000" stroke-width="6" stroke-linejoin="round" stroke-linecap="round"/>
<path d="M187.4 507.9h4l2.4 0.4h4l2.4-2h3.2l2.4-0.3h3.8l2.4 4h1l2.4-2.1h1.1l2.4 1.2h3.1l2.4-2h1.4l2.4 1.4h3.1l2.4 1h3.9l2.4 0.3h3.2l2.4 0.2h2.1l2.4-2.1h1.1l2.4 1.2h3.6l2.4-0.5h3.8l2.4-0.9h2l2.4-0.3h4l2.4-0.5h3l2.4 1.3h1.6l2.4 0.1h1.6l2.4 0.1h1.9l2.4 0.2h1.9l2.4-1.4h3.2l2.4 1.4h3l2.4 1.3h2.3l2.4-1.7h2.3h2.4h2.3l2.4-1h3l2.4 2h1.3l2.4 0.9h3.9l2.4-1.3h3.2h2.4h2.6l2.4-0.2h3.2l2.4 1.1h3.5l2.4-3.1h1.4l2.4 1.9h3.3l2.4 1.3h2.4l2.4-3.6h2.4l2.4 2.3h2.6l2.4 0.4h1.5l2.4-0.9h3.4l2.4 0.6h1.6l2.4 1.4h3.2l2.4-3.2h0.8l2.4 2.9h2.6l2.4-0.9h3.3l2.4-2h0.6l2.4 1h2.4l2.4 1.4h1.2l2.4-1.2h2.3l2.4 1h3.8l2.4-1.2h2l2.4 2.1h2.7l2.4-3.2h3.4l2.4 2.8h1.1l2.4-2.6h3.4l2.4 0.7h1.8l2.4-0.5h1.8l2.4 1h2.6l2.4-1.9h2l2.4 3.7h2.2l2.4-0.4h0.9l2.4-1.6h1.6l2.4-0.9h3.4l2.4 3.1h3.2l2.4-0.7h0.7l2.4 0.4h2.7l2.4-1.5h1.2l2.4 1.1h2.6l2.4-2.1h2l2.4 1.8h3.4l2.4-0.7h2.9l2.4-0.2h3.1l2.4 1.7h3.4l2.4-3.3h1.7l2.4 2h0.7l2.4-0.9h2.4l2.4-1.7h3.2l2.4 1h1.8l2.4 2.8h1.6l2.4 0.3h2.2l2.4-3.7h3.1l2.4 3.6h1.8l2.4-2.8h2.6l2.4 1h3.2l2.4 0.7h3.4l2.4 0.7h3.1l2.4-3.4h2.1l2.4 3.5h1.7l2.4-0.6h2.3l2.4-0.4h2.7l2.4-1.1h2.3l2.4-1.2h3.2l2.4 2.8h1.6l2.4-1.2h1.7l2.4-0.4h1.1l2.4 1.6h0.8l2.4-2h1.8l2.4 2.6h3.7l2.4-3.4h3.2l2.4 3.1h3.7l2.4-1.5h2.5l2.4 1.4h1.1l2.4-1.7h1.8l2.4-0.5h2l2.4 0.8h1.1l2.4-1.3h2.3l2.4 1.1h2.2l2.4-0.5h3.6l2.4 2.3h0.7l2.4-1.6h2.4l2.4-0.1h2.4l2.4-0.7h2.5l2.4 1.7h3.1l1.9 3.2h0.1l1.4 9.7h0.1l1.4 15.3h0.1l1.4 10h0.1l1.4 8.8h0.1l1.4 9.4h0.1l1.4 8.9h0.1l1.4 6.9h0.1l1.4 0.8h0.1l1.4-1.4h0.1h1.4h0.1l1.4-1.1h0.1l1.4-2.3h0.1l1.4 1h0.1l1.4 0.2h0.1l1.4-1h0.1l1.4-0.8h0.1l1.4 1.6h0.1l1.4-0.6h0.1l1.4-0.4h0.1l1.4-2.5h0.1l1.4 1.6h0.1l1.4 0.1h0.1l1.4-0.2h0.1l1.4-0.1h0.1l1.4 0.1h0.1l1.4 0.2h0.1l1.4-3.1h0.1l1.4 3.2h0.1l1.9-1.7h3.3l2.4 1.4h1l2.4-0.9h3.8l2.4 0.7h1.2l2.4-2h1h2.4h1l2.4 1.8h1.5l2.4-2h2.5l2.4 2.2h3l2.4-0.1h1.6l2.4-0.9h1.6l2.4-1.6h0.9l2.4 2h3.9h2.4h4l2.4-2.3h1.5l2.4 0.7h1.7l2.4 0.2h3l2.4 0.7h3.3l2.4 1.3h2.7l2.4-0.9h0.9l2.4 0.4h4l2.4-2.5h1.3l2.4 1.5h0.6l2.4 1.1h0.7l2.4 0.1h3.6l2.4-1.8h3.6l2.4 2.1h2.1l2.4-0.9h0.8l2.4-0.3h1.8l2.4 0.9h1.9l2.4-0.5h0.7l2.4 0.4h3.6l2.4-2.4h3.8l2.4 1.9h3.1h2.4h2.7l2.4 0.3h1.6l2.4 0.3h1.5l2.4-0.1h1l2.4-1.6h3.6l2.4 2h3.9l2.4-0.6h3l2.4-2.7h2.2l2.4 0.4h2.2l2.4 0.7h0.6l2.4 0.4h1.9l2.4-0.6h1.9l2.4-0.2h1.6l2.4 0.5h2.5l2.4 0.2h1.4l2.4 1.6h2.5l2.4-2h2.5l2.4 1.4h2.7l2.4 0.5h3.5l2.4 0.1h1.5l2.4 0.3h3.6l2.4-1.2h2.1l2.4 1h1.8l2.4-0.8h1.6l2.4-1.6h2l2.4 1.5h1.7l2.4 0.3h3.9l2.4-1.7h3.1l2.4 2h0.8l2.4-1h4l2.4 1.3h1.2l2.4-2.8h1.1l2.4 0.5h1.1l2.4-0.7h2.9l2.4 2.5h3l2.4-2.4h1.2l2.4 1.2h1.3l2.4-1.3h3.4l2.4 3h1.8l2.4-0.4h1.4l2.4-1.1h0.7l2.4 1h3l2.4 0.7h3.1l2.4-0.7h1.9l2.4-1.8h0.8l2.4 2.1h3l2.4-2.4h1.5l2.4 2.8h3.1l2.4-0.1h1.9l2.4-1.9h1.5l2.4-0.9h1.7h2.4h0.9l2.4 1.3h0.6l2.4-0.6h3.4l2.4-0.7h0.9l2.4 1.5h1.6l2.4 0.2h3.7l2.4 0.4h1.8l2.4 0.3h3.7l2.4 0.3h2.5l2.4 0.2h1.8l2.4-0.2h3.9l2.4 0.3h1.1l2.4-2.6h1.1l2.4 2.5h2.5l2.4-2.3h2.7l2.4 0.5h1.2l2.4 1h1.5l2.4-2.2h3.8l2.4 2.5h4.1l2.4-1.6h3.2l2.4 0.2h3.7l2.4-1.1h3.8l2.4 2.8h1.3l2.4-2.3h1.8l2.4 0.9h3l2.4 1.1h1.8l2.4-1.4h2.7l2.4 1.9h3.9l2.4-1.6h2.8l2.4 0.5h3l2.4-0.9h2.9l2.4-0.1h0.9l2.4-0.5h0.8l2.4 1.8h1.6l2.4 0.4h1.5l2.4-1h0.9l2.4 0.9h2.4l2.4 0.5h4l2.4-0.7h2.3l2.4-0.8h1.5l2.4 1.3h2.3l2.4-2.3h2.1l2.4 2.5h2.9l2.4-0.1h4.1l2.4-0.8h2l2.4-1.3h3.5l2.4-0.9h2.5l2.4 1.8h1.6l2.4 1.1h1.9l2.4-3.1h3l2.4 0.7h0.8l2.4-0.3h2.5l2.4 1.8h1.1l2.4-0.4h4.1l2.4-1.3h0.6l2.4-0.2h1.8l2.4 1.4h2.1l2.4-0.1h1.5l2.4 1.3h2.8l2.4-0.1h1.1l2.4-0.7h2.7l2.4-1.5h3.9l2.4 2.6h1.6l2.4-2.2h1.9l2.4 0.8h2.2l2.4 0.6h3.6l2.4 0.4h1l2.4 0.2h2.2l2.4-2.5h1.9l2.4 0.7h4l2.4 1.4h3l2.4-1.8h3.2l2.4 1.7h0.9l2.4-1.9h2.4l2.4 2.7h1.3v14.6h-2h-2.4h-0.8l-2.4 2.4h-1.9l-2.4 0.9h-2.5l-2.4-1.7h-1.8l-2.4 2.5h-3.6l-2.4-0.5h-1.7l-2.4-3.2h-3.4l-2.4 2.7h-2.7l-2.4 0.2h-3.7l-2.4-2.3h-0.8l-2.4 1.3h-0.7l-2.4-2.1h-1.4l-2.4-0.3h-3.6l-2.4 2.6h-1.2l-2.4 1.9h-1.2l-2.4-4h-3.9l-2.4 4h-1.2l-2.4-3.2h-1.5l-2.4 2.5h-0.9l-2.4-3.4h-1l-2.4 0.6h-0.7l-2.4-0.8h-1.1l-2.4 4.1h-2.2l-2.4-1.5h-1.9l-2.4-0.9h-2.7l-2.4-0.3h-0.9l-2.4-1.4h-0.6l-2.4 2.7h-3.6l-2.4 1.8h-3.8l-2.4-4.5h-3l-2.4 0.4h-1.4l-2.4 3.4h-3.3l-2.4-3.2h-1.5l-2.4-0.1h-3.4l-2.4 3.1h-1.2l-2.4-1.7h-1.7l-2.4 0.9h-0.8l-2.4-1.2h-2.1l-2.4-1.7h-2.5l-2.4 3.6h-1.3l-2.4-0.2h-3.7l-2.4-1.4h-2.4l-2.4 1h-2.2l-2.4-0.8h-3.1l-2.4 2.2h-0.9l-2.4-1.8h-3.6l-2.4 1.3h-4l-2.4-4h-0.6l-2.4 4.3h-3.7l-2.4-3.3h-0.9l-2.4 3.2h-3l-2.4-3.6h-3.2l-2.4 0.1h-1.6l-2.4 2.7h-2.9l-2.4 1.1h-2.5l-2.4-4.5h-1.2l-2.4 0.3h-0.6l-2.4 3.5h-2.5l-2.4-1.4h-1.1l-2.4-2.3h-0.7l-2.4 1.3h-2.5l-2.4-0.5h-2.8l-2.4 0.9h-3.2l-2.4-0.8h-2.4l-2.4 1.4h-1.4l-2.4-1.1h-2l-2.4 0.4h-0.8l-2.4-1.7h-3.3l-2.4 1.9h-2.6l-2.4 1h-2.5l-2.4-2h-1l-2.4-0.8h-2l-2.4 0.2h-2.8h-2.4h-1.3l-2.4 3.6h-1.4l-2.4-3.3h-3.2l-2.4 1.8h-2.5l-2.4 0.5h-0.9l-2.4 1.4h-1.4l-2.4-4.2h-0.7l-2.4 1.7h-1.4l-2.4-0.6h-2.9l-2.4-1.1h-2.6l-2.4 3.8h-3.7l-2.4-2.5h-3.2l-2.4-0.9h-2.4l-2.4 1h-1.5l-2.4 0.6h-1.1l-2.4-2h-3.3l-2.4 4.2h-3.8l-2.4-2.7h-0.8l-2.4-0.1h-1.3l-2.4-0.6h-3l-2.4 3.8h-3.3l-2.4-0.4h-1.8l-2.4-3h-0.9l-2.4-1.3h-2.8l-2.4 3.7h-2.5l-2.4-1.5h-0.7l-2.4-1.9h-3.8l-2.4 2.1h-3.9l-2.4 1.3h-1.2l-2.4 0.3h-2.8l-2.4-4h-4.1l-2.4 2.7h-2.3l-2.4-0.2h-3.2l-2.4 1.9h-1.9l-2.4 0.2h-2.7l-2.4-0.5h-2.3l-2.4-2h-4l-2.4 0.6h-1.5l-2.4 0.5h-0.6l-2.4-2.4h-4l-2.4 1.6h-0.7l-2.4-2.1h-1.1l-2.4-0.2h-2.3l-2.4 2h-2.7l-2.4-0.1h-3.6l-2.4-1.8h-3.7l-2.4 0.8h-3.8l-2.4 1.2h-0.9l-2.4-1.4h-3.4l-2.4 1.5h-0.6l-2.4-1.7h-0.8l-2.4 0.8h-3.1l-2.4 2.9h-1.7l-2.4-4.2h-3.5l-2.4 1.2h-1.2l-2.4 2.1h-1.2l-2.4 0.9h-1.9l-2.4-0.5h-1.5l-2.4 0.8h-3.9l-2.4-3.9h-2.9l-2.4 0.9h-3.8l-2.4-1.4h-3.7l-2.4 0.2h-4l-2.4 1.2h-2.7l-2.4-1h-3.3l-2.4 0.8h-3.2l-2.4-1.1h-4l-2.4 1.9h-2.1l-2.4-1.2h-1.2l-2.4 1.7h-3l-2.4 0.2h-2.7l-2.4-1.2h-0.7h-2.4h-3.4h-2.4h-4.1l-2.4-1.7h-1.4l-2.4 0.2h-0.6l-2.4 1.1h-1.5l-2.4 3.3h-3.4l-2.4-1.4h-0.9l-2.4-2.4h-2.2l-2.4 3.6h-0.7l-2.4-4.3h-1.5l-2.4 1h-3.9l-2.4 1.3h-1.1l-2.4 2.6h-2.1l-2.4-4.4h-4l-1.9 0.2h-0.1l-1.4 1.3h-0.1l-1.4 1.3h-0.1l-1.4 0.1h-0.1l-1.4 1.2h-0.1l-1.4 0.9h-0.1l-1.4-1.1h-0.1l-1.4-1.7h-0.1l-1.4 0.7h-0.1l-1.4-1.7h-0.1l-1.4 4.6h-0.1l-1.4 0.1h-0.1l-1.4 0.1h-0.1l-1.4-1.4h-0.1l-1.4-0.2h-0.1l-1.4-1h-0.1l-1.4 0.8h-0.1l-1.4 0.2h-0.1l-1.4 3.6h-0.1l-1.4-0.8h-0.1l-1.4 0.1h-0.1l-1.4 2.2h-0.1l-1.4-8.6h-0.1l-1.4-11.6h-0.1l-1.4-8.3h-0.1l-1.4-9.3h-0.1l-1.4-5.5h-0.1l-1.4-18.9h-0.1l-1.9-17.3h-2.1l-2.4-0.3h-2.5l-2.4-0.4h-1.7l-2.4 2h-1.6l-2.4-0.7h-1l-2.4 2.1h-1.3l-2.4-2.2h-2.8l-2.4-1.7h-2.3l-2.4-0.4h-3.9l-2.4 3.7h-3.3l-2.4 0.6h-1l-2.4-0.6h-2.9l-2.4-0.8h-3.5l-2.4-2h-0.6l-2.4 2.3h-3.1l-2.4-1.8h-3.1l-2.4 2.1h-2.9l-2.4 0.3h-0.7l-2.4-0.3h-2l-2.4-2.1h-2.8l-2.4 2.6h-2.9l-2.4-3.7h-3.7l-2.4-0.1h-0.6l-2.4 3.1h-1.7l-2.4-1.2h-0.9l-2.4 0.6h-2.2l-2.4 0.2h-2.5l-2.4 0.9h-2.7l-2.4-3.5h-0.6l-2.4 0.5h-3.1l-2.4 3h-1.5l-2.4 0.2h-1.5l-2.4-3.3h-2.3l-2.4-0.3h-1.1l-2.4 2.6h-2.6l-2.4-1.6h-3.2l-2.4-1h-1l-2.4 0.1h-0.7l-2.4 2.3h-1.9l-2.4-1.8h-1l-2.4-1.1h-1.5h-2.4h-1.5l-2.4 1.9h-1.3h-2.4h-4.1l-2.4-0.1h-1.9l-2.4 1.7h-2.9l-2.4-2.7h-2.5l-2.4 0.4h-2.9l-2.4-1.2h-2.7l-2.4 0.1h-1.6l-2.4 2.6h-1.8l-2.4-0.8h-3.5l-2.4 0.8h-1.7l-2.4-1.8h-3.1l-2.4 0.6h-1.9l-2.4 1.9h-3.1l-2.4-2.8h-3l-2.4 3.2h-2.1l-2.4-3.3h-3.4l-2.4 1.2h-2.4l-2.4-0.6h-4l-2.4-0.9h-0.8l-2.4 0.2h-3.7l-2.4-0.1h-3.9l-2.4 0.3h-2.3l-2.4 0.8h-2.2l-2.4-1.4h-2.7l-2.4 4h-1.2l-2.4-3.4h-2.5l-2.4 1.3h-1.6l-2.4-0.5h-2.1l-2.4-0.3h-1.5l-2.4 1h-3l-2.4 0.7h-3.5l-2.4-1.1h-3.9l-2.4-0.8h-3.3l-2.4 0.6h-2.7l-2.4 2.4h-2.6l-2.4 0.2h-3.9l-2.4-3.9h-1.5l-2.4-0.2h-1.9l-2.4 2.2h-3.1l-2.4 0.2h-2.3l-2.4-2.1h-0.6l-2.4 3h-2.8l-2.4-0.4h-1.2l-2.4-2.4h-0.9l-2.4 3.4h-3l-2.4-2.6h-1.8l-2.4 1.9h-1.2l-2.4-2.8h-1.6l-2.4 3.7h-1.2l-2.4-3.2h-1.7l-2.4-0.7h-3.7l-2.4 0.3h-2.3l-2.4 0.4h-1.5l-2.4 0.8h-1.8l-2.4 0.1h-2.1l-2.4 0.9h-2.1l-2.4 1.2h-0.7l-2.4-1.2h-3.5l-2.4 0.7h-1.6l-2.4-1h-1.8l-2.4-2.2h-4.1l-2.4 2.4h-3.7l-2.4-2.4h-1.4l-2.4 2.5h-3.7l-2.4-1.9h-4l-2.4-0.3h-1.1l-2.4 3.8h-3.1l-2.4-3.7h-0.9l-2.4 0.5h-3.9l-2.4 3.2h-1.7l-2.4-2.9h-0.7l-2.4-1h-3.6h-2.4h-2l-2.4 1h-0.7l-2.4 1.1h-3.7z" fill="#000000" stroke="#000000" stroke-width="1.6" stroke-linejoin="round"/>
<polyline points="735.5,514.7 736.5,518.5 737.5,531.0 738.5,542.9 739.5,548.9 740.5,554.8 741.5,560.7 742.5,566.6 743.5,572.5 744.5,578.5 745.5,584.4 746.5,590.3 747.5,590.9 748.5,590.2 749.5,589.6" fill="none" stroke="#000000" stroke-width="7.5" stroke-linejoin="round" stroke-linecap="round"/>
<path d="M187.4 973.2h3.6l2.4-1h2.1l2.4 1.6h2.4l2.4-0.8h2.9l2.4-5.4h1.3l2.4 6.3h1.5l2.4-5.5h1.3l2.4 0.1h3.2l2.4 5.5h3l2.4-2h3l2.4 0.2h3.5l2.4-4.7h2.5l2.4 3.5h2.6l2.4-0.8h1.6l2.4 2h1.9l2.4-0.7h2.1l2.4 1.4h1.4l2.4-3h3.4l2.4 0.4h2l2.4 3.6h3.2h2.4h1l2.4-0.1h2.7l2.4-5.4h1.9l2.4 3.1h1.8l2.4-0.5h3.6l2.4-3h1.9l2.4 5.1h3.5l2.4-2.3h2.4l2.4-0.9h2.2l2.4 0.3h1.4l2.4-2h1.3l2.4 1.4h0.6l2.4-0.9h1.7l2.4 3.4h0.8l2.4 1.5h0.9l2.4-4h2.1l2.4 3.9h1.7l2.4-1h2.6l2.4-4h2.2l2.4 2.4h1.3l2.4-1.8h2.1l2.4 1h1.9l2.4-0.2h3.1l2.4-2.1h2l2.4 0.8h2.5l2.4 2.6h0.9l2.4-2.6h2.1l2.4-1.3h2l2.4 0.4h0.8l2.4 1.3h3.4l2.4-0.4h1.1l2.4 2.5h2.1l2.4-3.1h2.7l2.4-0.5h1.2l2.4 1.9h1.2l2.4-1.9h1.9l2.4 5.3h1l2.4 0.7h1h2.4h2.8l2.4-4.7h3.5l2.4 2.4h0.9l2.4-3.7h2.5l2.4 4h3l2.4 0.3h1.2l2.4 1.5h3.5l2.4-2.4h0.9l2.4-2.2h2.8l2.4 4.2h3.3l2.4 0.4h1l2.4-5.8h0.9l2.4-0.4h0.9l2.4 4.6h1.9h2.4h2.7l2.4 1.8h2.1l2.4-0.1h2.9l2.4 0.4h1.9l2.4-6.8h2.2l2.4 2.1h1.1l2.4 4.9h3.5l2.4-0.8h0.9l2.4-4.1h3.1l2.4-0.8h2.7l2.4 5.2h1.7l2.4-6.2h2.2l2.4 2.8h1.4l2.4 2.9h1.4l2.4-5.2h0.7l2.4 2.1h0.9l2.4 3.7h2.5l2.4-1.3h1.1l2.4-3.5h3.3l2.4-1.4h1.7l2.4 1.6h3.1l2.4 4.6h1.1l2.4 0.1h1.5l2.4-1.7h3.5l2.4-0.5h3.2l2.4 2.4h2.1l2.4-3.7h1.6l2.4 2.9h2.5l2.4-0.6h0.7l2.4-2.9h3l2.4 0.1h2.9l2.4 4.3h2.1l2.4-3.7h1.2l2.4 2.9h1.7l2.4-4.2h2.7l2.4 4.2h1.7l2.4 0.7h2.3l2.4-6.8h1.9l2.4 5.6h2.9l2.4-3h1.4l2.4 2.1h3.2l2.4-4.5h1.4l2.4 1.8h3.2l2.4 2.9h3l2.4 1h2.7l2.4-3.2h1.8l2.4-0.4h2.6l2.4 4.5h2.4l2.4-4.9h1.8l2.4 2.4h1.9l2.4 0.9h1.9l1.9 4.2h0.1l1.4 0.8h0.1l1.4-7h0.1l1.4-1.2h0.1l1.4-0.1h0.1l1.4-1.3h0.1l1.4 0.6h0.1l1.4 0.4h0.1l1.4-1h0.1l1.4 2.3h0.1l1.4-2.3h0.1l1.4 1.6h0.1l1.4-0.8h0.1l1.4-1.3h0.1l1.4-0.3h0.1l1.4 5h0.1l1.4-0.8h0.1l1.4-3.8h0.1l1.4 1h0.1l1.4 0.6h0.1l1.4 3.3h0.1l1.4-4.1h0.1l1.4 4h0.1l1.4-4.8h0.1l1.4-0.6h0.1l1.4 1.3h0.1l1.4-0.9h0.1l1.9-4.5h1.7l1.9 2.6h0.1l1.9 6.7h1.6l2.4-10.4h1.9l1.9-0.4h0.1l1.9 9.9h2.3l2.4-5.2h2.8l2.4 4.5h2.9l2.4-7.1h2.8l2.4 7.6h0.2l2.4-0.9h0.3l2.4-3.5h2.4l1.9-3.2h0.1l1.9 7.5h1.8l2.4-5.9h2.6h1.9h0.1l1.9 7.1h1.6l2.4-10h2.8l2.4 8.4h0.3l2.4 0.9h0.2l2.4-5.6h2.1l1.9 0.5h0.1l1.9 5.4h2.1l2.4-7h2.1l1.9-0.7h0.1l1.9 7h2.1l2.4-9.2h2.9l2.4 10h0.2l2.4-1.6h0.2l2.4-5.7h2.6l1.9-1.8h0.1l1.9 6.9h1.6l2.4-5.7h2.8l2.4 7.8h0.2l2.4-0.8h0.3l2.4-6.9h2.7l2.4 8.4h0.3l2.4-2h0.3l2.4-7.8h2.2l1.9 0.6h0.1l1.9 8.4h2l2.4-6.9h2l1.9-2.8h0.1l1.8 7.3h0.1l2.2 0.8h0.1l2.3-3.6h2.4l1.9-1.9h0.1l1.9 6.7h1.8l2.4-9.4h2.6l1.9 0.8h0.1l1.9 8.9h1.6l2.4-5.7h1.9l1.9-0.5h0.1l1.9 4.9h2.3l2.4-5.9h2.1l1.9-3.1h0.1l1.9 10.1h2.1l2.4-6.7h1.8l1.9-2.7h0.1l1.9 8.2h2.4l2.4-5.8h2.6l1.9 0.5h0.1l1.9 6.5h1.6l2.4-5.7h2.9l2.4 4.4h2.8l2.4-6.3h2.3l1.9 1.2h0.1l1.9 6.8h1.9l2.4-7.7h2.3l1.9 1.2h0.1l1.9 5.8h1.9l2.4-9.4h2.2l1.9 3.7h0.1l1.9 4.8h2l2.4-6.1h2l1.9 0.9h0.1l1.8 5.3h0.1l2.2-0.2h0.1l2.3-5.3h2l1.9 1.4h0.1l1.8 4.3h0.1l2.2 0.8h0.1l2.3-8.5h1.9l1.9-0.9h0.1l1.8 8.6h0.1l2.3 0.4h0.1l2.3-4.6h2.7l2.4 5.9h0.3l2.4-0.4h0.3l2.4-6.6h2.3l1.9-0.3h0.1l1.9 6.6h1.9l2.4-9.4h2.5l1.9 2.5h0.1l1.9 4.9h1.7l2.4-7.5h2.4l1.9 0.3h0.1l1.9 8.2h1.8l2.4-5.2h3l2.4 6.1h2.7l2.4-7.7h2.9l2.4 6.9h2.8l2.4-6.6h2.4l1.9-1.4h0.1l1.9 9.4h1.8l2.4-9.9h2.2l1.9 1h0.1l1.9 8.5h2l2.4-11h2.1l1.9 1.6h0.1l1.9 8h2.1l2.4-8h2.6l1.9 3.2h0.1l1.9 4.6h1.6l2.4-4.8h2.2l1.9-1.7h0.1l1.9 5.9h2l2.4-6h2.8l2.4 7.6h0.3l2.4 0.4h0.2l2.4-9.5h2l1.9 3h0.1l1.9 6h2.2l2.4-9h2.1l1.9-0.3h0.1l1.9 8.6h2.1l2.4-5.4h2.3l1.9-2.2h0.1l1.9 9h1.9l2.4-9.2h2.1l1.9 2.4h0.1l1.9 6.8h2.1l2.4-6h2.1l1.9-2.1h0.1l1.9 7.4h2.1l2.4-8h2.3l1.9-0.5h0.1l1.9 8.4h1.9l2.4-8.5h2.4l1.9 0.1h0.1l1.9 6.8h1.8l2.4-7.1h2.3l1.9-0.1h0.1l1.9 10h1.9l2.4-5.9h2.6l1.9-3h0.1l1.9 7.3h1.6l2.4-9.6h2.1l1.9 3.7h0.1l1.9 7.7h2.1l2.4-6.5h2l1.9-2.7h0.1l1.8 7.3h0.1l2.2 0.9h0.1l2.3-10.2h2.1l1.9 2.2h0.1l1.9 7.9h2.1l2.4-8.4h2.7l2.4 7.3h0.3l2.4 2h0.3l2.4-8.9h2.9l2.4 8.3h0.2l2.4-0.1h0.2l2.4-7.9h1.8l1.9 2.2h0.1l1.9 4.2h2.4l2.4-6.1h2l1.9-0.5h0.1l1.8 8.5h0.1l2.2 0.1h0.1l2.3-8.8h2.2l1.9 0.8h0.1l1.9 7.1h2l2.4-5.7h2l1.9-3.6h0.1l1.9 10h2.2l2.4-7.9h2.9l2.4 7.6h2.8l2.4-6.9h2.7l2.4 5.2h3l2.4-5.3h2.1l1.9 0.6h0.1l1.9 4.6h2.1l2.4-8.5h2.1l1.9 4.4h0.1l1.9 4.6h2.1l2.4-8.1h2.4l1.9 2h0.1l1.9 6.8h1.8l2.4-7h1.9l1.9 0.5h0.1l1.9 5.1h2.3l2.4-6.8h2.1l1.9 1.6h0.1l1.9 5.4h2.1l2.4-4.9h2l1.9-1.6h0.1l1.9 8.6h2.2l2.4-6.8h2.8l2.4 5.5h0.2l2.4-0.2h0.3l2.4-4.4h2.7l2.4 5.3h3l2.4-7.3h2.2l1.9-2.4h0.1l1.9 9.1h2l2.4-6.2h2.4l1.9 0.4h0.1l1.9 6.6h1.8l2.4-9.4h2.2h1.9h0.1l1 8h0.1l-0.9 29.6h-1.3l-2.4 1h-3.5l-2.4-0.7h-0.8l-2.4 3.7h-0.9l-2.4-3.4h-1.6l-2.4-1.5h-1l-2.4 4.9h-3l-2.4-3.2h-0.8l-2.4-2.6h-1.7l-2.4 3.3h-1.1l-2.4-3.6h-2.6l-2.4 5.5h-1.4l-2.4-1.4h-3.1l-2.4-4.1h-2.6l-2.4 4.1h-2.8l-2.4-0.2h-3.5l-2.4 2.4h-2.4l-2.4-1.2h-3.1l-2.4-4.5h-1.2l-2.4 3.5h-1.3l-2.4 0.1h-1.9l-2.4-0.5h-0.9l-2.4-3.4h-2.9l-2.4 4.5h-1.7l-2.4-0.2h-1.9l-2.4-2.5h-0.7l-2.4 0.8h-2.6l-2.4 1.7h-2.3l-2.4-0.1h-0.7l-2.4-0.7h-2.5l-2.4 2.3h-1.3l-2.4-5.7h-0.8l-2.4 2.6h-1.2l-2.4 3.2h-1l-2.4-3.3h-2.7l-2.4 3.4h-1.9l-2.4-3.6h-0.6l-2.4 2.9h-3.2l-2.4-3.4h-2.1l-2.4 1.4h-2.9l-2.4-0.2h-1.4l-2.4-3.1h-0.7h-2.4h-0.8l-2.4 1.9h-2l-2.4-2.2h-2l-2.4 1.2h-1.7l-2.4 2h-2l-2.4-1.4h-0.6l-2.4-1.3h-3.1l-2.4 5.6h-3.3l-2.4-2.8h-3.3l-2.4 3.2h-2.5l-2.4-4h-0.6l-2.4 3.4h-3.5l-2.4-2.2h-3.4l-2.4-1.7h-3.3l-2.4-1.3h-3l-2.4 3.6h-3.2l-2.4-4.1h-3.2l-2.4 0.4h-2.3l-2.4 4.2h-3.1l-2.4-2.9h-1.4l-2.4 3.9h-1.1l-2.4-1.7h-2.6l-2.4 2.4h-2.6l-2.4-1.1h-3.4l-2.4-5.3h-2.8l-2.4 0.5h-1.4h-2.4h-1.3l-2.4 2.7h-1.7l-2.4-2.9h-0.8l-2.4 0.8h-3.6l-2.4-1.1h-3.2l-2.4 0.7h-3.2l-2.4-0.1h-0.8l-2.4 1.2h-0.7l-2.4 0.5h-3.5l-2.4 3.2h-0.7l-2.4-4.5h-3.2l-2.4 3.9h-1.4l-2.4-4.4h-2.8l-2.4 0.3h-3.2l-2.4 3.7h-0.8l-2.4-4.4h-0.8h-2.4h-2.7l-2.4 1.8h-2.6l-2.4 2h-2.8l-2.4 1.8h-2.2l-2.4-4.9h-3.6l-2.4 5.3h-1.8l-2.4-3.9h-3.1l-2.4 2.3h-3.5l-2.4-1.6h-1.3l-2.4 0.3h-0.6l-2.4-1.1h-1.8l-2.4-0.8h-2.3l-2.4 3.3h-2.7l-2.4 1.3h-0.8l-2.4-5.3h-2.3l-2.4 0.7h-3l-2.4 1.3h-1.2l-2.4-2h-2.8l-2.4 0.2h-1l-2.4 2h-2.4h-2.4h-1.3l-2.4 1h-2.4l-2.4-2h-1.7l-2.4 0.4h-3.1l-2.4-1.2h-2.7l-2.4 1.3h-2.2l-2.4 2.7h-1.8l-2.4-1.1h-1.9l-2.4 0.6h-2.4l-2.4-3.8h-1l-2.4 2.7h-2.4l-2.4-3.1h-1.4l-2.4 0.1h-0.9l-2.4 4.2h-1.1l-2.4-1h-1.5l-2.4-2h-3.4l-2.4-1.3h-2.1l-2.4 0.7h-3.1l-2.4 5.4h-2.9l-2.4-5.9h-1.5l-2.4 5.2h-2.3l-2.4-1.2h-1.8l-2.4-3.4h-0.9l-2.4 4.8h-0.8l-2.4-0.3h-0.7l-2.4-1.6h-2.5l-2.4-2.3h-2.9l-2.4 4.7h-0.8l-2.4-5.9h-3.3l-2.4 3.4h-2.4l-2.4 1h-2.4l-2.4-0.5h-1.3l-2.4-4.1h-2.6l-2.4 5h-2.8l-2.4-0.4h-2.2l-2.4-3.9h-2.9l-2.4 3h-3.2l-2.4-3.3h-1.9l-2.4 3.9h-0.9l-2.4 1.6h-3.5l-2.4-5.8h-0.8h-2.4h-0.8l-2.4 2.8h-1.8l-2.4-2.9h-2.1l-2.4 5.8h-3.6l-2.4-3.1h-3.5l-2.4 1.9h-1.6l-2.4-1.3h-3.5l-2.4-2.3h-3.3l-2.4 3.8h-1.7l-2.4-2.8h-2.2l-2.4 0.1h-2.8l-2.4 1.3h-1l-2.4-2.8h-3.4l-2.4 0.4h-2.6l-2.4 1.8h-1.7l-2.4-0.1h-3.1l-2.4-2.6h-2.7h-2.4h-0.6l-2.4 0.3h-2l-2.4 5.2h-1.9l-1.9-1.5h-0.1l-1.4-3.4h-0.1l-1.4 0.2h-0.1l-1.4 5.1h-0.1l-1.4-4.9h-0.1l-1.4 4.3h-0.1l-1.4-1.4h-0.1l-1.4-3.7h-0.1l-1.4 1.2h-0.1l-1.4 1.7h-0.1l-1.4-2.7h-0.1l-1.4-0.1h-0.1l-1.4 4.6h-0.1l-1.4-4.3h-0.1l-1.4 1.5h-0.1l-1.4-0.4h-0.1l-1.4-1.5h-0.1l-1.4 5.4h-0.1l-1.4 0.5h-0.1l-1.4-3.1h-0.1l-1.4-1h-0.1l-1.4 1.7h-0.1l-1.4 0.2h-0.1l-1.4 1.2h-0.1l-1.4 2.2h-0.1l-1.4 2.5h-0.1l-1.4-2.1h-0.1l-1.4-4.6h-0.1l-1.4-5.5h-0.1l-1.9 5.8h-1.1l-2.4-4.1h-1.6l-2.4 1.8h-2.6l-2.4-3.1h-2l-2.4 3.7h-2.2l-2.4-1.3h-1.4l-2.4 0.5h-2.1l-2.4 0.4h-3.3l-2.4-3.4h-3.1l-2.4 3.8h-0.9l-2.4 1.2h-0.8l-2.4-0.9h-2.4l-2.4-1.9h-2l-2.4-1.3h-2.8l-2.4 4.5h-1.9l-2.4-0.9h-1.1l-2.4-3.5h-2.6l-2.4-1.2h-0.7l-2.4 0.4h-1.5l-2.4-0.5h-1.1h-2.4h-1.4l-2.4 0.2h-3.6l-2.4 2.9h-1l-2.4-2.2h-2.7l-2.4 4.9h-2.6l-2.4-1.8h-1.3l-2.4-1.3h-2.5l-2.4 0.7h-1.4l-2.4 1.7h-1.8l-2.4-1.8h-2.1l-2.4-3.1h-1.5l-2.4 0.7h-2.5l-2.4 0.5h-1.7l-2.4 4h-1.6l-2.4-2.6h-1.6l-2.4 2.8h-1.8l-2.4-5.5h-0.9l-2.4 5h-0.9l-2.4-0.5h-3l-2.4-4.4h-2.1l-2.4 0.8h-1.9l-2.4-0.7h-1.4l-2.4-0.1h-1.8l-2.4 0.1h-1.7l-2.4 4.1h-0.9l-2.4 0.8h-3.3h-2.4h-0.6l-2.4-5.2h-1.1l-2.4 3.2h-3.5h-2.4h-2.8l-2.4 2.6h-1.8l-2.4-4.8h-2.3l-2.4 1.2h-3.6l-2.4 0.7h-3l-2.4-1.8h-3.5l-2.4 0.7h-3.2l-2.4 2.4h-3l-2.4-0.6h-0.7l-2.4-0.7h-2l-2.4 2h-1.9h-2.4h-2.3l-2.4-4.6h-2.3l-2.4 2.3h-2.9h-2.4h-3.4l-2.4-1.5h-1.7l-2.4-0.3h-1l-2.4-0.2h-3.2l-2.4 5.3h-1.7l-2.4-0.5h-0.6l-2.4-1h-1.8l-2.4 0.5h-1.1l-2.4-2.3h-0.9l-2.4 0.3h-0.9l-2.4-0.8h-1.9h-2.4h-2.5l-2.4-1.8h-1.1l-2.4 3.5h-1l-2.4-3.6h-1.2l-2.4 0.1h-1.9l-2.4 2.9h-3.2l-2.4 2h-1.2l-2.4-2.4h-1.1l-2.4-2.1h-3.5l-2.4-0.7h-1.9l-2.4 2h-2.3l-2.4 2.3h-1.7l-2.4-0.8h-1l-2.4 0.4h-2.6l-2.4-1.1h-2.2l-2.4 1.2h-0.6l-2.4 1.2h-0.9h-2.4h-2.8l-2.4 0.3h-3.5l-2.4-1.1h-2.6l-2.4-3.3h-1.4l-2.4 2.2h-1.9l-2.4-1h-2.9l-2.4-2.2h-0.8l-2.4 2.5h-3.2l-2.4 2.8h-0.6l-2.4 0.3h-2.6l-2.4-4h-1.6l-2.4 0.1h-2.8l-2.4 2.6h-1.5l-2.4-0.7h-2.8l-2.4-2.1h-1.3l-2.4 0.8h-1.1l-2.4 0.2h-3.2l-2.4 2.5h-3.1l-2.4-4.1h-2.4l-2.4-0.2h-1l-2.4 4.8h-3.3l-2.4-2.7h-0.9l-2.4-0.7h-3.3l-2.4-0.4h-0.7l-2.4 0.1h-3.3l-2.4-2h-1.1l-2.4 2.6h-3.5l-2.4-1.7h-1.9l-2.4 3.3h-1.1l-2.4-2.4h-3.4l-2.4 3.6h-1l-2.4-4.8h-2.5l-2.4 4.7h-3l-2.4-0.8h-1.8z" fill="#ff0000" stroke="#ff0000" stroke-width="1.4" stroke-linejoin="round"/>
<path d="M187.4 982.2h2.6l2.4-0.3h2.8l2.4 0.3h2.6l2.4 0.7h3.5l2.4 0.1h1.8l2.4-1.8h2.5l2.4 1.6h2.7l2.4 0.3h3.3l2.4-0.8h2.7l2.4 0.8h0.4l2.4-1.6h0.6l2.4 1.1h0.4l2.4 0.2h1.8l2.4 0.3h0.2h2.4h2.7l2.4-1.4h3.4l2.4 1.3h0.7h2.4h2h2.4h2.2l2.4-1.3h3.5l2.4 1.2h0.5h2.4h2l2.4-1.5h1.7l2.4 1.5h2.9l2.4-1.4h1.2l2.4 0.8h1.9l2.4-0.5h2.1l2.4 1.1h0.3l2.4-0.8h0.6l2.4 1h2.3h2.4h0.8l2.4-0.1h3.5l2.4-1.4h1.1l2.4 1.3h3.4l2.4-0.2h2.7l2.4 0.3h0.4l2.4 0.1h1.3l2.4-1.5h3.2l2.4 1.5h3l2.4-0.8h3.2l2.4-0.1h0.3l2.4 0.2h1.5l2.4-0.8h0.2h2.4h3.3l2.4 1.5h0.6l2.4-1.5h2.5h2.4h1.6l2.4 0.5h2.1l2.4 0.5h1.6l2.4 0.5h3.5l2.4-0.8h0.7l2.4 0.7h0.6l2.4-0.5h2.8l2.4-0.8h2.9l2.4 0.7h2.1l2.4-0.6h1.3h2.4h0.8l2.4 1.3h1.1l2.4-0.5h1.5l2.4 0.3h2.3l2.4-0.4h1.9l2.4 0.2h1.7l2.4 0.1h3l2.4-0.4h0.5l2.4-1.1h0.4l2.4 1.8h1.2h2.4h2.5l2.4-1.6h2.1l2.4 1.6h3l2.4-0.3h0.2l2.4-0.9h1.5l2.4 1.1h2.8l2.4-0.8h1.4l2.4-0.2h2.6l2.4 0.3h1.2l2.4 0.8h1.5l2.4-0.9h0.7l2.4 0.5h3.3l2.4 0.4h1.1l2.4-0.1h3.3l2.4-1.7h0.8l2.4 1.3h0.9l2.4 0.5h0.9l2.4-1.3h0.9l2.4 1.1h1.5l2.4 0.1h2.6l2.4-0.4h1l2.4-1.3h1.6l2.4 0.7h3.4l2.4-0.1h1.1l2.4-0.6h2.1l2.4 0.6h0.2l2.4 1.2h2.5h2.4h0.2l2.4-0.7h3.4l2.4-0.4h1.4l2.4 1.1h3l2.4-1h2.1l2.4 0.9h1.7l2.4 0.1h3.1l2.4-0.7h3.1l2.4 0.2h2.5l2.4 0.4h1.4l2.4-0.3h0.9l2.4 0.2h1.3l2.4 0.1h3.4l2.4-0.3h0.4l2.4-0.3h1.6l2.4 0.1h2.6l2.4-0.4h2.2l2.4 0.8h3.1l2.4 0.1h0.8l2.4-0.7h3.2l2.4-0.6h0.3l2.4 1.2h0.6l2.4-0.5h0.9l2.4-0.5h2.7l2.4-0.1h2.4l2.4 1.3h1.3l2.4-0.1h2.3l2.4-1.5h3.4l2.4 0.6h1.7h2.4h2.7l2.4-0.9h3.2l2.4 1.3h2.2l2.4 0.6h1.6l2.4-1.1h3.1l2.4 1.1h0.2l2.4-1.7h1.4l1.9 3.2h0.1l1.4 4.3h0.1l1.4 5.9h0.1l1.4 2.6h0.1l1.4-1.8h0.1l1.4-0.1h0.1l1.4-1.8h0.1l1.4 0.1h0.1l1.4-1.7h0.1l1.4-1.6h0.1l1.4-0.3h0.1l1.4 0.2h0.1l1.4 1.2h0.1l1.4-0.2h0.1l1.4-0.3h0.1l1.4-0.6h0.1l1.4-1.1h0.1l1.4 1.5h0.1l1.4-0.6h0.1l1.4-0.9h0.1l1.4 0.9h0.1h1.4h0.1l1.4-1.4h0.1l1.4 1.4h0.1l1.4-0.7h0.1l1.4-0.6h0.1l1.4 0.9h0.1l1.4-0.7h0.1h1.9h2.9l2.4 0.4h3.3l2.4 0.5h2.6l2.4-1.3h2.1l2.4 1.3h3.2l2.4 0.2h2.5l2.4-0.6h2.1l2.4 0.7h3.5l2.4-0.6h3l2.4-0.2h1l2.4-0.6h3.3l2.4-0.3h0.5l2.4 1.6h1.5l2.4-0.8h2.4l2.4 0.7h3.3l2.4 0.3h0.5l2.4-0.8h1.4l2.4-0.3h2.5l2.4 1h0.5l2.4-0.4h1.7l2.4 0.4h0.6l2.4-1.1h2.5l2.4 0.9h3l2.4 0.2h1.2l2.4-1.1h3.3l2.4 0.5h2.5l2.4-1.1h0.1l2.4-0.2h2l2.4 0.5h1l2.4 0.7h1.5l2.4 0.5h1.7l2.4-1.6h1.1h2.4h3.2l2.4 1.8h0.9l2.4-0.1h2.8l2.4-1.3h1.4l2.4-0.1h2.3l2.4 1.1h1.3l2.4-0.3h3.1l2.4 0.1h1.4l2.4-0.5h2.6l2.4-0.8h0.8l2.4 1.3h3.1l2.4-1h0.4l2.4 0.6h1.7l2.4 0.9h0.7l2.4-1.2h1.2l2.4 0.7h2.9l2.4-0.6h2.6l2.4 1.1h2.5l2.4-0.3h2.9l2.4-0.9h3l2.4 1.1h3.3l2.4-1.6h1.2l2.4 0.8h0.5l2.4 1h0.8l2.4-0.5h1.3l2.4-0.1h3.3l2.4-0.2h1.2l2.4 0.7h0.4l2.4-1.3h3.3l2.4 1.4h3.5l2.4-1.5h3.3l2.4-0.4h2.1l2.4 0.2h3.5l2.4 0.9h0.1l2.4 0.4h3.4l2.4-0.6h2.8l2.4 0.1h2.2l2.4 0.9h0.6l2.4-1.5h0.9l2.4 1.5h0.4l2.4-1.2h1.3l2.4-0.1h1l2.4 0.8h2.9h2.4h2.9l2.4-1.4h1.7l2.4 0.4h2.7l2.4 0.9h3.5l2.4-0.5h0.4l2.4-0.6h1.4l2.4 0.9h3.5l2.4 0.1h3.6l2.4-0.9h2.9l2.4 0.7h2.9l2.4-0.2h3.6l2.4 0.9h0.8l2.4-0.5h1.5l2.4-0.9h2.7l2.4 0.5h1.4l2.4 0.9h1l2.4-0.9h2.1l2.4 1h2.3l2.4-1.3h3.4l2.4-0.7h3.3l2.4 1h0.6h2.4h0.6l2.4 0.1h3.4l2.4-0.3h0.5l2.4-0.4h3.3l2.4 1.6h3.4l2.4-0.5h3.3h2.4h0.8l2.4 0.2h0.4l2.4 0.3h2.1l2.4-0.1h0.7l2.4-1.4h2.5l2.4-0.2h2h2.4h0.5l2.4 1.6h2.9l2.4-0.3h1.4l2.4-1.2h1.2l2.4 1.2h0.8l2.4-0.6h0.7l2.4-0.6h2.1l2.4-0.2h2.9l2.4 1.5h1.6l2.4 0.1h2.5l2.4-1.3h0.8l2.4 1.4h2.6l2.4-1.7h0.6h2.4h3.4l2.4 1.3h2.8l2.4 0.4h2.5l2.4-0.3h2l2.4 0.3h2.4l2.4-0.1h0.5l2.4-1h0.2l2.4-0.5h3.6h2.4h1.6l2.4 1h1.8l2.4-0.1h0.4l2.4 0.4h2.5l2.4 0.4h0.2l2.4-0.3h3.4l2.4-0.3h3.2l2.4-1.1h1.3l2.4 0.8h0.6l2.4-1.1h1.5l2.4 0.7h2.2l2.4 0.7h0.4l2.4 0.5h1.5l2.4-1.8h2.8l2.4 0.6h2.9l2.4 0.9h1.3l2.4 0.2h0.3l2.4-0.8h0.7l2.4 0.2h1.1l2.4-0.7h0.1l2.4 0.2h0.2l2.4 1h0.5l2.4-0.1h0.6l2.4-0.9h3.1l2.4-0.5h1.1l2.4 1.3h0.6l2.4 0.3h1.4l2.4-0.1h0.6l2.4 0.1h3l2.4-0.8h3.3l2.4 0.8h1.2l2.4-1.4h3.5l2.4-0.4h2.3l2.4 1.5h1l2.4-0.7h0.8l2.4-0.8h0.3l2.4 0.9h0.6l2.4-0.1h1.5l2.4 0.9h0.4l2.4-0.2h0.1l2.4-0.8h2.2h2.4h2.4l2.4-0.5h0.9l2.4 0.7h1.8l2.4 0.1h0.7l2.4 0.9h0.1l0.3 7.7h-0.1l-2.2-0.4h-0.3l-2.4 1.7h-1.2l-2.4-0.2h-0.8l-2.4-0.8h-0.7l-2.4-0.2h-1.3l-2.4 0.8h-2.1l-2.4-1.1h-1.8l-2.4 1.1h-0.1l-2.4 0.6h-2.1l-2.4-1.4h-1.5l-2.4-0.2h-3.6l-2.4 0.6h-2.9l-2.4-0.9h-2.8l-2.4 0.8h-2h-2.4h-1.7l-2.4 0.4h-2.6l-2.4-1.2h-2.8l-2.4 1.1h-1.9l-2.4-0.6h-0.4l-2.4-0.4h-2.4l-2.4 0.5h-3l-2.4 0.2h-2.6l-2.4-0.1h-3.2l-2.4 1.2h-1.1l-2.4-1.7h-3.5h-2.4h-0.4l-2.4 1.4h-1.7l-2.4-1.5h-1l-2.4 0.3h-1.1l-2.4 1.3h-1.4l-2.4-1.1h-0.5h-2.4h-0.9l-2.4-0.5h-3.6l-2.4 0.4h-1.5l-2.4 1.4h-2l-2.4-1.8h-1.9l-2.4 1h-0.4l-2.4-0.3h-2.9l-2.4-0.6h-2.5l-2.4 1.8h-1.9l-2.4-1.3h-0.2l-2.4-0.2h-1.3l-2.4 1.1h-1.9h-2.4h-1.1l-2.4 0.3h-2.2l-2.4-1h-1.7l-2.4 1.1h-2.1l-2.4-0.1h-1.1l-2.4-1h-0.6l-2.4-0.5h-3.2l-2.4-0.1h-2.9l-2.4 0.5h-2.5h-2.4h-1.3l-2.4 0.2h-2.8l-2.4-0.1h-3.4l-2.4-0.7h-1l-2.4 1.8h-3.5l-2.4-1.8h-2.5l-2.4 1h-1.9l-2.4-1.1h-1.2l-2.4 0.2h-1.9h-2.4h-0.3l-2.4 1.8h-1.5l-2.4-1.5h-1.6h-2.4h-3.2l-2.4 1h-2.5l-2.4-0.1h-1.6l-2.4 0.1h-3h-2.4h-0.3l-2.4-0.4h-0.4l-2.4-1.1h-1.3l-2.4 1.6h-2.6l-2.4 0.3h-1.2l-2.4-1.6h-2l-2.4 0.3h-2.8l-2.4 1h-0.6l-2.4-1h-1.3l-2.4-0.3h-1.1l-2.4-0.2h-2.6h-2.4h-0.6h-2.4h-3.1h-2.4h-0.8l-2.4 0.7h-2l-2.4 0.6h-2.9l-2.4-0.3h-0.5h-2.4h-0.8l-2.4-0.8h-0.4l-2.4 1.5h-1.7l-2.4-1.1h-1.8l-2.4 0.2h-2.7l-2.4 0.9h-1.7l-2.4-1.5h-3.5l-2.4-0.2h-3.3l-2.4 0.1h-1.3l-2.4 1.8h-0.9l-2.4-1.8h-1.2l-2.4 0.4h-0.9l-2.4-0.3h-2.2l-2.4 1.3h-0.4l-2.4-0.4h-3.2l-2.4-1h-0.2l-2.4 1.9h-3.4l-2.4-0.6h-1.2l-2.4-1h-3.4l-2.4 0.3h-0.5l-2.4 0.2h-2.9l-2.4-0.3h-1.9l-2.4 0.5h-3l-2.4-0.4h-2.9l-2.4 0.9h-0.5l-2.4 0.1h-3.4l-2.4-1.2h-0.4l-2.4 0.4h-2h-2.4h-2.8l-2.4-0.6h-2.4l-2.4 0.9h-2.8l-2.4 0.4h-0.9l-2.4-0.7h-1.1l-2.4-0.9h-2.2l-2.4 1.3h-3.1l-2.4-0.9h-1.4l-2.4 0.2h-1l-2.4-0.1h-1.1l-2.4 1.4h-2.3l-2.4-0.7h-0.6l-2.4-0.6h-3l-2.4 0.6h-2.5h-2.4h-3l-2.4-0.3h-3.4l-2.4-0.6h-2l-2.4 1.1h-0.3l-2.4-1.2h-2l-2.4 1.4h-2.3l-2.4-0.1h-2.8l-2.4-0.2h-0.4l-2.4-0.1h-0.9l-2.4 0.3h-0.9l-2.4 0.4h-1.5l-2.4-1.4h-1.8l-2.4 0.8h-3l-2.4-0.2h-2.9l-2.4 0.3h-1.5l-2.4 0.1h-0.3l-2.4 0.1h-1.8l-2.4-0.5h-0.5l-2.4-0.2h-2l-2.4 0.3h-1.9l-2.4 0.9h-0.6l-2.4-0.4h-3.1l-2.4-0.6h-2.6l-2.4 0.7h-2.4l-2.4-0.7h-0.5l-2.4-0.7h-0.4l-2.4 0.5h-3.3l-2.4-0.2h-2.4l-2.4 1h-1.3l-2.4-0.2h-1.1l-2.4 0.4h-1.5l-2.4-0.6h-3.6l-2.4-0.6h-1.1l-2.4 0.7h-0.7l-2.4-0.2h-1.8l-2.4-1.1h-1.5l-2.4 1.9h-0.6l-2.4-0.1h-0.7l-2.4-0.6h-3.1l-2.4-0.9h-1.4l-2.4-0.1h-1.1l-2.4 0.3h-1.9l-2.4 1h-3.5l-2.4-0.6h-2.2l-2.4 0.5h-1.8l-2.4-1.3h-1.3l-2.4 0.1h-2l-2.4-0.1h-1.6l-2.4 0.9h-1.9l-1.9-0.7h-0.1l-1.4-0.2h-0.1l-1.4 0.1h-0.1l-1.4 0.7h-0.1l-1.4-0.1h-0.1h-1.4h-0.1l-1.4 1h-0.1l-1.4-1.6h-0.1l-1.4 0.1h-0.1l-1.4 0.8h-0.1l-1.4 0.6h-0.1l-1.4-0.9h-0.1l-1.4 2h-0.1l-1.4-0.3h-0.1l-1.4-1.4h-0.1l-1.4 1.6h-0.1l-1.4 0.3h-0.1l-1.4-0.4h-0.1l-1.4 0.7h-0.1l-1.4-0.5h-0.1l-1.4 1h-0.1l-1.4 1h-0.1l-1.4 2.4h-0.1l-1.4 0.4h-0.1l-1.4 0.2h-0.1l-1.4-2.6h-0.1l-1.4-3.1h-0.1l-1.9-8.4h-2.5l-2.4 0.2h-2.2l-2.4-0.1h-0.8h-2.4h-0.9h-2.4h-0.2l-2.4 0.2h-3.4l-2.4-0.2h-1.9l-2.4 0.1h-2.3l-2.4 1.1h-2.6l-2.4 0.5h-1.6l-2.4-0.5h-3.4l-2.4 0.2h-2.6l-2.4 0.2h-1.3l-2.4-0.7h-2.2l-2.4-0.8h-2.6l-2.4 1.3h-1.4l-2.4-1.5h-2.3l-2.4 1.7h-1.8l-2.4-1.4h-0.7l-2.4 1.6h-0.2l-2.4-1.5h-1.4l-2.4 0.7h-2.9l-2.4 0.8h-0.7l-2.4-1h-1.6l-2.4-0.7h-1.3l-2.4 1.5h-0.6l-2.4-0.5h-0.8l-2.4-0.7h-1.8l-2.4 0.2h-1.6l-2.4-0.6h-2.4l-2.4 0.3h-3.4l-2.4 0.1h-2.9l-2.4 0.2h-2.1l-2.4-0.1h-0.7l-2.4 0.4h-0.6l-2.4-0.3h-0.9l-2.4-0.2h-1.5l-2.4 0.5h-3l-2.4-1h-1.3l-2.4 0.3h-0.3l-2.4 0.7h-1.4l-2.4-1h-0.6h-2.4h-0.3l-2.4 0.3h-3.3l-2.4 0.2h-0.3l-2.4-0.1h-3.1l-2.4 1.5h-0.5l-2.4-1h-0.6l-2.4 0.7h-1.1l-2.4-0.5h-1.9l-2.4 0.5h-2.3l-2.4 0.3h-3.5l-2.4-1.7h-2.2l-2.4 0.3h-1.7l-2.4-0.5h-0.9l-2.4 0.1h-2.5l-2.4 0.5h-3.4l-2.4-0.5h-1.2l-2.4 0.5h-1l-2.4-0.5h-0.2h-2.4h-2.6l-2.4 0.1h-2.1l-2.4 0.9h-1l-2.4 0.3h-0.3l-2.4-1.4h-3.3l-2.4 1.9h-0.3l-2.4-1.4h-2.4l-2.4 0.8h-2.8l-2.4 0.1h-2.7l-2.4-1.2h-2.6l-2.4 0.7h-1.3l-2.4 0.8h-1.6l-2.4-1.7h-0.3h-2.4h-1.3l-2.4 0.9h-3.3l-2.4-0.8h-2.8l-2.4 0.7h-0.9l-2.4 0.2h-3.3l-2.4-1h-3.6l-2.4 1h-0.3l-2.4-0.2h-0.1l-2.4 0.7h-1.9l-2.4-1.2h-0.6l-2.4-0.2h-2.8l-2.4 1.2h-0.7h-2.4h-2.4l-2.4-1.3h-1.8l-2.4 1.9h-1.7l-2.4-1.8h-3.3l-2.4-0.1h-2h-2.4h-1l-2.4 1.3h-2.5l-2.4-0.3h-1.6l-2.4 0.7h-3.5l-2.4-0.7h-0.7l-2.4-1h-0.7l-2.4 0.4h-0.5l-2.4 0.7h-2.2l-2.4 0.6h-3l-2.4-1.1h-1.9l-2.4-0.5h-2.1l-2.4 0.3h-1.1l-2.4-0.3h-2.1l-2.4 0.9h-1.1l-2.4-0.9h-2.2l-2.4 0.9h-0.7l-2.4 0.1h-1l-2.4-0.8h-1.2l-2.4-0.3h-3.1l-2.4 0.9h-0.9l-2.4-0.7h-1.9l-2.4 0.4h-2.5l-2.4 0.3h-0.2l-2.4-0.9h-3.6l-2.4 0.1h-1l-2.4 1.7h-3.1l-2.4-1.2h-1.9l-2.4 0.5h-2.1l-2.4-0.9h-0.5l-2.4 0.7h-2.3l-2.4 0.2h-0.3l-2.4-0.5h-2.4l-2.4 0.2h-2.2l-2.4-0.8h-0.4l-2.4 0.3h-0.6l-2.4 1.6h-0.7l-2.4-0.9h-0.7l-2.4-0.5h-1.2l-2.4 1.1h-0.4l-2.4-0.4h-2.9l-2.4-1h-0.6l-2.4-0.2h-2.1h-2.4h-3l-2.4 0.7h-3.5z" fill="#0000ff" stroke="#0000ff" stroke-width="1.0" stroke-linejoin="round"/>
<polyline points="736.5,988.2 737.5,991.1 738.5,994.1 739.5,997.0 740.5,999.9 741.5,1001.8 742.5,1001.1 743.5,1000.5 744.5,999.8 745.5,999.1 746.5,998.5 747.5,997.8 748.5,997.1 749.5,996.5" fill="none" stroke="#0000ff" stroke-width="6" stroke-linejoin="round" stroke-linecap="round"/>
<path d="M187.4 889.8h1.1l2.4 0.7h1.9l2.4-4h3l2.4 4.6h2.6l2.4-1.8h2.4l2.4-0.3h2l2.4 3.4h3l2.4-5.7h1l2.4 1.6h2.2l2.4 1.7h2.8l2.4-2.1h1l2.4 4.3h3.2l2.4-5.4h0.9l2.4 3.7h1l2.4 1.8h1l2.4-1.3h0.7l2.4-4.3h1.1h2.4h3l2.4 1h2.6l2.4 4.3h2.7l2.4 0.4h2.2l2.4-0.2h2.4l2.4-1.6h0.7l2.4-3.2h1.5l2.4 4.5h2.5l2.4-4.2h2l2.4 4.7h3.4l2.4-1.4h2.1l2.4-0.3h2.5l2.4-1.9h3.3l2.4 3.2h0.7l2.4 0.1h3.2l2.4-2.1h2.8l2.4 2.1h3.5l2.4-0.9h1.9l2.4 0.2h1.9l2.4-0.6h3.3l2.4-1.3h2.5l2.4-2.1h2.8l2.4 3.6h1.2l2.4-0.3h1.7l2.4-3h2.3l2.4-0.1h2.1l2.4-1.1h2.2l2.4 5.8h1.4l2.4-3.5h1.7l2.4-1.1h2.8l2.4 0.9h2l2.4-0.6h1.5l2.4-1.2h1l2.4 1.3h2.8l2.4-1.7h2.4l2.4 3.5h3.2l2.4 2.3h2.9l2.4-2.8h2.3l2.4-0.5h2.6l2.4 1.8h0.8l2.4-1.1h2.8l2.4-2.4h3.5l2.4 1.2h3.5l2.4 1.2h0.8l2.4-0.9h1.7l2.4 0.9h0.8l2.4 1.5h2l2.4 0.2h2.3l2.4 0.9h0.9l2.4-0.9h3.4l2.4-0.3h1.6l2.4-4.1h1.4l2.4 3.4h3l2.4-0.2h3.1l2.4 1.1h1.6l2.4-4.5h2.7l2.4 5.2h2.8l2.4-1.4h0.9l2.4 2h1l2.4-1.7h0.7l2.4-2.1h0.6l2.4 1h1.7l2.4-1.8h3.4l2.4 3.5h3l2.4-0.5h1.6l2.4-2.7h1.7l2.4 2.6h2.6l2.4-3.4h2.5l2.4 5.1h2.1l2.4-2.2h1.6l2.4 1.7h2.7l2.4 0.3h1.2l2.4-5h1.1l2.4 3.7h2.6l2.4-0.1h3.2l2.4-2.8h2.6l2.4 1h2.5l2.4 1.4h3l2.4 1.2h0.7l2.4-3.3h1.2l2.4-0.9h1.6l2.4 3.6h3.2l2.4 0.5h1.3l2.4-2.2h3.6l2.4 0.1h2.9l2.4 3h2.4l2.4-4.9h1.1l2.4 1.8h2.4l2.4 0.2h1.1l2.4 2.9h2.7l2.4-3h0.8l2.4 1.9h2.1l2.4-5h2.6l2.4 0.6h2.9l2.4 3.5h1l2.4-2.5h2.2l2.4 4.1h3.1l2.4-0.2h1.5l2.4-2.3h0.7l2.4 1.7h2l2.4 1.1h1.3l2.4-2.7h1.6l2.4-3h2.8l2.4 4h2l2.4-4.2h3.5l1.9 1.1h0.1l1.4 6.1h0.1l1.4 5.2h0.1l1.4 4.8h0.1l1.4 0.5h0.1l1.4-0.4h0.1l1.4-2.6h0.1l1.4 2.1h0.1l1.4-1.2h0.1l1.4-1.4h0.1l1.4-4.6h0.1l1.4 2.3h0.1l1.4 0.7h0.1l1.4-1.6h0.1l1.4-3.7h0.1l1.4 1.6h0.1l1.4-0.8h0.1l1.4-1.5h0.1l1.4 3.7h0.1l1.4-2.4h0.1l1.4-1.3h0.1l1.4-0.4h0.1l1.4-0.5h0.1l1.4-0.3h0.1l1.4 2.2h0.1l1.4-1.6h0.1l1.4 1.5h0.1l1.4-1.3h0.1l1.4 3.6h0.1l1.9-8.2h2.3l1.9 3.6h0.1l1.9 4.2h1.8l2.4-4.2h2.4l1.9-0.2h0.1l1.9 3.5h1.8l2.4-3.1h2.2l1.9-0.1h0.1l1.9 4h2l2.4-7.7h2.4l1.9 0.3h0.1l1.9 7.2h1.8l2.4-4.2h2l1.9-3.9h0.1l1.9 9.2h2.2l2.4-9.2h2.3l1.9 2.6h0.1l1.9 6.4h1.9l2.4-7.3h2.5l1.9 1.6h0.1l1.9 4.7h1.7l2.4-4h2.5l1.9-3.1h0.1l1.9 6.1h1.7l2.4-3h1.8l1.9-1.4h0.1l1.9 5.4h0.1l2.3 0.6h0.1l2.3-5.6h2.4l1.9-0.9h0.1l1.9 7.1h1.8l2.4-5.3h2.1l1.9-0.4h0.1l1.9 5.7h2.1l2.4-9.7h2.7l2.4 8.9h3l2.4-7h3l2.4 7.3h2.7l2.4-5.8h2.5l1.9 1.3h0.1l1.9 4.9h1.7l2.4-6.1h2.8l2.4 4.8h0.2l2.4 1h0.3l2.4-8.6h2l1.9 3.1h0.1l1.8 6h0.1l2.2-1h0.1l2.3-3.8h2.8l2.4 4.8h2.9l2.4-5.4h2l1.9-0.6h0.1l1.8 4.4h0.1l2.2-0.8h0.1l2.3-3.9h2.3l1.9-2.3h0.1l1.9 6.9h1.9l2.4-5.8h2.1l1.9-1.3h0.1l1.9 6.7h2.1l2.4-4.6h2.3l1.9-1.7h0.1l1.9 7.9h1.9l2.4-7.3h2.7l2.4 6.3h0.3l2.4-0.2h0.3l2.4-4.8h2.5l1.9-0.3h0.1l1.9 4.7h1.7l2.4-7.7h2.5l1.9 1.5h0.1l1.9 7.4h1.7l2.4-6h1.9l1.9-0.3h0.1l1.9 6.3h2.3l2.4-7.4h2.2l1.9 3.3h0.1l1.9 5.1h2l2.4-7.4h3.1l2.4 6h0.1l2.4 0.2h0.1l2.4-8.2h2.8l2.4 7.4h0.3l2.4 0.1h0.2l2.4-4.4h3l2.4 4.6h0.2l2.4-0.4h0.1l2.4-4.6h2.8l2.4 5.9h2.9l2.4-7h1.9l1.9 1.9h0.1l1.9 4.3h0.1l2.2 1.5h0.1l2.3-7.7h3.1l2.4 6.6h0.1l2.4-0.3h0.1l2.4-5h2.8l2.4 4.7h0.2l2.4 0.2h0.3l2.4-7.4h3l2.4 8.5h0.2h2.4h0.1l2.4-5.9h2.2l1.9-2h0.1l1.9 7.1h2l2.4-4.7h1.9l1.9 0.4h0.1l1.8 3.5h0.1l2.3 0.4h0.1l2.3-4.4h2.7l2.4 5.3h0.3l2.4 0.6h0.3l2.4-7.2h2.7l2.4 5.4h3l2.4-5.6h2.9l2.4 5.6h2.8l2.4-3.6h2.6l1.9-4.3h0.1l1.9 9.3h1.6l2.4-8.2h2.6l1.9 0.1h0.1l1.9 6.6h1.6l2.4-5.5h1.9l1.9 0.3h0.1l1.9 5.4h2.3l2.4-4.6h3l2.4 6.6h0.1l2.4-2h0.2l2.4-3.8h2l1.9-1.4h0.1l1.8 4.8h0.1l2.2 0.9h0.1l2.3-6.9h1.8l1.9 1.1h0.1l1.9 5.5h2.4l2.4-6.9h2.9l2.4 5.8h2.8l2.4-4.5h2.8l2.4 5.7h2.9l2.4-6.1h2.5l1.9-1.5h0.1l1.9 7.7h1.7l2.4-5.4h1.9l1.9-0.5h0.1l1.9 5.9h2.3l2.4-5.2h2.8l2.4 5.4h0.2l2.4 0.2h0.3l2.4-5.6h2.3l1.9-2.7h0.1l1.9 7.9h1.9l2.4-6.2h3l2.4 6.8h0.2l2.4 0.6h0.1l2.4-7.2h2.2l1.9 1.3h0.1l1.9 3.6h2l2.4-6h1.9l1.9-1h0.1l1.8 7.8h0.1l2.3-0.1h0.1l2.3-6.1h2.9l2.4 7h2.8l2.4-4.8h1.9l1.9-1.6h0.1l1.8 6.1h0.1l2.3 1h0.1l2.3-6.4h2.8l2.4 4.8h2.9l2.4-7.6h2.9l2.4 8.6h0.2l2.4-1.7h0.2l2.4-4.6h2.5l1.9-2.8h0.1l1.9 7.2h1.7l2.4-4.1h2.4l1.9-2h0.1l1.9 9h1.8l2.4-6.7h2.5l1.9 0.2h0.1l1.9 5.1h1.7l2.4-5.4h2.6l1.9-1.4h0.1l1.9 7.5h1.6l2.4-7.8h2.2l1.9 1.1h0.1l1.9 6.1h2l2.4-6.2h2.1l1.9-0.4h0.1l1.7 5.8h0.1l2.2 0.3h0.1l2.3-5.4h3l2.4 5.2h2.7l2.4-8.1h2.7l2.4 7.4h0.3l2.4 1.2h0.3l2.4-7.9h2.5l1.9 0.4h0.1l1.9 9.1h1.7l2.4-8.8h2.1l1.9 3.3h0.1l1.9 3.7h2.1l2.4-8.1h2.2l1.9 1.2h0.1l1.9 7.5h2l2.4-5.7h1.8l1.9-1.8h0.1l1.9 6.5h0.1l2.3 0.3h0.1l2.3-8h1.9l1.9 3.3h0.1l1.2 4.5h0.1l-0.5 21.2h-0.1h-2.1h-1.9l-2.4 2.4h-3.4l-2.4 0.8h-1.2l-2.4-0.9h-1.9l-2.4 0.4h-2.9l-2.4 1h-3.1l-2.4-3.2h-3.3l-2.4 1.4h-3.5l-2.4-1.8h-2.8l-2.4 0.9h-1.7l-2.4 5.1h-2.1l-2.4 0.4h-3.2l-2.4-1.1h-1.8l-2.4-4.7h-0.7l-2.4 3h-1.4l-2.4-1h-2.5l-2.4 3.2h-2.6l-2.4-0.9h-2l-2.4-0.2h-2.3l-2.4-0.2h-2.5l-2.4-3.3h-2.4l-2.4 1.8h-2.9l-2.4-1.1h-0.9l-2.4 5.5h-3.5l-2.4-4.1h-2.5l-2.4 4.1h-1.5l-2.4-6h-1.9l-2.4 4.9h-1.9l-2.4-4.9h-2.2l-2.4 2.3h-3.3l-2.4-3.5h-2.2l-2.4 6.2h-1.1l-2.4 0.4h-1l-2.4-4.5h-0.8l-2.4 3.6h-3l-2.4-0.7h-3.4l-2.4 1.6h-1.6l-2.4-5.4h-2.9l-2.4 6h-1.1l-2.4-0.6h-3l-2.4-3.1h-3.5l-2.4 0.6h-0.8l-2.4-2.3h-1.9l-2.4 5.3h-2l-2.4-6.1h-2.3l-2.4 4.7h-2.1l-2.4 0.3h-3.6l-2.4-5.7h-2.3l-2.4-0.3h-1.3l-2.4 0.8h-2.4l-2.4 0.5h-1.4l-2.4 5.1h-1l-2.4-5.2h-1l-2.4-1h-1.8l-2.4 6.7h-1.3l-2.4-2.1h-3.2l-2.4-3.2h-1.7l-2.4 0.3h-2.7l-2.4 2h-0.7l-2.4 0.1h-1.8l-2.4-0.6h-1.6l-2.4 2.8h-0.6l-2.4-0.9h-1.1l-2.4 0.2h-2.6l-2.4-5.5h-2.2l-2.4 4h-2.9l-2.4-3.5h-2.6l-2.4-0.1h-1.5l-2.4 3.5h-0.6l-2.4-1h-2.7l-2.4 3h-2.5l-2.4-0.3h-3.5l-2.4-2.2h-1.1l-2.4-3.6h-2.6l-2.4 5.1h-2.6l-2.4-1.5h-1.8l-2.4 2.8h-2.9l-2.4-1.2h-1.3l-2.4-0.7h-2.9l-2.4-3.4h-1.4l-2.4 2.9h-0.7l-2.4 1h-3.4l-2.4-4.1h-3.4l-2.4 1.1h-0.9l-2.4 5.4h-1.7l-2.4-6.2h-1.9l-2.4 4.1h-0.8l-2.4-0.3h-0.6l-2.4-4.4h-3.3l-2.4 1.4h-2.6l-2.4 4.6h-1.5l-2.4-1.2h-0.6l-2.4-2.7h-2l-2.4-1.9h-1.7l-2.4 4.8h-3.4l-2.4-2.7h-1.3l-2.4-2h-1l-2.4 3.4h-2.7l-2.4-2.3h-3l-2.4 3.6h-1.5l-2.4-4.9h-2.8l-2.4-0.6h-2.5l-2.4 1.1h-3.3l-2.4 2.5h-1.7l-2.4-0.4h-1.1l-2.4 1.6h-3.3l-2.4-0.1h-1l-2.4 1.5h-0.8l-2.4-6.2h-0.7l-2.4 0.1h-1.9l-2.4 5.7h-0.9l-2.4-1.9h-1.3l-2.4-1h-1.2l-2.4 3.3h-3.4l-2.4-4.5h-3.5l-2.4 0.1h-2.3l-2.4 5h-3.1l-2.4-6.8h-3.2l-2.4 7.1h-1.8l-2.4-4.6h-1.9l-2.4 2.4h-0.8l-2.4-3.1h-1.5l-2.4-0.6h-1.9l-2.4 0.1h-1.9l-2.4 3.6h-1.7l-2.4-1h-1.8l-2.4-3.8h-3.5l-2.4 6.9h-2.9l-2.4-4.9h-1.1l-2.4 1.8h-0.6l-2.4 1.7h-2.9l-2.4-2.8h-2.8l-2.4 2.2h-1.6l-2.4-4.3h-2.6l-2.4 4.9h-0.7l-2.4 0.1h-3l-2.4-1h-2.4l-2.4 1h-2.7l-2.4-0.4h-1.5l-2.4-5.1h-2.5l-2.4 1.3h-1.3l-2.4 3.6h-1.4l-2.4-4.8h-3.4l-2.4 0.2h-0.7h-2.4h-0.9l-2.4 0.5h-2.6l-2.4 4.4h-2.6l-2.4-4.8h-2.3l-2.4 5.1h-3.2l-2.4-1.7h-2.7l-2.4-2.8h-1l-2.4 3.2h-1.5l-2.4 2.9h-1.3l-2.4-1.4h-0.8l-2.4 0.3h-3.6l-2.4-5.4h-1.1l-2.4 5.2h-2.9l-2.4-5.7h-1.9l-2.4 2.7h-1.4l-2.4 3.5h-3.6l-2.4-4.5h-2.5l-2.4 3.3h-3.5l-2.4 0.6h-1.5l-2.4-4.1h-0.9l-2.4 1.8h-0.7l-2.4 2.1h-1.7l-1.9-4.9h-0.1l-1.4 2.4h-0.1l-1.4 2.2h-0.1l-1.4-3.5h-0.1l-1.4 0.1h-0.1l-1.4 5h-0.1l-1.4-6.2h-0.1l-1.4 2.5h-0.1l-1.4-2h-0.1l-1.4 5.8h-0.1l-1.4-4.6h-0.1l-1.4-2.1h-0.1l-1.4 0.2h-0.1l-1.4 2.3h-0.1l-1.4 4.3h-0.1l-1.4-4.6h-0.1l-1.4 5.7h-0.1l-1.4-4.4h-0.1l-1.4 1.6h-0.1l-1.4 0.1h-0.1l-1.4 6.3h-0.1l-1.4-1.4h-0.1l-1.4-1.4h-0.1l-1.4 1h-0.1l-1.4 4.9h-0.1l-1.4-4h-0.1l-1.4-3.7h-0.1l-1.9-12.3h-1.6l-2.4-0.1h-0.9l-2.4 0.6h-1.5l-2.4-2.1h-3.2l-2.4 3.5h-0.7l-2.4-2.6h-1.1l-2.4 2.9h-1.4l-2.4-0.1h-3l-2.4-1h-3.6l-2.4 1.4h-2.9l-2.4-1.3h-1.4l-2.4 1.7h-2.1l-2.4-2.6h-2.5l-2.4 1.3h-1.6l-2.4 1.3h-1.5l-2.4-3.2h-0.9l-2.4-1.5h-2l-2.4 1.6h-2.6l-2.4-1.3h-1.5l-2.4 2.9h-3.1l-2.4 1.6h-3.5l-2.4-1.5h-0.6l-2.4-0.9h-0.7l-2.4 2.4h-0.6l-2.4-1.2h-1.1l-2.4 1.7h-1.9l-2.4-4.4h-2.8l-2.4 0.8h-2.2l-2.4 3.5h-2.2l-2.4-5h-2.1l-2.4-0.2h-2.5h-2.4h-1.3l-2.4 3.6h-3.3l-2.4-1.1h-2.1l-2.4-0.2h-1l-2.4-0.7h-1.6l-2.4 1.7h-3.4l-2.4 0.9h-0.9l-2.4-3.8h-2.8l-2.4 2.4h-1.9l-2.4-0.9h-2.4l-2.4-1.4h-0.9l-2.4 1.4h-2.2l-2.4-1.2h-1.9l-2.4-0.7h-3.5l-2.4 2.9h-3.1l-2.4 2.5h-2.1l-2.4-2.9h-1.9l-2.4 1.2h-3.6l-2.4 1h-1.8l-2.4-2.8h-2.9l-2.4 0.7h-1.8l-2.4-1.7h-2.2l-2.4-0.5h-3.5l-2.4 1.7h-1l-2.4 0.5h-2.4l-2.4-0.8h-1.8l-2.4-1h-2.4l-2.4 3h-0.8l-2.4-2.9h-3.2l-2.4 3h-1.5l-2.4-3.5h-1h-2.4h-2.3l-2.4-0.1h-3.5l-2.4 0.9h-3.4l-2.4-0.9h-2.5l-2.4 0.2h-0.9l-2.4 1.3h-1.7l-2.4 0.8h-2.5l-2.4 2.7h-2.3l-2.4-2.4h-1.2l-2.4-1.1h-3.5l-2.4-1.6h-2.4l-2.4-0.2h-1.8l-2.4 0.3h-3.4l-2.4 4.9h-1.8l-2.4-3.3h-2.8l-2.4-1.9h-3l-2.4 5.2h-3.2l-2.4-3.4h-2.8l-2.4 0.1h-2.2l-2.4 1.4h-1.3l-2.4-2.2h-3.1l-2.4 0.7h-0.8l-2.4-1.4h-1.6l-2.4 0.5h-1.1l-2.4 4.5h-1.2l-2.4-1.6h-0.7l-2.4 1.5h-2.8l-2.4-3.7h-1.1l-2.4 3.5h-2.6l-2.4-5.1h-2.6l-2.4 0.1h-3.1l-2.4 4.5h-3.4l-2.4-2.2h-2.6l-2.4-2.5h-2.1l-2.4 1.8h-2.5l-2.4-1.8h-2.9l-2.4 0.9h-1.4l-2.4 0.6h-2.2l-2.4 2h-2.5l-2.4 2h-2l-2.4-3.4h-1.4l-2.4-1.5h-1.5l-2.4 0.8h-2.5l-2.4-0.9h-0.7l-2.4 0.2h-2.8l-2.4-0.1h-1.1l-2.4 2.5h-2.1l-2.4-2.9h-3h-2.4h-1.2l-2.4 0.4h-3.4l-2.4 0.7h-1.9l-2.4 2h-1.8l-2.4 1.2h-1.2l-2.4-0.4h-3.1l-2.4 1.1h-3l-2.4-4.3h-1.6l-2.4 1.1h-2.2l-2.4-1.9h-1.4l-2.4 1.7h-1.9l-2.4 3.1h-0.8l-2.4-3.8h-2.1z" fill="#000000" stroke="#000000" stroke-width="1.4" stroke-linejoin="round"/>
</g>
<rect x="1019.5" y="913.75" width="205" height="41.5" fill="#fff"/>
<rect x="850" y="410" width="203" height="70" fill="#fff"/>
<g fill="#fff" stroke="#000" stroke-width="1.8">
<rect x="240" y="60" width="484" height="117.6"/>
<rect x="878" y="60" width="485" height="117.6"/>
</g>
<line x1="736.2" y1="143" x2="736.2" y2="1073.5" stroke="#000" stroke-width="6" stroke-linecap="round" stroke-dasharray="31.5 25.33"/>
<rect x="732.2" y="1074.5" width="8" height="8" fill="#fff"/>
<text x="306.5" y="132.5" font-size="51" class="b" >Before</text>
<text x="461.5" y="132.5" font-size="51" class="bi" >i</text>
<text x="477" y="140.5" font-size="32" class="i" stroke="#000" stroke-width="0.5">d</text>
<text x="506" y="132.5" font-size="51" class="b" >change</text>
<text x="958" y="132.5" font-size="51" class="b" >After</text>
<text x="1086" y="132.5" font-size="51" class="bi" >i</text>
<text x="1101.5" y="140.5" font-size="32" class="i" stroke="#000" stroke-width="0.5">d</text>
<text x="1130.5" y="132.5" font-size="51" class="b" >change</text>
<text transform="translate(178.0,210.1) scale(1.06,1)" font-size="51" class="b" text-anchor="end">0</text>
<text transform="translate(178.0,309.7) scale(1.06,1)" font-size="51" class="b" text-anchor="end">10</text>
<text transform="translate(87.2,307.40000000000003) scale(1.18,1)" font-size="51" class="b" stroke="#000" stroke-width="1.3">−</text>
<text transform="translate(175.0,406.29999999999995) scale(1.06,1)" font-size="51" class="b" text-anchor="end">20</text>
<text transform="translate(83.6,404.0) scale(1.18,1)" font-size="51" class="b" stroke="#000" stroke-width="1.3">−</text>
<text transform="translate(179.8,537.1) scale(1.06,1)" font-size="51" class="b" text-anchor="end">20</text>
<text transform="translate(179.8,654.4) scale(1.06,1)" font-size="51" class="b" text-anchor="end">10</text>
<text transform="translate(178.0,771.4) scale(1.06,1)" font-size="51" class="b" text-anchor="end">0</text>
<text transform="translate(180.0,845.1999999999999) scale(1.06,1)" font-size="51" class="b" text-anchor="end">10</text>
<text transform="translate(177.3,965.6999999999999) scale(1.06,1)" font-size="51" class="b" text-anchor="end">5</text>
<text transform="translate(178.0,1087.9) scale(1.06,1)" font-size="51" class="b" text-anchor="end">0</text>
<text transform="translate(197.8,1128) scale(1.06,1)" font-size="51" class="b" text-anchor="middle">0</text>
<text transform="translate(417.3,1128) scale(1.06,1)" font-size="51" class="b" text-anchor="middle">1</text>
<text transform="translate(641.1,1128) scale(1.06,1)" font-size="51" class="b" text-anchor="middle">2</text>
<text transform="translate(862.8,1128) scale(1.06,1)" font-size="51" class="b" text-anchor="middle">3</text>
<text transform="translate(1084.5,1128) scale(1.06,1)" font-size="51" class="b" text-anchor="middle">4</text>
<text transform="translate(1306.1,1128) scale(1.06,1)" font-size="51" class="b" text-anchor="middle">5</text>
<text transform="translate(1527.8,1128) scale(1.06,1)" font-size="51" class="b" text-anchor="middle">6</text>
<text x="836" y="1190.7" font-size="64" class="b" text-anchor="middle">Time(s)</text>
<text transform="translate(92,638.5) rotate(-90)" font-size="65" class="b" text-anchor="middle">Voltage(V)</text>
<text x="362" y="240" font-size="63" class="bi" >u</text>
<text x="399" y="248.1" font-size="42" class="bi" letter-spacing="-0.9">derr</text>
<text x="930.5" y="339" font-size="63" class="bi" >u</text>
<text x="965" y="347" font-size="42" class="bi" >d</text>
<text x="900" y="465" font-size="63" class="bi" >u</text>
<text x="934.5" y="472.5" font-size="42" class="bi" letter-spacing="1.0">dref</text>
<text x="1114.5" y="527" font-size="63" class="bi" >u</text>
<text x="1151" y="535.6" font-size="42" class="bi" letter-spacing="0.45">qref</text>
<text x="377" y="642" font-size="63" class="bi" >u</text>
<text x="411.5" y="650.5" font-size="42" class="bi" >q</text>
<text x="941.5" y="726.7" font-size="63" class="bi" >u</text>
<text x="978" y="735" font-size="42" class="bi" letter-spacing="-0.4">qerr</text>
<text x="405.5" y="858.75" font-size="63" class="bi" >u</text>
<text x="440.5" y="867" font-size="42" class="" >0</text>
<text x="461.5" y="867" font-size="42" class="bi" letter-spacing="2.3">ref</text>
<text x="1094.5" y="956" font-size="63" class="bi" >u</text>
<text x="1129.5" y="964.3" font-size="42" class="" >0</text>
<text x="1069.5" y="1045.3" font-size="63" class="bi" >u</text>
<text x="1104.5" y="1054.2" font-size="42" class="" >0</text>
<text x="1126.5" y="1054.2" font-size="42" class="bi" letter-spacing="-0.6">err</text>
<line x1="409.7" y1="208.56" x2="409.7" y2="264.5" stroke="#808080" stroke-width="3.4" stroke-linecap="round" stroke-dasharray="10.90 11.03"/>
</svg></body></html>
